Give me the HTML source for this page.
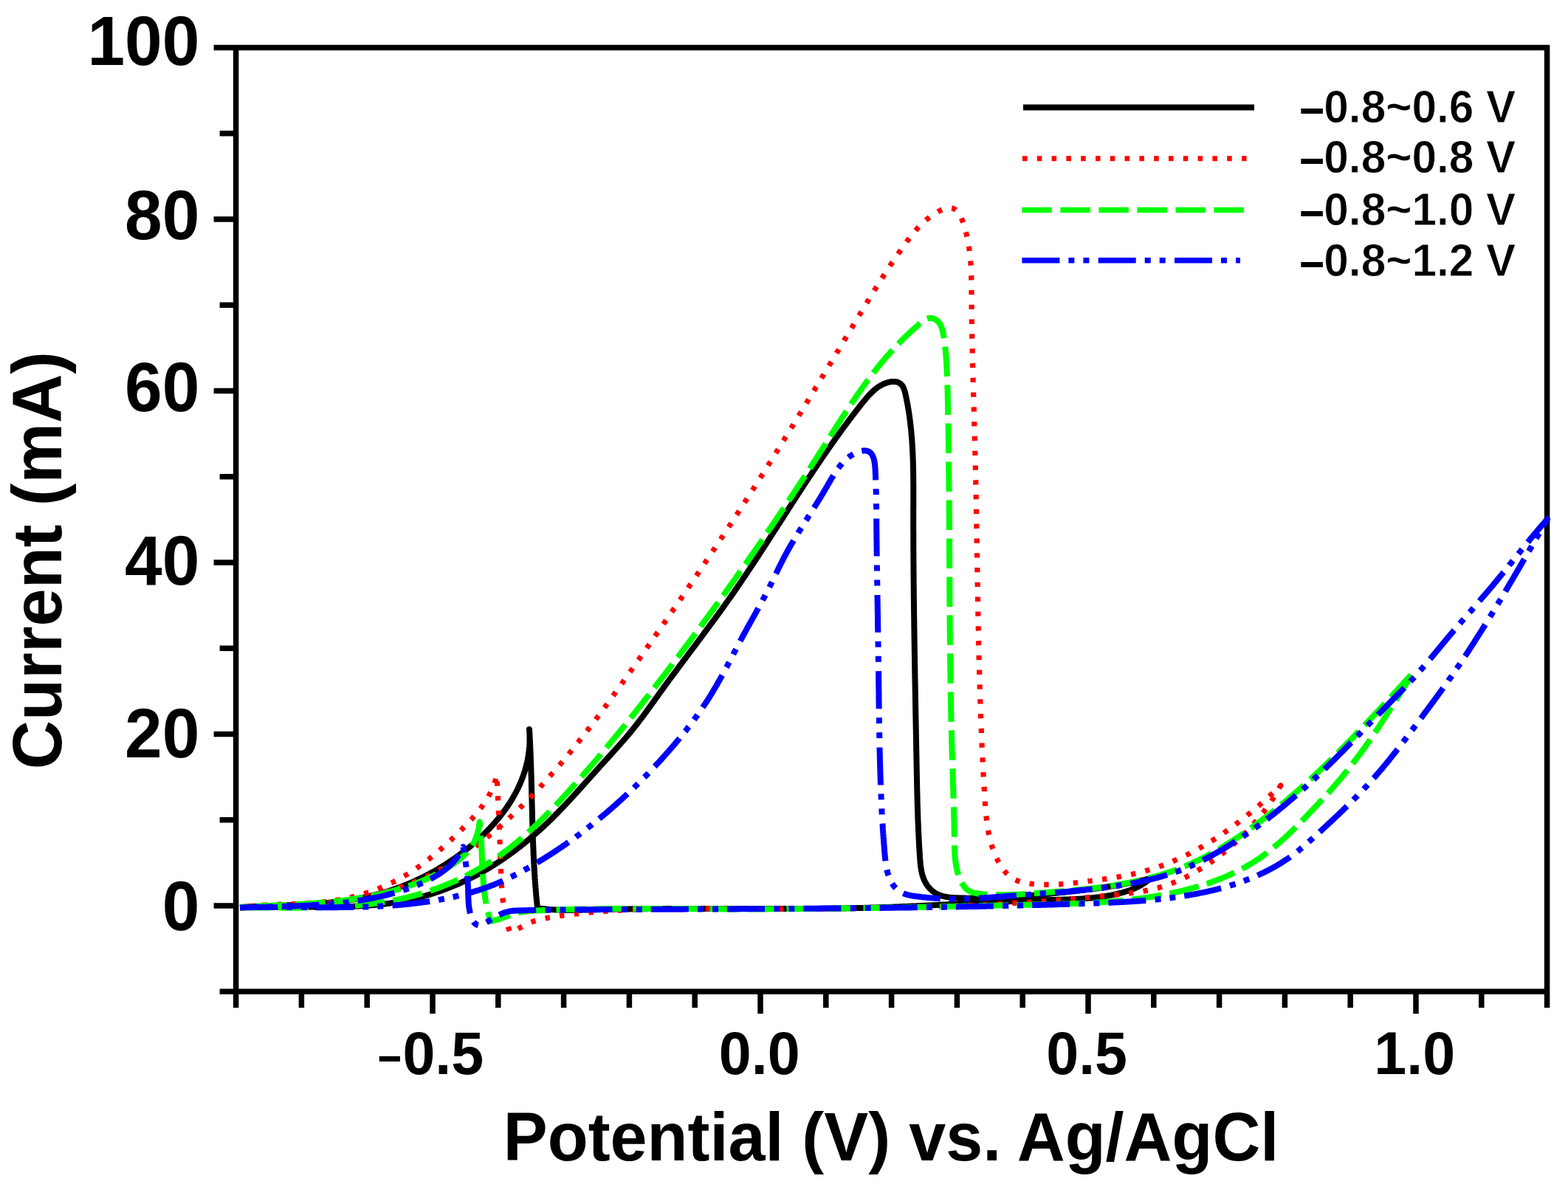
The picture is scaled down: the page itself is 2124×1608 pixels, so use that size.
<!DOCTYPE html><html><head><meta charset="utf-8"><title>Cyclic voltammetry</title>
<style>html,body{margin:0;padding:0;background:#fff;}body{width:2124px;height:1608px;overflow:hidden;}svg{display:block;} text{font-family:"Liberation Sans",Arial,sans-serif;font-weight:bold;fill:#000;}</style></head><body>
<svg xmlns="http://www.w3.org/2000/svg" width="2124" height="1608" viewBox="0 0 2124 1608">
<rect width="2124" height="1608" fill="#fff"/>
<path d="M319.6,64.5 H2095.6 V1343.2 H319.6 Z M297.6,1343.2 H319.6 M289.6,1227.0 H319.6 M297.6,1110.8 H319.6 M289.6,994.5 H319.6 M297.6,878.2 H319.6 M289.6,762.0 H319.6 M297.6,645.8 H319.6 M289.6,529.5 H319.6 M297.6,413.2 H319.6 M289.6,297.0 H319.6 M297.6,180.8 H319.6 M289.6,64.5 H319.6 M319.6,1343.2 V1365.2 M408.4,1343.2 V1365.2 M497.2,1343.2 V1365.2 M586.0,1343.2 V1373.2 M674.8,1343.2 V1365.2 M763.6,1343.2 V1365.2 M852.4,1343.2 V1365.2 M941.2,1343.2 V1365.2 M1030.0,1343.2 V1373.2 M1118.8,1343.2 V1365.2 M1207.6,1343.2 V1365.2 M1296.4,1343.2 V1365.2 M1385.2,1343.2 V1365.2 M1474.0,1343.2 V1373.2 M1562.8,1343.2 V1365.2 M1651.6,1343.2 V1365.2 M1740.4,1343.2 V1365.2 M1829.2,1343.2 V1365.2 M1918.0,1343.2 V1373.2 M2006.8,1343.2 V1365.2 M2095.6,1343.2 V1365.2" fill="none" stroke="#000" stroke-width="7.5" stroke-linecap="butt" stroke-linejoin="miter"/>
<path d="M325.0,1229.5L327.0,1229.4 328.9,1229.3 330.9,1229.2 332.9,1229.1 334.9,1229.0 336.9,1228.9 338.9,1228.9 340.8,1228.8 342.8,1228.7 344.8,1228.7 346.8,1228.6 348.8,1228.6 350.8,1228.5 352.8,1228.5 354.8,1228.5 356.8,1228.4 358.8,1228.4 360.8,1228.4 362.8,1228.4 364.8,1228.4 366.8,1228.3 368.8,1228.3 370.8,1228.3 372.8,1228.3 374.8,1228.3 376.8,1228.3 378.8,1228.3 380.8,1228.3 382.8,1228.3 384.8,1228.3 386.8,1228.4 388.8,1228.4 390.8,1228.4 392.9,1228.4 394.9,1228.4 396.9,1228.4 398.9,1228.4 400.9,1228.5 402.9,1228.5 404.9,1228.5 407.0,1228.5 409.0,1228.5 411.0,1228.5 413.0,1228.6 415.0,1228.6 417.0,1228.6 419.0,1228.6 421.1,1228.6 423.1,1228.6 425.1,1228.6 427.1,1228.7 429.1,1228.7 431.2,1228.7 433.2,1228.7 435.2,1228.7 437.2,1228.7 439.2,1228.7 441.2,1228.7 443.3,1228.7 445.3,1228.6 447.3,1228.6 449.3,1228.6 451.3,1228.6 453.3,1228.6 455.3,1228.5 457.4,1228.5 459.4,1228.5 461.4,1228.4 463.4,1228.4 465.4,1228.3 467.4,1228.3 469.4,1228.2 471.4,1228.1 473.5,1228.1 475.5,1228.0 477.5,1227.9 479.5,1227.8 481.5,1227.7 483.5,1227.6 485.5,1227.5 487.5,1227.4 489.5,1227.3 491.5,1227.2 493.5,1227.1 495.5,1226.9 497.5,1226.8 499.5,1226.6 501.5,1226.5 503.5,1226.3 505.5,1226.1 507.5,1225.9 509.5,1225.8 511.4,1225.6 513.4,1225.4 515.4,1225.1 517.4,1224.9 519.4,1224.7 521.4,1224.4 523.4,1224.2 525.3,1223.9 527.3,1223.7 529.3,1223.4 531.3,1223.1 533.2,1222.8 535.2,1222.5 537.2,1222.2 539.1,1221.9 541.1,1221.5 543.1,1221.2 545.0,1220.8 547.0,1220.4 548.9,1220.0 550.9,1219.7 552.9,1219.2 554.8,1218.8 556.8,1218.4 558.7,1218.0 560.6,1217.5 562.6,1217.1 564.5,1216.6 566.5,1216.1 568.4,1215.6 570.3,1215.1 572.3,1214.6 574.2,1214.0 576.1,1213.5 578.0,1212.9 579.9,1212.4 581.9,1211.8 583.8,1211.2 585.7,1210.6 587.6,1210.0 589.5,1209.4 591.4,1208.8 593.3,1208.1 595.2,1207.5 597.1,1206.8 599.0,1206.1 600.8,1205.4 602.7,1204.7 604.6,1204.0 606.5,1203.3 608.3,1202.6 610.2,1201.8 612.0,1201.1 613.9,1200.3 615.7,1199.6 617.6,1198.8 619.4,1198.0 621.3,1197.2 623.1,1196.4 624.9,1195.6 626.8,1194.7 628.6,1193.9 630.4,1193.0 632.2,1192.2 634.0,1191.3 635.8,1190.4 637.6,1189.5 639.4,1188.6 641.2,1187.7 642.9,1186.8 644.7,1185.9 646.5,1184.9 648.3,1184.0 650.0,1183.0 651.8,1182.0 653.5,1181.0 655.3,1180.1 657.0,1179.1 658.7,1178.0 660.4,1177.0 662.2,1176.0 663.9,1175.0 665.6,1173.9 667.3,1172.9 669.0,1171.8 670.7,1170.7 672.4,1169.6 674.1,1168.6 675.7,1167.5 677.4,1166.4 679.1,1165.2 680.8,1164.1 682.4,1163.0 684.1,1161.8 685.7,1160.7 687.4,1159.5 689.0,1158.4 690.6,1157.2 692.2,1156.0 693.9,1154.9 695.5,1153.7 697.1,1152.5 698.7,1151.3 700.3,1150.0 701.9,1148.8 703.5,1147.6 705.1,1146.4 706.6,1145.1 708.2,1143.9 709.8,1142.6 711.3,1141.3 712.9,1140.1 714.4,1138.8 716.0,1137.5 717.5,1136.2 719.1,1134.9 720.6,1133.6 722.1,1132.3 723.6,1131.0 725.1,1129.7 726.6,1128.4 728.1,1127.0 729.6,1125.7 731.1,1124.4 732.6,1123.0 734.1,1121.7 735.6,1120.3 737.0,1118.9 738.5,1117.6 740.0,1116.2 741.4,1114.8 742.9,1113.4 744.3,1112.0 745.7,1110.7 747.2,1109.3 748.6,1107.9 750.0,1106.4 751.4,1105.0 752.8,1103.6 754.2,1102.2 755.6,1100.8 757.0,1099.3 758.4,1097.9 759.8,1096.5 761.2,1095.0 762.6,1093.6 763.9,1092.1 765.3,1090.7 766.7,1089.2 768.0,1087.8 769.4,1086.3 770.7,1084.9 772.1,1083.4 773.4,1081.9 774.8,1080.5 776.1,1079.0 777.5,1077.5 778.8,1076.0 780.2,1074.6 781.5,1073.1 782.9,1071.6 784.2,1070.1 785.5,1068.6 786.9,1067.2 788.2,1065.7 789.5,1064.2 790.9,1062.7 792.2,1061.2 793.5,1059.7 794.9,1058.2 796.2,1056.7 797.5,1055.2 798.9,1053.7 800.2,1052.2 801.5,1050.8 802.9,1049.3 804.2,1047.8 805.5,1046.3 806.9,1044.8 808.2,1043.3 809.6,1041.8 810.9,1040.3 812.2,1038.8 813.6,1037.3 814.9,1035.9 816.3,1034.4 817.6,1032.9 819.0,1031.4 820.4,1029.9 821.7,1028.4 823.1,1026.9 824.4,1025.5 825.8,1024.0 827.1,1022.5 828.5,1021.0 829.8,1019.5 831.2,1018.0 832.5,1016.5 833.9,1015.0 835.2,1013.5 836.6,1012.0 837.9,1010.5 839.2,1009.0 840.6,1007.5 841.9,1006.0 843.2,1004.5 844.5,1003.0 845.9,1001.5 847.2,1000.0 848.5,998.4 849.8,996.9 851.1,995.4 852.3,993.9 853.6,992.3 854.9,990.8 856.2,989.2 857.4,987.7 858.7,986.1 859.9,984.6 861.2,983.0 862.4,981.4 863.6,979.9 864.8,978.3 866.0,976.7 867.2,975.1 868.4,973.5 869.6,971.9 870.8,970.4 872.0,968.8 873.2,967.2 874.4,965.6 875.6,964.0 876.7,962.4 877.9,960.7 879.1,959.1 880.2,957.5 881.4,955.9 882.6,954.3 883.7,952.7 884.9,951.1 886.1,949.5 887.2,947.8 888.4,946.2 889.5,944.6 890.7,943.0 891.9,941.4 893.0,939.7 894.2,938.1 895.3,936.5 896.5,934.9 897.7,933.3 898.9,931.6 900.0,930.0 901.2,928.4 902.4,926.8 903.6,925.2 904.8,923.6 905.9,922.0 907.1,920.3 908.3,918.7 909.5,917.1 910.7,915.5 911.9,913.9 913.1,912.3 914.3,910.7 915.5,909.1 916.7,907.5 917.9,905.8 919.1,904.2 920.3,902.6 921.5,901.0 922.7,899.4 923.9,897.8 925.1,896.2 926.3,894.6 927.5,893.0 928.7,891.4 929.9,889.8 931.1,888.1 932.3,886.5 933.5,884.9 934.7,883.3 935.9,881.7 937.1,880.1 938.3,878.5 939.6,876.9 940.8,875.3 942.0,873.7 943.2,872.1 944.4,870.4 945.6,868.8 946.8,867.2 948.0,865.6 949.2,864.0 950.4,862.4 951.6,860.8 952.8,859.2 954.0,857.5 955.2,855.9 956.4,854.3 957.6,852.7 958.8,851.1 960.0,849.5 961.2,847.8 962.4,846.2 963.6,844.6 964.8,843.0 966.0,841.4 967.2,839.8 968.4,838.1 969.6,836.5 970.8,834.9 972.0,833.3 973.1,831.6 974.3,830.0 975.5,828.4 976.7,826.8 977.9,825.1 979.0,823.5 980.2,821.9 981.4,820.2 982.5,818.6 983.7,817.0 984.9,815.3 986.0,813.7 987.2,812.1 988.3,810.4 989.5,808.8 990.7,807.2 991.8,805.5 992.9,803.9 994.1,802.2 995.2,800.6 996.4,798.9 997.5,797.3 998.6,795.6 999.8,794.0 1000.9,792.3 1002.0,790.7 1003.2,789.0 1004.3,787.4 1005.4,785.7 1006.5,784.1 1007.6,782.4 1008.8,780.8 1009.9,779.1 1011.0,777.5 1012.1,775.8 1013.2,774.1 1014.3,772.5 1015.4,770.8 1016.5,769.2 1017.6,767.5 1018.7,765.8 1019.8,764.2 1020.9,762.5 1022.0,760.8 1023.1,759.2 1024.2,757.5 1025.3,755.8 1026.4,754.2 1027.5,752.5 1028.6,750.8 1029.7,749.2 1030.8,747.5 1031.8,745.8 1032.9,744.1 1034.0,742.5 1035.1,740.8 1036.2,739.1 1037.3,737.5 1038.3,735.8 1039.4,734.1 1040.5,732.4 1041.6,730.8 1042.7,729.1 1043.7,727.4 1044.8,725.7 1045.9,724.1 1047.0,722.4 1048.1,720.7 1049.1,719.0 1050.2,717.4 1051.3,715.7 1052.4,714.0 1053.4,712.3 1054.5,710.6 1055.6,709.0 1056.7,707.3 1057.7,705.6 1058.8,703.9 1059.9,702.3 1061.0,700.6 1062.0,698.9 1063.1,697.2 1064.2,695.5 1065.3,693.9 1066.4,692.2 1067.4,690.5 1068.5,688.8 1069.6,687.1 1070.7,685.5 1071.7,683.8 1072.8,682.1 1073.9,680.4 1075.0,678.8 1076.1,677.1 1077.2,675.4 1078.2,673.7 1079.3,672.0 1080.4,670.4 1081.5,668.7 1082.6,667.0 1083.7,665.3 1084.8,663.7 1085.9,662.0 1087.0,660.3 1088.1,658.6 1089.1,657.0 1090.2,655.3 1091.3,653.6 1092.4,652.0 1093.5,650.3 1094.6,648.6 1095.7,646.9 1096.9,645.3 1098.0,643.6 1099.1,641.9 1100.2,640.3 1101.3,638.6 1102.4,636.9 1103.5,635.3 1104.6,633.6 1105.8,631.9 1106.9,630.3 1108.0,628.6 1109.1,626.9 1110.3,625.3 1111.4,623.6 1112.5,621.9 1113.6,620.3 1114.8,618.6 1115.9,617.0 1117.1,615.3 1118.2,613.6 1119.4,612.0 1120.5,610.3 1121.6,608.7 1122.8,607.0 1124.0,605.4 1125.1,603.7 1126.3,602.1 1127.4,600.4 1128.6,598.8 1129.8,597.1 1130.9,595.5 1132.1,593.8 1133.3,592.2 1134.5,590.5 1135.7,588.9 1136.8,587.3 1138.0,585.6 1139.2,584.0 1140.4,582.3 1141.6,580.7 1142.8,579.1 1144.0,577.4 1145.2,575.8 1146.5,574.2 1147.7,572.5 1148.9,570.9 1150.1,569.3 1151.3,567.6 1152.6,566.0 1153.8,564.4 1155.0,562.8 1156.3,561.2 1157.5,559.5 1158.8,557.9 1160.0,556.3 1161.3,554.7 1162.5,553.1 1163.8,551.5 1165.1,549.8 1166.3,548.2 1167.6,546.6 1168.9,545.0 1170.2,543.4 1171.5,541.8 1172.8,540.3 1174.1,538.7 1175.5,537.2 1176.8,535.7 1178.2,534.2 1179.6,532.8 1181.0,531.4 1182.5,530.0 1183.9,528.7 1185.4,527.4 1187.0,526.2 1188.5,525.0 1190.1,523.9 1191.8,522.9 1193.5,521.9 1195.2,521.0 1196.9,520.1 1198.8,519.4 1200.6,518.7 1202.5,518.1 1204.5,517.6 1206.4,517.3 1208.3,517.0 1210.2,516.9 1212.1,517.0 1213.9,517.2 1215.5,517.6 1217.1,518.2 1218.6,519.0 1219.9,520.0 1221.1,521.1 1222.2,522.4 1223.1,523.9 1223.9,525.5 1224.6,527.2 1225.3,529.1 1225.8,531.0 1226.3,532.9 1226.8,534.9 1227.2,536.9 1227.6,539.0 1228.0,541.0 1228.4,543.0 1228.8,545.0 1229.2,547.0 1229.5,549.0 1229.9,551.0 1230.2,553.0 1230.6,555.0 1230.9,557.0 1231.2,559.0 1231.5,561.0 1231.8,563.1 1232.1,565.1 1232.3,567.1 1232.6,569.1 1232.8,571.1 1233.1,573.1 1233.3,575.1 1233.5,577.1 1233.8,579.1 1234.0,581.1 1234.2,583.1 1234.4,585.1 1234.5,587.1 1234.7,589.1 1234.9,591.1 1235.1,593.1 1235.2,595.1 1235.4,597.1 1235.5,599.1 1235.6,601.1 1235.8,603.1 1235.9,605.1 1236.0,607.1 1236.1,609.1 1236.2,611.1 1236.3,613.1 1236.4,615.1 1236.5,617.1 1236.5,619.1 1236.6,621.1 1236.7,623.1 1236.8,625.1 1236.8,627.1 1236.9,629.1 1236.9,631.1 1237.0,633.1 1237.0,635.1 1237.1,637.1 1237.1,639.1 1237.1,641.1 1237.1,643.1 1237.2,645.1 1237.2,647.1 1237.2,649.1 1237.2,651.1 1237.2,653.1 1237.3,655.1 1237.3,657.1 1237.3,659.1 1237.3,661.1 1237.3,663.1 1237.3,665.1 1237.3,667.1 1237.3,669.1 1237.3,671.1 1237.3,673.2 1237.3,675.2 1237.3,677.2 1237.3,679.2 1237.3,681.2 1237.3,683.2 1237.3,685.2 1237.3,687.2 1237.2,689.2 1237.2,691.2 1237.2,693.2 1237.2,695.2 1237.2,697.2 1237.2,699.2 1237.2,701.2 1237.2,703.2 1237.2,705.2 1237.2,707.2 1237.2,709.2 1237.2,711.2 1237.2,713.2 1237.2,715.2 1237.2,717.2 1237.3,719.2 1237.3,721.2 1237.3,723.2 1237.3,725.2 1237.3,727.2 1237.3,729.2 1237.3,731.2 1237.3,733.2 1237.3,735.2 1237.3,737.2 1237.3,739.2 1237.3,741.3 1237.3,743.3 1237.3,745.3 1237.4,747.3 1237.4,749.3 1237.4,751.3 1237.4,753.3 1237.4,755.3 1237.4,757.3 1237.4,759.3 1237.4,761.3 1237.4,763.3 1237.5,765.3 1237.5,767.3 1237.5,769.3 1237.5,771.3 1237.5,773.3 1237.5,775.4 1237.6,777.4 1237.6,779.4 1237.6,781.4 1237.6,783.4 1237.6,785.4 1237.6,787.4 1237.7,789.4 1237.7,791.4 1237.7,793.4 1237.7,795.4 1237.7,797.4 1237.8,799.4 1237.8,801.4 1237.8,803.4 1237.8,805.5 1237.8,807.5 1237.9,809.5 1237.9,811.5 1237.9,813.5 1237.9,815.5 1238.0,817.5 1238.0,819.5 1238.0,821.5 1238.0,823.5 1238.1,825.5 1238.1,827.5 1238.1,829.5 1238.1,831.5 1238.2,833.6 1238.2,835.6 1238.2,837.6 1238.2,839.6 1238.3,841.6 1238.3,843.6 1238.3,845.6 1238.3,847.6 1238.4,849.6 1238.4,851.6 1238.4,853.6 1238.5,855.6 1238.5,857.6 1238.5,859.6 1238.5,861.6 1238.6,863.7 1238.6,865.7 1238.6,867.7 1238.7,869.7 1238.7,871.7 1238.7,873.7 1238.8,875.7 1238.8,877.7 1238.8,879.7 1238.8,881.7 1238.9,883.7 1238.9,885.7 1238.9,887.7 1239.0,889.7 1239.0,891.7 1239.0,893.7 1239.1,895.7 1239.1,897.7 1239.1,899.8 1239.2,901.8 1239.2,903.8 1239.2,905.8 1239.3,907.8 1239.3,909.8 1239.3,911.8 1239.4,913.8 1239.4,915.8 1239.4,917.8 1239.5,919.8 1239.5,921.8 1239.5,923.8 1239.6,925.8 1239.6,927.8 1239.7,929.8 1239.7,931.8 1239.7,933.8 1239.8,935.8 1239.8,937.8 1239.8,939.8 1239.9,941.8 1239.9,943.8 1239.9,945.8 1240.0,947.8 1240.0,949.8 1240.0,951.8 1240.1,953.8 1240.1,955.8 1240.2,957.8 1240.2,959.8 1240.2,961.8 1240.3,963.8 1240.3,965.8 1240.3,967.8 1240.4,969.8 1240.4,971.8 1240.5,973.8 1240.5,975.8 1240.5,977.8 1240.6,979.8 1240.6,981.8 1240.6,983.8 1240.7,985.8 1240.7,987.8 1240.8,989.8 1240.8,991.8 1240.8,993.8 1240.9,995.8 1240.9,997.8 1240.9,999.8 1241.0,1001.8 1241.0,1003.8 1241.1,1005.8 1241.1,1007.8 1241.1,1009.8 1241.2,1011.8 1241.2,1013.8 1241.2,1015.8 1241.3,1017.8 1241.3,1019.8 1241.4,1021.8 1241.4,1023.8 1241.4,1025.8 1241.5,1027.8 1241.5,1029.7 1241.5,1031.7 1241.6,1033.7 1241.6,1035.7 1241.6,1037.7 1241.7,1039.7 1241.7,1041.7 1241.8,1043.7 1241.8,1045.7 1241.8,1047.7 1241.9,1049.7 1241.9,1051.7 1242.0,1053.7 1242.0,1055.6 1242.0,1057.6 1242.1,1059.6 1242.1,1061.6 1242.2,1063.6 1242.2,1065.6 1242.2,1067.6 1242.3,1069.6 1242.3,1071.6 1242.4,1073.6 1242.4,1075.6 1242.5,1077.6 1242.5,1079.6 1242.6,1081.6 1242.6,1083.6 1242.7,1085.6 1242.7,1087.6 1242.8,1089.6 1242.9,1091.6 1242.9,1093.6 1243.0,1095.6 1243.0,1097.6 1243.1,1099.6 1243.2,1101.6 1243.2,1103.6 1243.3,1105.6 1243.4,1107.6 1243.4,1109.6 1243.5,1111.6 1243.6,1113.6 1243.7,1115.6 1243.8,1117.7 1243.8,1119.7 1243.9,1121.7 1244.0,1123.7 1244.1,1125.7 1244.2,1127.7 1244.3,1129.8 1244.4,1131.8 1244.5,1133.8 1244.6,1135.8 1244.7,1137.9 1244.8,1139.9 1244.9,1141.9 1245.0,1144.0 1245.1,1146.0 1245.2,1148.0 1245.4,1150.1 1245.5,1152.1 1245.6,1154.1 1245.7,1156.2 1245.9,1158.2 1246.0,1160.3 1246.1,1162.3 1246.3,1164.4 1246.4,1166.4 1246.6,1168.5 1246.8,1170.5 1247.0,1172.5 1247.3,1174.5 1247.6,1176.5 1247.9,1178.5 1248.3,1180.5 1248.7,1182.4 1249.2,1184.3 1249.7,1186.2 1250.3,1188.1 1251.0,1189.9 1251.7,1191.7 1252.5,1193.5 1253.4,1195.2 1254.4,1196.9 1255.4,1198.6 1256.6,1200.2 1257.8,1201.7 1259.0,1203.2 1260.4,1204.6 1261.8,1205.9 1263.2,1207.2 1264.8,1208.3 1266.4,1209.4 1268.0,1210.4 1269.7,1211.3 1271.4,1212.1 1273.2,1212.8 1275.1,1213.4 1276.9,1213.9 1278.9,1214.4 1280.8,1214.8 1282.8,1215.1 1284.7,1215.4 1286.8,1215.7 1288.8,1215.9 1290.8,1216.0 1292.9,1216.2 1295.0,1216.3 1297.0,1216.3 1299.1,1216.4 1301.1,1216.5 1303.2,1216.6 1305.3,1216.6 1307.3,1216.6 1309.4,1216.7 1311.4,1216.7 1313.4,1216.7 1315.5,1216.8 1317.5,1216.8 1319.6,1216.8 1321.6,1216.8 1323.6,1216.8 1325.6,1216.7 1327.7,1216.7 1329.7,1216.7 1331.7,1216.7 1333.7,1216.6 1335.7,1216.6 1337.7,1216.5 1339.7,1216.5 1341.8,1216.4 1343.8,1216.3 1345.8,1216.3 1347.8,1216.2 1349.8,1216.1 1351.8,1216.0 1353.8,1215.9 1355.8,1215.8 1357.7,1215.7 1359.7,1215.6 1361.7,1215.5 1363.7,1215.4 1365.7,1215.3 1367.7,1215.2 1369.7,1215.0 1371.7,1214.9 1373.7,1214.8 1375.6,1214.6 1377.6,1214.5 1379.6,1214.3 1381.6,1214.2 1383.6,1214.0 1385.6,1213.9 1387.5,1213.7 1389.5,1213.6 1391.5,1213.4 1393.5,1213.2 1395.5,1213.1 1397.4,1212.9 1399.4,1212.7 1401.4,1212.6 1403.4,1212.4 1405.4,1212.2 1407.3,1212.0 1409.3,1211.8 1411.3,1211.7 1413.3,1211.5 1415.3,1211.3 1417.3,1211.1 1419.3,1210.9 1421.2,1210.7 1423.2,1210.5 1425.2,1210.3 1427.2,1210.1 1429.2,1209.9 1431.2,1209.7 1433.2,1209.5 1435.2,1209.3 1437.2,1209.1 1439.2,1208.9 1441.2,1208.7 1443.2,1208.5 1445.2,1208.3 1447.2,1208.1 1449.2,1207.9 1451.2,1207.6 1453.2,1207.4 1455.2,1207.2 1457.2,1207.0 1459.1,1206.7 1461.1,1206.5 1463.1,1206.3 1465.1,1206.0 1467.1,1205.8 1469.1,1205.6 1471.1,1205.3 1473.1,1205.1 1475.1,1204.8 1477.1,1204.5 1479.1,1204.3 1481.1,1204.0 1483.1,1203.8 1485.1,1203.5 1487.1,1203.2 1489.1,1202.9 1491.1,1202.6 1493.1,1202.4 1495.1,1202.1 1497.1,1201.8 1499.0,1201.5 1501.0,1201.2 1503.0,1200.9 1505.0,1200.5 1507.0,1200.2 1509.0,1199.9 1511.0,1199.6 1512.9,1199.2 1514.9,1198.9 1516.9,1198.5 1518.9,1198.2 1520.8,1197.8 1522.8,1197.5 1524.8,1197.1 1526.8,1196.8 1528.7,1196.4 1530.7,1196.0 1532.7,1195.6 1534.6,1195.2 1536.6,1194.8 1538.5,1194.4 1540.5,1194.0 1542.4,1193.6 1544.4,1193.2 1546.3,1192.7 1548.3,1192.3 1550.2,1191.8 1552.2,1191.4 1554.1,1190.9 1556.1,1190.5 1558.0,1190.0 1556.5,1191.4 1554.9,1192.7 1553.3,1194.0 1551.7,1195.2 1550.0,1196.3 1548.4,1197.4 1546.7,1198.5 1545.0,1199.5 1543.2,1200.4 1541.5,1201.3 1539.7,1202.2 1537.9,1203.0 1536.1,1203.8 1534.3,1204.6 1532.4,1205.3 1530.6,1206.0 1528.7,1206.6 1526.9,1207.2 1525.0,1207.8 1523.1,1208.4 1521.2,1208.9 1519.3,1209.5 1517.4,1210.0 1515.5,1210.4 1513.5,1210.9 1511.6,1211.3 1509.7,1211.8 1507.7,1212.2 1505.8,1212.6 1503.9,1212.9 1501.9,1213.3 1500.0,1213.6 1498.0,1214.0 1496.0,1214.3 1494.1,1214.6 1492.1,1214.8 1490.1,1215.1 1488.2,1215.4 1486.2,1215.6 1484.2,1215.8 1482.2,1216.1 1480.2,1216.3 1478.2,1216.5 1476.2,1216.7 1474.2,1216.8 1472.2,1217.0 1470.2,1217.1 1468.2,1217.3 1466.2,1217.4 1464.2,1217.6 1462.2,1217.7 1460.2,1217.8 1458.2,1217.9 1456.2,1218.0 1454.2,1218.1 1452.1,1218.2 1450.1,1218.3 1448.1,1218.4 1446.1,1218.4 1444.1,1218.5 1442.0,1218.6 1440.0,1218.6 1438.0,1218.7 1436.0,1218.8 1433.9,1218.8 1431.9,1218.9 1429.9,1218.9 1427.9,1219.0 1425.8,1219.0 1423.8,1219.1 1421.8,1219.2 1419.8,1219.2 1417.7,1219.3 1415.7,1219.3 1413.7,1219.4 1411.7,1219.5 1409.6,1219.5 1407.6,1219.6 1405.6,1219.7 1403.6,1219.7 1401.6,1219.8 1399.5,1219.9 1397.5,1219.9 1395.5,1220.0 1393.5,1220.1 1391.5,1220.2 1389.5,1220.3 1387.4,1220.3 1385.4,1220.4 1383.4,1220.5 1381.4,1220.6 1379.4,1220.7 1377.4,1220.7 1375.4,1220.8 1373.3,1220.9 1371.3,1221.0 1369.3,1221.1 1367.3,1221.2 1365.3,1221.3 1363.3,1221.4 1361.3,1221.4 1359.3,1221.5 1357.3,1221.6 1355.3,1221.7 1353.2,1221.8 1351.2,1221.9 1349.2,1222.0 1347.2,1222.1 1345.2,1222.2 1343.2,1222.3 1341.2,1222.4 1339.2,1222.5 1337.2,1222.6 1335.2,1222.7 1333.2,1222.8 1331.2,1222.9 1329.2,1223.0 1327.2,1223.1 1325.2,1223.2 1323.2,1223.3 1321.1,1223.4 1319.1,1223.5 1317.1,1223.6 1315.1,1223.7 1313.1,1223.8 1311.1,1223.9 1309.1,1224.0 1307.1,1224.1 1305.1,1224.2 1303.1,1224.3 1301.1,1224.4 1299.1,1224.5 1297.1,1224.6 1295.1,1224.7 1293.1,1224.8 1291.1,1224.9 1289.1,1225.0 1287.1,1225.1 1285.1,1225.2 1283.1,1225.3 1281.1,1225.4 1279.1,1225.5 1277.1,1225.6 1275.1,1225.7 1273.1,1225.8 1271.1,1225.9 1269.1,1226.0 1267.1,1226.1 1265.1,1226.2 1263.1,1226.3 1261.1,1226.4 1259.1,1226.5 1257.1,1226.6 1255.1,1226.7 1253.1,1226.8 1251.1,1226.9 1249.1,1227.0 1247.1,1227.1 1245.1,1227.2 1243.1,1227.3 1241.1,1227.4 1239.1,1227.4 1237.1,1227.5 1235.1,1227.6 1233.1,1227.7 1231.1,1227.8 1229.1,1227.9 1227.1,1228.0 1225.1,1228.0 1223.1,1228.1 1221.1,1228.2 1219.1,1228.3 1217.1,1228.4 1215.1,1228.4 1213.1,1228.5 1211.1,1228.6 1209.1,1228.7 1207.1,1228.7 1205.1,1228.8 1203.1,1228.9 1201.1,1228.9 1199.1,1229.0 1197.1,1229.1 1195.1,1229.1 1193.1,1229.2 1191.1,1229.3 1189.1,1229.3 1187.1,1229.4 1185.1,1229.4 1183.1,1229.5 1181.1,1229.6 1179.1,1229.6 1177.1,1229.7 1175.1,1229.7 1173.1,1229.8 1171.1,1229.8 1169.1,1229.9 1167.1,1229.9 1165.1,1230.0 1163.1,1230.0 1161.1,1230.1 1159.1,1230.1 1157.1,1230.1 1155.1,1230.2 1153.1,1230.2 1151.1,1230.3 1149.1,1230.3 1147.1,1230.3 1145.1,1230.4 1143.0,1230.4 1141.0,1230.4 1139.0,1230.5 1137.0,1230.5 1135.0,1230.5 1133.0,1230.6 1131.0,1230.6 1129.0,1230.6 1127.0,1230.6 1125.0,1230.7 1123.0,1230.7 1121.0,1230.7 1119.0,1230.7 1117.0,1230.8 1115.0,1230.8 1113.0,1230.8 1111.0,1230.8 1109.0,1230.8 1106.9,1230.9 1104.9,1230.9 1102.9,1230.9 1100.9,1230.9 1098.9,1230.9 1096.9,1230.9 1094.9,1231.0 1092.9,1231.0 1090.9,1231.0 1088.9,1231.0 1086.9,1231.0 1084.9,1231.0 1082.9,1231.0 1080.9,1231.0 1078.9,1231.1 1076.8,1231.1 1074.8,1231.1 1072.8,1231.1 1070.8,1231.1 1068.8,1231.1 1066.8,1231.1 1064.8,1231.1 1062.8,1231.1 1060.8,1231.1 1058.8,1231.1 1056.8,1231.1 1054.8,1231.1 1052.7,1231.1 1050.7,1231.1 1048.7,1231.1 1046.7,1231.1 1044.7,1231.1 1042.7,1231.1 1040.7,1231.1 1038.7,1231.1 1036.7,1231.1 1034.7,1231.1 1032.7,1231.1 1030.7,1231.1 1028.6,1231.1 1026.6,1231.1 1024.6,1231.1 1022.6,1231.1 1020.6,1231.1 1018.6,1231.1 1016.6,1231.1 1014.6,1231.1 1012.6,1231.1 1010.6,1231.1 1008.6,1231.1 1006.5,1231.1 1004.5,1231.1 1002.5,1231.1 1000.5,1231.1 998.5,1231.1 996.5,1231.1 994.5,1231.1 992.5,1231.1 990.5,1231.1 988.5,1231.1 986.4,1231.1 984.4,1231.0 982.4,1231.0 980.4,1231.0 978.4,1231.0 976.4,1231.0 974.4,1231.0 972.4,1231.0 970.4,1231.0 968.4,1231.0 966.4,1231.0 964.3,1231.0 962.3,1231.0 960.3,1231.0 958.3,1231.0 956.3,1231.0 954.3,1231.0 952.3,1231.0 950.3,1231.0 948.3,1231.0 946.3,1231.0 944.3,1231.0 942.2,1231.0 940.2,1231.0 938.2,1231.0 936.2,1231.0 934.2,1231.0 932.2,1231.0 930.2,1231.0 928.2,1231.0 926.2,1231.0 924.2,1231.0 922.1,1231.0 920.1,1231.0 918.1,1231.0 916.1,1231.0 914.1,1231.0 912.1,1231.0 910.1,1231.0 908.1,1231.0 906.1,1231.0 904.1,1231.0 902.1,1231.0 900.1,1231.0 898.0,1231.0 896.0,1231.0 894.0,1231.1 892.0,1231.1 890.0,1231.1 888.0,1231.1 886.0,1231.1 884.0,1231.1 882.0,1231.1 880.0,1231.1 878.0,1231.1 875.9,1231.2 873.9,1231.2 871.9,1231.2 869.9,1231.2 867.9,1231.2 865.9,1231.2 863.9,1231.3 861.9,1231.3 859.9,1231.3 857.9,1231.3 855.9,1231.3 853.9,1231.4 851.9,1231.4 849.9,1231.4 847.8,1231.4 845.8,1231.5 843.8,1231.5 841.8,1231.5 839.8,1231.6 837.8,1231.6 835.8,1231.6 833.8,1231.6 831.8,1231.7 829.8,1231.7 827.8,1231.8 825.8,1231.8 823.8,1231.8 821.8,1231.9 819.8,1231.9 817.7,1231.9 815.7,1232.0 813.7,1232.0 811.7,1232.1 809.7,1232.1 807.7,1232.2 805.7,1232.2 803.7,1232.3 801.7,1232.3 799.7,1232.4 797.7,1232.4 795.7,1232.5 793.7,1232.5 791.7,1232.6 789.7,1232.6 787.7,1232.7 785.7,1232.7 783.7,1232.7 781.7,1232.8 779.7,1232.8 777.7,1232.8 775.7,1232.9 773.7,1232.9 771.7,1232.9 769.7,1232.9 767.7,1232.9 765.7,1232.9 763.7,1232.8 761.7,1232.8 759.7,1232.8 757.7,1232.7 755.7,1232.6 753.7,1232.5 751.7,1232.4 749.8,1232.3 747.8,1232.2 745.8,1232.1 743.8,1231.9 741.8,1231.7 739.8,1231.5 737.9,1231.3 735.9,1231.1 733.9,1230.9 731.9,1230.6 730.0,1230.3 728.0,1230.0 727.8,1228.0 727.6,1226.0 727.4,1224.0 727.2,1222.0 727.0,1220.0 726.8,1217.9 726.6,1215.9 726.4,1213.9 726.2,1211.9 726.1,1209.9 725.9,1207.9 725.7,1205.9 725.6,1203.9 725.4,1201.8 725.3,1199.8 725.1,1197.8 725.0,1195.8 724.8,1193.8 724.7,1191.8 724.5,1189.8 724.4,1187.8 724.3,1185.7 724.1,1183.7 724.0,1181.7 723.9,1179.7 723.8,1177.7 723.7,1175.7 723.5,1173.7 723.4,1171.6 723.3,1169.6 723.2,1167.6 723.1,1165.6 723.0,1163.6 722.9,1161.6 722.8,1159.5 722.7,1157.5 722.6,1155.5 722.6,1153.5 722.5,1151.5 722.4,1149.5 722.3,1147.4 722.2,1145.4 722.2,1143.4 722.1,1141.4 722.0,1139.4 721.9,1137.3 721.9,1135.3 721.8,1133.3 721.7,1131.3 721.7,1129.3 721.6,1127.3 721.5,1125.2 721.5,1123.2 721.4,1121.2 721.4,1119.2 721.3,1117.2 721.2,1115.1 721.2,1113.1 721.1,1111.1 721.1,1109.1 721.0,1107.1 721.0,1105.1 720.9,1103.0 720.9,1101.0 720.8,1099.0 720.8,1097.0 720.7,1095.0 720.7,1092.9 720.6,1090.9 720.6,1088.9 720.5,1086.9 720.5,1084.9 720.4,1082.8 720.4,1080.8 720.3,1078.8 720.3,1076.8 720.2,1074.8 720.2,1072.7 720.1,1070.7 720.1,1068.7 720.0,1066.7 720.0,1064.7 719.9,1062.7 719.9,1060.6 719.8,1058.6 719.8,1056.6 719.7,1054.6 719.7,1052.6 719.6,1050.5 719.5,1048.5 719.5,1046.5 719.4,1044.5 719.4,1042.5 719.3,1040.4 719.2,1038.4 719.2,1036.4 719.1,1034.4 719.0,1032.4 719.0,1030.4 718.9,1028.3 718.8,1026.3 718.7,1024.3 718.7,1022.3 718.6,1020.3 718.5,1018.2 718.4,1016.2 718.3,1014.2 718.2,1012.2 718.2,1010.2 718.1,1008.2 718.0,1006.1 717.9,1004.1 717.8,1002.1 717.7,1000.1 717.6,998.1 717.5,996.1 717.3,994.0 717.2,992.0 717.1,990.0 717.0,988.0 717.2,990.1 717.3,992.2 717.4,994.3 717.5,996.4 717.5,998.5 717.5,1000.6 717.5,1002.6 717.5,1004.7 717.4,1006.7 717.3,1008.8 717.2,1010.8 717.0,1012.8 716.8,1014.9 716.6,1016.9 716.4,1018.9 716.1,1020.9 715.8,1022.8 715.5,1024.8 715.2,1026.8 714.8,1028.7 714.4,1030.7 714.0,1032.6 713.5,1034.6 713.1,1036.5 712.6,1038.4 712.1,1040.3 711.5,1042.2 711.0,1044.1 710.4,1046.0 709.8,1047.9 709.1,1049.8 708.5,1051.6 707.8,1053.5 707.1,1055.3 706.4,1057.2 705.6,1059.0 704.8,1060.8 704.1,1062.6 703.2,1064.4 702.4,1066.2 701.6,1068.0 700.7,1069.8 699.8,1071.5 698.9,1073.3 698.0,1075.0 697.0,1076.8 696.0,1078.5 695.1,1080.2 694.1,1081.9 693.0,1083.6 692.0,1085.3 690.9,1087.0 689.9,1088.7 688.8,1090.3 687.7,1092.0 686.5,1093.6 685.4,1095.3 684.2,1096.9 683.0,1098.5 681.9,1100.1 680.6,1101.7 679.4,1103.3 678.2,1104.9 676.9,1106.5 675.7,1108.1 674.4,1109.6 673.1,1111.2 671.8,1112.7 670.5,1114.2 669.1,1115.7 667.8,1117.2 666.4,1118.7 665.0,1120.2 663.7,1121.7 662.3,1123.2 660.9,1124.6 659.4,1126.1 658.0,1127.5 656.6,1129.0 655.1,1130.4 653.6,1131.8 652.2,1133.2 650.7,1134.6 649.2,1136.0 647.7,1137.3 646.2,1138.7 644.6,1140.0 643.1,1141.4 641.6,1142.7 640.0,1144.0 638.5,1145.3 636.9,1146.7 635.3,1147.9 633.8,1149.2 632.2,1150.5 630.6,1151.8 629.0,1153.0 627.4,1154.2 625.8,1155.5 624.1,1156.7 622.5,1157.9 620.9,1159.1 619.2,1160.3 617.6,1161.5 615.9,1162.6 614.3,1163.8 612.6,1164.9 610.9,1166.1 609.3,1167.2 607.6,1168.3 605.9,1169.4 604.2,1170.5 602.5,1171.6 600.8,1172.7 599.1,1173.7 597.4,1174.8 595.6,1175.8 593.9,1176.9 592.2,1177.9 590.4,1178.9 588.7,1179.9 586.9,1180.9 585.2,1181.8 583.4,1182.8 581.6,1183.8 579.8,1184.7 578.1,1185.6 576.3,1186.6 574.5,1187.5 572.7,1188.4 570.9,1189.2 569.1,1190.1 567.3,1191.0 565.4,1191.8 563.6,1192.7 561.8,1193.5 560.0,1194.3 558.1,1195.1 556.3,1195.9 554.5,1196.7 552.6,1197.5 550.8,1198.2 548.9,1199.0 547.0,1199.7 545.2,1200.5 543.3,1201.2 541.4,1201.9 539.6,1202.6 537.7,1203.3 535.8,1203.9 533.9,1204.6 532.0,1205.2 530.1,1205.9 528.2,1206.5 526.3,1207.1 524.4,1207.7 522.5,1208.3 520.6,1208.8 518.6,1209.4 516.7,1210.0 514.8,1210.5 512.9,1211.0 510.9,1211.5 509.0,1212.0 507.1,1212.5 505.1,1213.0 503.2,1213.5 501.2,1213.9 499.3,1214.4 497.3,1214.8 495.4,1215.2 493.4,1215.6 491.5,1216.0 489.5,1216.4 487.5,1216.8 485.6,1217.2 483.6,1217.5 481.6,1217.9 479.7,1218.2 477.7,1218.5 475.7,1218.9 473.7,1219.2 471.7,1219.5 469.8,1219.8 467.8,1220.1 465.8,1220.3 463.8,1220.6 461.8,1220.9 459.8,1221.1 457.8,1221.4 455.8,1221.6 453.8,1221.8 451.8,1222.1 449.8,1222.3 447.8,1222.5 445.8,1222.7 443.8,1222.9 441.8,1223.1 439.8,1223.3 437.8,1223.4 435.8,1223.6 433.7,1223.8 431.7,1223.9 429.7,1224.1 427.7,1224.2 425.7,1224.4 423.7,1224.5 421.6,1224.7 419.6,1224.8 417.6,1224.9 415.6,1225.0 413.6,1225.2 411.6,1225.3 409.5,1225.4 407.5,1225.5 405.5,1225.6 403.5,1225.7 401.4,1225.8 399.4,1225.9 397.4,1226.0 395.4,1226.1 393.4,1226.2 391.3,1226.2 389.3,1226.3 387.3,1226.4 385.3,1226.5 383.2,1226.6 381.2,1226.7 379.2,1226.7 377.2,1226.8 375.2,1226.9 373.1,1227.0 371.1,1227.0 369.1,1227.1 367.1,1227.2 365.1,1227.2 363.1,1227.3 361.0,1227.4 359.0,1227.5 357.0,1227.5 355.0,1227.6 353.0,1227.7 351.0,1227.8 349.0,1227.9 347.0,1227.9 345.0,1228.0 343.0,1228.1 341.0,1228.2 339.0,1228.3 337.0,1228.4 335.0,1228.5 333.0,1228.6 331.0,1228.7 329.0,1228.8 327.0,1228.9 325.0,1229.0" fill="none" stroke="#000000" stroke-width="8.0" stroke-linejoin="round"/>
<path d="M325.0,1229.5L327.0,1229.5 328.9,1229.5 330.9,1229.4 332.9,1229.4 334.8,1229.4 336.8,1229.4 338.8,1229.3 340.8,1229.3 342.8,1229.3 344.7,1229.3 346.7,1229.2 348.7,1229.2 350.7,1229.1 352.7,1229.1 354.7,1229.0 356.7,1229.0 358.7,1228.9 360.7,1228.9 362.7,1228.8 364.7,1228.8 366.7,1228.7 368.7,1228.7 370.7,1228.6 372.7,1228.5 374.7,1228.4 376.7,1228.4 378.7,1228.3 380.7,1228.2 382.7,1228.1 384.7,1228.0 386.7,1227.9 388.7,1227.8 390.7,1227.7 392.7,1227.6 394.7,1227.5 396.7,1227.4 398.7,1227.2 400.8,1227.1 402.8,1227.0 404.8,1226.9 406.8,1226.7 408.8,1226.6 410.8,1226.4 412.8,1226.3 414.8,1226.1 416.8,1226.0 418.8,1225.8 420.9,1225.6 422.9,1225.4 424.9,1225.2 426.9,1225.1 428.9,1224.9 430.9,1224.7 432.9,1224.5 434.9,1224.3 436.9,1224.0 438.9,1223.8 440.9,1223.6 442.9,1223.4 444.9,1223.1 446.9,1222.9 448.9,1222.6 450.9,1222.4 452.9,1222.1 454.9,1221.8 456.9,1221.5 458.9,1221.3 460.9,1221.0 462.9,1220.7 464.9,1220.4 466.8,1220.1 468.8,1219.7 470.8,1219.4 472.8,1219.1 474.8,1218.7 476.7,1218.4 478.7,1218.0 480.7,1217.7 482.7,1217.3 484.6,1216.9 486.6,1216.6 488.6,1216.2 490.5,1215.8 492.5,1215.4 494.4,1214.9 496.4,1214.5 498.3,1214.1 500.3,1213.6 502.2,1213.2 504.2,1212.7 506.1,1212.3 508.1,1211.8 510.0,1211.3 511.9,1210.8 513.9,1210.3 515.8,1209.8 517.7,1209.3 519.6,1208.8 521.5,1208.3 523.5,1207.7 525.4,1207.2 527.3,1206.6 529.2,1206.0 531.1,1205.5 533.0,1204.9 534.9,1204.3 536.8,1203.7 538.6,1203.0 540.5,1202.4 542.4,1201.8 544.3,1201.1 546.1,1200.5 548.0,1199.8 549.9,1199.1 551.7,1198.4 553.6,1197.7 555.4,1197.0 557.3,1196.3 559.1,1195.6 561.0,1194.8 562.8,1194.1 564.6,1193.3 566.5,1192.6 568.3,1191.8 570.1,1191.0 571.9,1190.2 573.7,1189.4 575.5,1188.5 577.3,1187.7 579.1,1186.8 580.9,1186.0 582.7,1185.1 584.4,1184.2 586.2,1183.3 588.0,1182.4 589.7,1181.5 591.5,1180.6 593.2,1179.6 595.0,1178.7 596.7,1177.7 598.5,1176.8 600.2,1175.8 601.9,1174.8 603.6,1173.8 605.4,1172.8 607.1,1171.8 608.8,1170.7 610.5,1169.7 612.2,1168.6 613.9,1167.6 615.6,1166.5 617.2,1165.4 618.9,1164.4 620.6,1163.3 622.3,1162.2 623.9,1161.1 625.6,1159.9 627.3,1158.8 628.9,1157.7 630.5,1156.5 632.2,1155.4 633.8,1154.2 635.5,1153.1 637.1,1151.9 638.7,1150.7 640.3,1149.5 641.9,1148.3 643.5,1147.1 645.2,1145.9 646.8,1144.7 648.3,1143.5 649.9,1142.3 651.5,1141.0 653.1,1139.8 654.7,1138.5 656.3,1137.3 657.8,1136.0 659.4,1134.8 660.9,1133.5 662.5,1132.2 664.0,1130.9 665.6,1129.6 667.1,1128.3 668.7,1127.0 670.2,1125.7 671.7,1124.4 673.2,1123.1 674.8,1121.8 676.3,1120.4 677.8,1119.1 679.3,1117.8 680.8,1116.4 682.3,1115.1 683.8,1113.7 685.3,1112.4 686.8,1111.0 688.2,1109.7 689.7,1108.3 691.2,1106.9 692.6,1105.6 694.1,1104.2 695.6,1102.8 697.0,1101.4 698.5,1100.1 699.9,1098.7 701.3,1097.3 702.8,1095.9 704.2,1094.5 705.6,1093.1 707.1,1091.7 708.5,1090.2 709.9,1088.8 711.3,1087.4 712.7,1086.0 714.1,1084.6 715.5,1083.1 716.9,1081.7 718.3,1080.3 719.7,1078.8 721.1,1077.4 722.5,1075.9 723.8,1074.5 725.2,1073.0 726.6,1071.6 728.0,1070.1 729.3,1068.7 730.7,1067.2 732.0,1065.7 733.4,1064.3 734.7,1062.8 736.1,1061.3 737.4,1059.8 738.8,1058.4 740.1,1056.9 741.4,1055.4 742.8,1053.9 744.1,1052.4 745.4,1050.9 746.7,1049.4 748.0,1047.9 749.4,1046.4 750.7,1044.9 752.0,1043.4 753.3,1041.9 754.6,1040.4 755.9,1038.8 757.2,1037.3 758.5,1035.8 759.8,1034.3 761.0,1032.8 762.3,1031.2 763.6,1029.7 764.9,1028.2 766.2,1026.6 767.4,1025.1 768.7,1023.5 770.0,1022.0 771.2,1020.5 772.5,1018.9 773.7,1017.4 775.0,1015.8 776.3,1014.2 777.5,1012.7 778.8,1011.1 780.0,1009.6 781.3,1008.0 782.5,1006.4 783.7,1004.9 785.0,1003.3 786.2,1001.7 787.4,1000.2 788.7,998.6 789.9,997.0 791.1,995.4 792.4,993.9 793.6,992.3 794.8,990.7 796.0,989.1 797.2,987.5 798.4,985.9 799.7,984.3 800.9,982.7 802.1,981.2 803.3,979.6 804.5,978.0 805.7,976.4 806.9,974.8 808.1,973.2 809.3,971.6 810.5,970.0 811.7,968.4 812.9,966.7 814.1,965.1 815.2,963.5 816.4,961.9 817.6,960.3 818.8,958.7 820.0,957.1 821.2,955.5 822.3,953.8 823.5,952.2 824.7,950.6 825.9,949.0 827.0,947.4 828.2,945.7 829.4,944.1 830.6,942.5 831.7,940.9 832.9,939.2 834.1,937.6 835.2,936.0 836.4,934.4 837.6,932.7 838.7,931.1 839.9,929.5 841.1,927.8 842.2,926.2 843.4,924.6 844.5,922.9 845.7,921.3 846.8,919.7 848.0,918.0 849.2,916.4 850.3,914.8 851.5,913.1 852.6,911.5 853.8,909.9 854.9,908.2 856.1,906.6 857.2,904.9 858.4,903.3 859.5,901.7 860.7,900.0 861.8,898.4 863.0,896.7 864.1,895.1 865.3,893.5 866.4,891.8 867.6,890.2 868.7,888.5 869.9,886.9 871.0,885.3 872.1,883.6 873.3,882.0 874.4,880.3 875.6,878.7 876.7,877.0 877.9,875.4 879.0,873.8 880.2,872.1 881.3,870.5 882.4,868.8 883.6,867.2 884.7,865.5 885.9,863.9 887.0,862.2 888.1,860.6 889.3,859.0 890.4,857.3 891.6,855.7 892.7,854.0 893.8,852.4 895.0,850.7 896.1,849.1 897.3,847.4 898.4,845.8 899.5,844.1 900.7,842.5 901.8,840.8 902.9,839.2 904.1,837.5 905.2,835.9 906.3,834.2 907.5,832.6 908.6,831.0 909.7,829.3 910.9,827.7 912.0,826.0 913.1,824.4 914.3,822.7 915.4,821.0 916.5,819.4 917.6,817.7 918.8,816.1 919.9,814.4 921.0,812.8 922.2,811.1 923.3,809.5 924.4,807.8 925.5,806.2 926.7,804.5 927.8,802.9 928.9,801.2 930.0,799.6 931.2,797.9 932.3,796.2 933.4,794.6 934.5,792.9 935.6,791.3 936.8,789.6 937.9,788.0 939.0,786.3 940.1,784.7 941.2,783.0 942.4,781.3 943.5,779.7 944.6,778.0 945.7,776.4 946.8,774.7 947.9,773.0 949.1,771.4 950.2,769.7 951.3,768.1 952.4,766.4 953.5,764.7 954.6,763.1 955.7,761.4 956.8,759.7 958.0,758.1 959.1,756.4 960.2,754.8 961.3,753.1 962.4,751.4 963.5,749.8 964.6,748.1 965.7,746.4 966.8,744.8 967.9,743.1 969.0,741.4 970.1,739.8 971.2,738.1 972.3,736.4 973.4,734.8 974.5,733.1 975.6,731.4 976.7,729.7 977.8,728.1 978.9,726.4 980.0,724.7 981.1,723.1 982.2,721.4 983.3,719.7 984.4,718.0 985.5,716.4 986.6,714.7 987.7,713.0 988.8,711.4 989.9,709.7 991.0,708.0 992.1,706.3 993.2,704.7 994.3,703.0 995.3,701.3 996.4,699.6 997.5,697.9 998.6,696.3 999.7,694.6 1000.8,692.9 1001.9,691.2 1002.9,689.5 1004.0,687.9 1005.1,686.2 1006.2,684.5 1007.3,682.8 1008.4,681.1 1009.4,679.5 1010.5,677.8 1011.6,676.1 1012.7,674.4 1013.8,672.7 1014.8,671.0 1015.9,669.3 1017.0,667.7 1018.1,666.0 1019.1,664.3 1020.2,662.6 1021.3,660.9 1022.4,659.2 1023.4,657.5 1024.5,655.8 1025.6,654.2 1026.6,652.5 1027.7,650.8 1028.8,649.1 1029.8,647.4 1030.9,645.7 1032.0,644.0 1033.0,642.3 1034.1,640.6 1035.2,638.9 1036.2,637.2 1037.3,635.5 1038.4,633.8 1039.4,632.1 1040.5,630.4 1041.5,628.8 1042.6,627.1 1043.7,625.4 1044.7,623.7 1045.8,622.0 1046.8,620.3 1047.9,618.6 1048.9,616.9 1050.0,615.2 1051.1,613.5 1052.1,611.8 1053.2,610.1 1054.2,608.4 1055.3,606.7 1056.3,605.0 1057.4,603.3 1058.4,601.6 1059.5,599.9 1060.5,598.2 1061.6,596.5 1062.6,594.7 1063.7,593.0 1064.7,591.3 1065.8,589.6 1066.8,587.9 1067.9,586.2 1068.9,584.5 1070.0,582.8 1071.0,581.1 1072.1,579.4 1073.1,577.7 1074.2,576.0 1075.2,574.3 1076.2,572.6 1077.3,570.9 1078.3,569.2 1079.4,567.5 1080.4,565.7 1081.5,564.0 1082.5,562.3 1083.5,560.6 1084.6,558.9 1085.6,557.2 1086.7,555.5 1087.7,553.8 1088.8,552.1 1089.8,550.4 1090.8,548.7 1091.9,546.9 1092.9,545.2 1093.9,543.5 1095.0,541.8 1096.0,540.1 1097.1,538.4 1098.1,536.7 1099.1,535.0 1100.2,533.3 1101.2,531.5 1102.2,529.8 1103.3,528.1 1104.3,526.4 1105.3,524.7 1106.4,523.0 1107.4,521.3 1108.4,519.6 1109.5,517.8 1110.5,516.1 1111.5,514.4 1112.6,512.7 1113.6,511.0 1114.6,509.3 1115.7,507.6 1116.7,505.8 1117.7,504.1 1118.8,502.4 1119.8,500.7 1120.8,499.0 1121.9,497.3 1122.9,495.6 1123.9,493.8 1125.0,492.1 1126.0,490.4 1127.0,488.7 1128.1,487.0 1129.1,485.3 1130.1,483.5 1131.1,481.8 1132.2,480.1 1133.2,478.4 1134.2,476.7 1135.3,475.0 1136.3,473.3 1137.3,471.5 1138.4,469.8 1139.4,468.1 1140.4,466.4 1141.4,464.7 1142.5,463.0 1143.5,461.2 1144.5,459.5 1145.6,457.8 1146.6,456.1 1147.6,454.4 1148.6,452.7 1149.7,451.0 1150.7,449.2 1151.7,447.5 1152.8,445.8 1153.8,444.1 1154.8,442.4 1155.8,440.7 1156.9,438.9 1157.9,437.2 1158.9,435.5 1160.0,433.8 1161.0,432.1 1162.0,430.4 1163.0,428.7 1164.1,426.9 1165.1,425.2 1166.1,423.5 1167.2,421.8 1168.2,420.1 1169.2,418.4 1170.3,416.7 1171.3,415.0 1172.3,413.2 1173.4,411.5 1174.4,409.8 1175.4,408.1 1176.5,406.4 1177.5,404.7 1178.6,403.0 1179.6,401.3 1180.6,399.6 1181.7,397.9 1182.7,396.2 1183.8,394.5 1184.8,392.8 1185.9,391.1 1186.9,389.4 1188.0,387.7 1189.1,386.0 1190.1,384.3 1191.2,382.6 1192.3,380.9 1193.3,379.2 1194.4,377.5 1195.5,375.8 1196.5,374.1 1197.6,372.5 1198.7,370.8 1199.8,369.1 1200.9,367.4 1202.0,365.7 1203.0,364.1 1204.1,362.4 1205.2,360.7 1206.3,359.0 1207.4,357.4 1208.6,355.7 1209.7,354.1 1210.8,352.4 1211.9,350.7 1213.0,349.1 1214.1,347.4 1215.3,345.8 1216.4,344.1 1217.5,342.5 1218.7,340.8 1219.8,339.2 1221.0,337.5 1222.1,335.9 1223.3,334.3 1224.5,332.6 1225.6,331.0 1226.8,329.4 1228.0,327.7 1229.2,326.1 1230.4,324.5 1231.6,322.9 1232.8,321.3 1234.0,319.7 1235.3,318.2 1236.5,316.6 1237.8,315.0 1239.1,313.5 1240.4,312.0 1241.8,310.5 1243.1,309.0 1244.5,307.5 1245.9,306.0 1247.3,304.6 1248.8,303.2 1250.2,301.8 1251.7,300.4 1253.3,299.0 1254.8,297.7 1256.4,296.4 1258.1,295.1 1259.7,293.8 1261.4,292.6 1263.1,291.3 1264.9,290.2 1266.7,289.0 1268.6,287.9 1270.4,286.8 1272.3,285.9 1274.1,284.9 1276.0,284.1 1277.9,283.4 1279.7,282.8 1281.5,282.3 1283.3,281.9 1285.0,281.7 1286.6,281.6 1288.3,281.7 1289.8,282.0 1291.3,282.5 1292.6,283.1 1294.0,284.0 1295.2,285.0 1296.4,286.1 1297.5,287.4 1298.5,288.8 1299.5,290.3 1300.5,291.9 1301.4,293.6 1302.2,295.4 1303.0,297.3 1303.8,299.2 1304.5,301.1 1305.2,303.1 1305.8,305.1 1306.4,307.1 1307.0,309.2 1307.6,311.2 1308.1,313.2 1308.6,315.2 1309.1,317.2 1309.6,319.2 1310.1,321.2 1310.5,323.2 1310.9,325.3 1311.3,327.3 1311.7,329.3 1312.0,331.3 1312.3,333.3 1312.6,335.3 1312.9,337.3 1313.2,339.3 1313.5,341.3 1313.7,343.3 1313.9,345.3 1314.1,347.3 1314.3,349.3 1314.5,351.3 1314.7,353.3 1314.8,355.3 1315.0,357.3 1315.1,359.3 1315.2,361.3 1315.3,363.3 1315.4,365.3 1315.5,367.3 1315.6,369.3 1315.6,371.3 1315.7,373.3 1315.8,375.3 1315.8,377.3 1315.8,379.3 1315.9,381.3 1315.9,383.3 1315.9,385.3 1316.0,387.3 1316.0,389.3 1316.0,391.3 1316.0,393.3 1316.0,395.3 1316.0,397.3 1316.0,399.3 1316.0,401.3 1316.1,403.2 1316.1,405.2 1316.1,407.2 1316.1,409.2 1316.1,411.2 1316.1,413.2 1316.1,415.2 1316.2,417.2 1316.2,419.2 1316.2,421.2 1316.2,423.2 1316.2,425.2 1316.3,427.2 1316.3,429.2 1316.3,431.2 1316.3,433.2 1316.4,435.2 1316.4,437.2 1316.4,439.2 1316.5,441.2 1316.5,443.2 1316.5,445.2 1316.6,447.2 1316.6,449.2 1316.6,451.2 1316.7,453.2 1316.7,455.2 1316.7,457.2 1316.8,459.3 1316.8,461.3 1316.9,463.3 1316.9,465.3 1316.9,467.3 1317.0,469.3 1317.0,471.3 1317.1,473.3 1317.1,475.3 1317.2,477.3 1317.2,479.3 1317.3,481.3 1317.3,483.3 1317.4,485.3 1317.4,487.3 1317.5,489.3 1317.5,491.3 1317.6,493.3 1317.6,495.3 1317.7,497.3 1317.7,499.3 1317.8,501.3 1317.8,503.3 1317.9,505.3 1317.9,507.3 1318.0,509.3 1318.0,511.3 1318.1,513.3 1318.1,515.3 1318.2,517.3 1318.2,519.4 1318.3,521.4 1318.4,523.4 1318.4,525.4 1318.5,527.4 1318.5,529.4 1318.6,531.4 1318.6,533.4 1318.7,535.4 1318.8,537.4 1318.8,539.4 1318.9,541.4 1318.9,543.4 1319.0,545.4 1319.0,547.4 1319.1,549.4 1319.2,551.4 1319.2,553.4 1319.3,555.4 1319.3,557.4 1319.4,559.4 1319.4,561.4 1319.5,563.4 1319.6,565.5 1319.6,567.5 1319.7,569.5 1319.7,571.5 1319.8,573.5 1319.8,575.5 1319.9,577.5 1320.0,579.5 1320.0,581.5 1320.1,583.5 1320.1,585.5 1320.2,587.5 1320.2,589.5 1320.3,591.5 1320.4,593.5 1320.4,595.5 1320.5,597.5 1320.5,599.5 1320.6,601.5 1320.6,603.5 1320.7,605.5 1320.7,607.5 1320.8,609.5 1320.8,611.5 1320.9,613.5 1320.9,615.5 1321.0,617.5 1321.0,619.5 1321.1,621.5 1321.1,623.5 1321.2,625.5 1321.2,627.5 1321.3,629.5 1321.3,631.5 1321.4,633.5 1321.4,635.5 1321.4,637.5 1321.5,639.5 1321.5,641.5 1321.6,643.5 1321.6,645.5 1321.7,647.5 1321.7,649.5 1321.8,651.5 1321.8,653.5 1321.8,655.5 1321.9,657.5 1321.9,659.5 1322.0,661.5 1322.0,663.5 1322.0,665.5 1322.1,667.5 1322.1,669.5 1322.2,671.5 1322.2,673.5 1322.2,675.5 1322.3,677.5 1322.3,679.5 1322.3,681.5 1322.4,683.5 1322.4,685.5 1322.5,687.5 1322.5,689.5 1322.5,691.5 1322.6,693.5 1322.6,695.5 1322.6,697.5 1322.7,699.5 1322.7,701.5 1322.7,703.5 1322.8,705.5 1322.8,707.5 1322.8,709.5 1322.9,711.5 1322.9,713.5 1322.9,715.5 1323.0,717.5 1323.0,719.5 1323.0,721.5 1323.1,723.5 1323.1,725.5 1323.1,727.5 1323.2,729.5 1323.2,731.5 1323.2,733.5 1323.3,735.5 1323.3,737.5 1323.3,739.5 1323.4,741.5 1323.4,743.5 1323.4,745.5 1323.5,747.5 1323.5,749.5 1323.5,751.5 1323.6,753.5 1323.6,755.4 1323.6,757.4 1323.7,759.4 1323.7,761.4 1323.7,763.4 1323.8,765.4 1323.8,767.4 1323.8,769.4 1323.9,771.4 1323.9,773.4 1323.9,775.4 1324.0,777.4 1324.0,779.4 1324.0,781.4 1324.1,783.4 1324.1,785.4 1324.1,787.4 1324.1,789.4 1324.2,791.4 1324.2,793.4 1324.2,795.4 1324.3,797.4 1324.3,799.4 1324.4,801.4 1324.4,803.4 1324.4,805.4 1324.5,807.4 1324.5,809.4 1324.5,811.4 1324.6,813.4 1324.6,815.4 1324.6,817.4 1324.7,819.4 1324.7,821.4 1324.7,823.4 1324.8,825.4 1324.8,827.3 1324.8,829.3 1324.9,831.3 1324.9,833.3 1325.0,835.3 1325.0,837.3 1325.0,839.3 1325.1,841.3 1325.1,843.3 1325.2,845.3 1325.2,847.3 1325.2,849.3 1325.3,851.3 1325.3,853.3 1325.4,855.3 1325.4,857.3 1325.4,859.3 1325.5,861.3 1325.5,863.3 1325.6,865.3 1325.6,867.3 1325.7,869.3 1325.7,871.3 1325.7,873.3 1325.8,875.3 1325.8,877.3 1325.9,879.3 1325.9,881.3 1326.0,883.3 1326.0,885.3 1326.1,887.3 1326.1,889.3 1326.2,891.3 1326.2,893.3 1326.3,895.3 1326.3,897.3 1326.4,899.3 1326.4,901.3 1326.5,903.3 1326.5,905.3 1326.6,907.3 1326.6,909.3 1326.7,911.3 1326.7,913.3 1326.8,915.3 1326.8,917.3 1326.9,919.3 1327.0,921.3 1327.0,923.3 1327.1,925.3 1327.1,927.3 1327.2,929.3 1327.2,931.3 1327.3,933.3 1327.4,935.3 1327.4,937.3 1327.5,939.3 1327.6,941.3 1327.6,943.3 1327.7,945.3 1327.7,947.3 1327.8,949.3 1327.9,951.4 1327.9,953.4 1328.0,955.4 1328.1,957.4 1328.1,959.4 1328.2,961.4 1328.3,963.4 1328.4,965.4 1328.4,967.4 1328.5,969.4 1328.6,971.4 1328.7,973.4 1328.7,975.4 1328.8,977.4 1328.9,979.4 1329.0,981.4 1329.0,983.4 1329.1,985.4 1329.2,987.4 1329.3,989.4 1329.4,991.5 1329.4,993.5 1329.5,995.5 1329.6,997.5 1329.7,999.5 1329.8,1001.5 1329.9,1003.5 1330.0,1005.5 1330.0,1007.5 1330.1,1009.5 1330.2,1011.5 1330.3,1013.5 1330.4,1015.5 1330.5,1017.6 1330.6,1019.6 1330.7,1021.6 1330.8,1023.6 1330.9,1025.6 1331.0,1027.6 1331.1,1029.6 1331.2,1031.6 1331.3,1033.6 1331.4,1035.6 1331.5,1037.7 1331.6,1039.7 1331.7,1041.7 1331.8,1043.7 1331.9,1045.7 1332.0,1047.7 1332.1,1049.7 1332.2,1051.7 1332.4,1053.7 1332.5,1055.8 1332.6,1057.8 1332.7,1059.8 1332.8,1061.8 1332.9,1063.8 1333.0,1065.8 1333.2,1067.8 1333.3,1069.9 1333.4,1071.9 1333.5,1073.9 1333.7,1075.9 1333.8,1077.9 1333.9,1079.9 1334.0,1081.9 1334.2,1084.0 1334.3,1086.0 1334.4,1088.0 1334.6,1090.0 1334.7,1092.0 1334.9,1094.0 1335.0,1096.0 1335.2,1098.0 1335.4,1100.1 1335.5,1102.1 1335.7,1104.1 1335.9,1106.1 1336.2,1108.0 1336.4,1110.0 1336.6,1112.0 1336.9,1114.0 1337.1,1116.0 1337.4,1118.0 1337.7,1119.9 1338.0,1121.9 1338.3,1123.8 1338.7,1125.8 1339.0,1127.7 1339.4,1129.7 1339.8,1131.6 1340.3,1133.5 1340.7,1135.5 1341.2,1137.4 1341.6,1139.3 1342.2,1141.2 1342.7,1143.1 1343.2,1144.9 1343.8,1146.8 1344.4,1148.7 1345.1,1150.5 1345.7,1152.4 1346.4,1154.2 1347.2,1156.0 1347.9,1157.9 1348.7,1159.7 1349.5,1161.5 1350.4,1163.2 1351.2,1165.0 1352.1,1166.8 1353.1,1168.5 1354.1,1170.3 1355.1,1172.0 1356.1,1173.7 1357.2,1175.3 1358.4,1177.0 1359.6,1178.6 1360.8,1180.1 1362.1,1181.6 1363.4,1183.1 1364.8,1184.4 1366.2,1185.8 1367.7,1187.0 1369.2,1188.2 1370.8,1189.3 1372.5,1190.3 1374.2,1191.3 1375.9,1192.1 1377.7,1192.9 1379.6,1193.6 1381.5,1194.3 1383.4,1194.8 1385.4,1195.3 1387.4,1195.8 1389.4,1196.2 1391.5,1196.6 1393.5,1196.9 1395.6,1197.2 1397.7,1197.4 1399.8,1197.6 1401.8,1197.8 1403.9,1197.9 1406.0,1198.1 1408.0,1198.2 1410.1,1198.3 1412.1,1198.3 1414.2,1198.4 1416.2,1198.4 1418.2,1198.4 1420.3,1198.4 1422.3,1198.4 1424.3,1198.3 1426.3,1198.3 1428.3,1198.2 1430.3,1198.1 1432.3,1198.0 1434.3,1197.9 1436.2,1197.8 1438.2,1197.7 1440.2,1197.5 1442.2,1197.4 1444.1,1197.2 1446.1,1197.0 1448.1,1196.8 1450.0,1196.6 1452.0,1196.4 1454.0,1196.2 1455.9,1196.0 1457.9,1195.8 1459.9,1195.5 1461.8,1195.3 1463.8,1195.1 1465.7,1194.8 1467.7,1194.6 1469.7,1194.3 1471.7,1194.1 1473.6,1193.8 1475.6,1193.5 1477.6,1193.3 1479.6,1193.0 1481.5,1192.8 1483.5,1192.5 1485.5,1192.2 1487.5,1192.0 1489.5,1191.7 1491.5,1191.4 1493.5,1191.2 1495.5,1190.9 1497.5,1190.6 1499.4,1190.3 1501.4,1190.0 1503.4,1189.7 1505.4,1189.4 1507.4,1189.1 1509.4,1188.8 1511.4,1188.5 1513.4,1188.1 1515.4,1187.8 1517.4,1187.5 1519.4,1187.1 1521.4,1186.7 1523.3,1186.4 1525.3,1186.0 1527.3,1185.6 1529.3,1185.2 1531.2,1184.8 1533.2,1184.4 1535.2,1184.0 1537.1,1183.5 1539.1,1183.1 1541.1,1182.6 1543.0,1182.1 1544.9,1181.6 1546.9,1181.1 1548.8,1180.6 1550.8,1180.1 1552.7,1179.5 1554.6,1179.0 1556.5,1178.4 1558.4,1177.8 1560.3,1177.2 1562.2,1176.6 1564.1,1176.0 1566.0,1175.4 1567.9,1174.8 1569.8,1174.1 1571.7,1173.4 1573.6,1172.8 1575.4,1172.1 1577.3,1171.4 1579.2,1170.7 1581.0,1169.9 1582.9,1169.2 1584.7,1168.4 1586.6,1167.7 1588.4,1166.9 1590.2,1166.1 1592.1,1165.3 1593.9,1164.5 1595.7,1163.7 1597.5,1162.9 1599.3,1162.1 1601.1,1161.2 1602.9,1160.4 1604.7,1159.5 1606.5,1158.6 1608.3,1157.8 1610.1,1156.9 1611.9,1156.0 1613.6,1155.0 1615.4,1154.1 1617.2,1153.2 1618.9,1152.2 1620.7,1151.3 1622.4,1150.3 1624.2,1149.4 1625.9,1148.4 1627.6,1147.4 1629.4,1146.4 1631.1,1145.4 1632.8,1144.4 1634.5,1143.3 1636.2,1142.3 1638.0,1141.3 1639.7,1140.2 1641.4,1139.2 1643.1,1138.1 1644.7,1137.0 1646.4,1135.9 1648.1,1134.8 1649.8,1133.7 1651.4,1132.6 1653.1,1131.5 1654.8,1130.4 1656.4,1129.3 1658.1,1128.1 1659.7,1127.0 1661.4,1125.8 1663.0,1124.7 1664.6,1123.5 1666.3,1122.3 1667.9,1121.2 1669.5,1120.0 1671.1,1118.8 1672.7,1117.6 1674.3,1116.4 1675.9,1115.2 1677.5,1114.0 1679.1,1112.7 1680.7,1111.5 1682.3,1110.3 1683.9,1109.0 1685.5,1107.8 1687.0,1106.5 1688.6,1105.3 1690.1,1104.0 1691.7,1102.7 1693.3,1101.5 1694.8,1100.2 1696.3,1098.9 1697.9,1097.6 1699.4,1096.3 1700.9,1095.0 1702.5,1093.7 1704.0,1092.4 1705.5,1091.1 1707.0,1089.8 1708.5,1088.4 1710.0,1087.1 1711.5,1085.8 1713.0,1084.5 1714.5,1083.1 1716.0,1081.8 1717.4,1080.4 1718.9,1079.1 1720.4,1077.7 1721.8,1076.4 1723.3,1075.0 1724.7,1073.6 1726.2,1072.3 1727.6,1070.9 1729.1,1069.5 1730.5,1068.1 1732.0,1066.8 1733.4,1065.4 1734.8,1064.0 1733.9,1065.7 1732.9,1067.4 1732.0,1069.1 1731.0,1070.9 1730.0,1072.6 1729.0,1074.3 1728.0,1075.9 1727.0,1077.6 1725.9,1079.3 1724.9,1081.0 1723.8,1082.7 1722.7,1084.3 1721.6,1086.0 1720.4,1087.7 1719.3,1089.3 1718.2,1090.9 1717.0,1092.6 1715.8,1094.2 1714.6,1095.8 1713.4,1097.5 1712.2,1099.1 1711.0,1100.7 1709.7,1102.3 1708.5,1103.8 1707.2,1105.4 1705.9,1107.0 1704.6,1108.6 1703.3,1110.1 1702.0,1111.7 1700.7,1113.2 1699.4,1114.7 1698.0,1116.3 1696.7,1117.8 1695.4,1119.3 1694.0,1120.8 1692.6,1122.3 1691.2,1123.7 1689.9,1125.2 1688.5,1126.7 1687.1,1128.1 1685.7,1129.5 1684.2,1131.0 1682.8,1132.4 1681.4,1133.8 1680.0,1135.2 1678.5,1136.6 1677.1,1137.9 1675.6,1139.3 1674.2,1140.7 1672.7,1142.0 1671.3,1143.3 1669.8,1144.7 1668.3,1146.0 1666.8,1147.3 1665.3,1148.6 1663.8,1149.8 1662.3,1151.1 1660.8,1152.4 1659.2,1153.6 1657.7,1154.9 1656.2,1156.1 1654.6,1157.3 1653.1,1158.5 1651.5,1159.7 1649.9,1160.9 1648.3,1162.1 1646.7,1163.3 1645.1,1164.5 1643.5,1165.6 1641.9,1166.8 1640.3,1167.9 1638.6,1169.0 1637.0,1170.1 1635.3,1171.2 1633.7,1172.3 1632.0,1173.4 1630.3,1174.5 1628.6,1175.6 1626.9,1176.6 1625.2,1177.7 1623.4,1178.7 1621.7,1179.8 1619.9,1180.8 1618.2,1181.8 1616.4,1182.8 1614.7,1183.8 1612.9,1184.7 1611.1,1185.7 1609.3,1186.6 1607.5,1187.6 1605.7,1188.5 1603.8,1189.4 1602.0,1190.2 1600.2,1191.1 1598.3,1192.0 1596.5,1192.8 1594.6,1193.6 1592.8,1194.4 1590.9,1195.2 1589.0,1195.9 1587.1,1196.7 1585.3,1197.4 1583.4,1198.1 1581.5,1198.8 1579.6,1199.4 1577.7,1200.1 1575.7,1200.7 1573.8,1201.3 1571.9,1201.8 1570.0,1202.4 1568.1,1202.9 1566.1,1203.4 1564.2,1203.9 1562.2,1204.4 1560.3,1204.8 1558.3,1205.3 1556.4,1205.7 1554.4,1206.1 1552.5,1206.5 1550.5,1206.9 1548.6,1207.2 1546.6,1207.6 1544.6,1207.9 1542.6,1208.2 1540.7,1208.5 1538.7,1208.8 1536.7,1209.1 1534.7,1209.4 1532.8,1209.7 1530.8,1209.9 1528.8,1210.2 1526.8,1210.4 1524.8,1210.7 1522.8,1210.9 1520.8,1211.1 1518.8,1211.4 1516.9,1211.6 1514.9,1211.8 1512.9,1212.0 1510.9,1212.2 1508.9,1212.4 1506.9,1212.6 1504.9,1212.8 1502.9,1213.0 1500.9,1213.2 1498.9,1213.4 1496.9,1213.6 1494.9,1213.8 1492.9,1214.0 1491.0,1214.2 1489.0,1214.4 1487.0,1214.6 1485.0,1214.8 1483.0,1215.0 1481.0,1215.2 1479.0,1215.4 1477.0,1215.5 1475.0,1215.7 1473.0,1215.9 1471.0,1216.1 1469.0,1216.3 1467.0,1216.4 1465.0,1216.6 1463.0,1216.8 1461.0,1217.0 1459.0,1217.1 1457.0,1217.3 1455.1,1217.5 1453.1,1217.7 1451.1,1217.8 1449.1,1218.0 1447.1,1218.2 1445.1,1218.3 1443.1,1218.5 1441.1,1218.6 1439.1,1218.8 1437.1,1219.0 1435.1,1219.1 1433.1,1219.3 1431.1,1219.4 1429.1,1219.6 1427.1,1219.7 1425.1,1219.9 1423.1,1220.0 1421.1,1220.2 1419.1,1220.3 1417.1,1220.5 1415.1,1220.6 1413.1,1220.8 1411.1,1220.9 1409.1,1221.0 1407.1,1221.2 1405.1,1221.3 1403.1,1221.5 1401.1,1221.6 1399.2,1221.7 1397.2,1221.9 1395.2,1222.0 1393.2,1222.1 1391.2,1222.3 1389.2,1222.4 1387.2,1222.5 1385.2,1222.7 1383.2,1222.8 1381.2,1222.9 1379.2,1223.0 1377.2,1223.1 1375.2,1223.3 1373.2,1223.4 1371.2,1223.5 1369.2,1223.6 1367.2,1223.7 1365.2,1223.9 1363.2,1224.0 1361.2,1224.1 1359.2,1224.2 1357.2,1224.3 1355.2,1224.4 1353.2,1224.5 1351.2,1224.6 1349.2,1224.7 1347.2,1224.9 1345.2,1225.0 1343.2,1225.1 1341.2,1225.2 1339.2,1225.3 1337.2,1225.4 1335.2,1225.5 1333.2,1225.6 1331.2,1225.7 1329.2,1225.8 1327.2,1225.9 1325.2,1225.9 1323.2,1226.0 1321.2,1226.1 1319.2,1226.2 1317.2,1226.3 1315.2,1226.4 1313.2,1226.5 1311.2,1226.6 1309.2,1226.7 1307.2,1226.8 1305.2,1226.8 1303.2,1226.9 1301.2,1227.0 1299.2,1227.1 1297.2,1227.2 1295.2,1227.2 1293.2,1227.3 1291.2,1227.4 1289.2,1227.5 1287.2,1227.6 1285.2,1227.6 1283.2,1227.7 1281.2,1227.8 1279.2,1227.8 1277.2,1227.9 1275.2,1228.0 1273.2,1228.1 1271.2,1228.1 1269.1,1228.2 1267.1,1228.3 1265.1,1228.3 1263.1,1228.4 1261.1,1228.5 1259.1,1228.5 1257.1,1228.6 1255.1,1228.6 1253.1,1228.7 1251.1,1228.8 1249.1,1228.8 1247.1,1228.9 1245.1,1228.9 1243.1,1229.0 1241.1,1229.0 1239.1,1229.1 1237.1,1229.2 1235.1,1229.2 1233.1,1229.3 1231.1,1229.3 1229.1,1229.4 1227.1,1229.4 1225.1,1229.5 1223.1,1229.5 1221.1,1229.6 1219.1,1229.6 1217.1,1229.7 1215.1,1229.7 1213.1,1229.7 1211.1,1229.8 1209.1,1229.8 1207.1,1229.9 1205.1,1229.9 1203.0,1230.0 1201.0,1230.0 1199.0,1230.0 1197.0,1230.1 1195.0,1230.1 1193.0,1230.1 1191.0,1230.2 1189.0,1230.2 1187.0,1230.3 1185.0,1230.3 1183.0,1230.3 1181.0,1230.4 1179.0,1230.4 1177.0,1230.4 1175.0,1230.4 1173.0,1230.5 1171.0,1230.5 1169.0,1230.5 1167.0,1230.6 1165.0,1230.6 1163.0,1230.6 1161.0,1230.6 1159.0,1230.7 1156.9,1230.7 1154.9,1230.7 1152.9,1230.7 1150.9,1230.8 1148.9,1230.8 1146.9,1230.8 1144.9,1230.8 1142.9,1230.9 1140.9,1230.9 1138.9,1230.9 1136.9,1230.9 1134.9,1230.9 1132.9,1230.9 1130.9,1231.0 1128.9,1231.0 1126.9,1231.0 1124.9,1231.0 1122.9,1231.0 1120.9,1231.0 1118.8,1231.1 1116.8,1231.1 1114.8,1231.1 1112.8,1231.1 1110.8,1231.1 1108.8,1231.1 1106.8,1231.1 1104.8,1231.1 1102.8,1231.1 1100.8,1231.2 1098.8,1231.2 1096.8,1231.2 1094.8,1231.2 1092.8,1231.2 1090.8,1231.2 1088.8,1231.2 1086.8,1231.2 1084.8,1231.2 1082.7,1231.2 1080.7,1231.2 1078.7,1231.2 1076.7,1231.2 1074.7,1231.2 1072.7,1231.2 1070.7,1231.2 1068.7,1231.2 1066.7,1231.2 1064.7,1231.2 1062.7,1231.2 1060.7,1231.2 1058.7,1231.2 1056.7,1231.2 1054.7,1231.2 1052.7,1231.2 1050.6,1231.2 1048.6,1231.2 1046.6,1231.2 1044.6,1231.2 1042.6,1231.2 1040.6,1231.2 1038.6,1231.2 1036.6,1231.2 1034.6,1231.2 1032.6,1231.2 1030.6,1231.2 1028.6,1231.2 1026.6,1231.2 1024.6,1231.2 1022.6,1231.1 1020.5,1231.1 1018.5,1231.1 1016.5,1231.1 1014.5,1231.1 1012.5,1231.1 1010.5,1231.1 1008.5,1231.1 1006.5,1231.1 1004.5,1231.1 1002.5,1231.1 1000.5,1231.0 998.5,1231.0 996.5,1231.0 994.5,1231.0 992.5,1231.0 990.4,1231.0 988.4,1231.0 986.4,1231.0 984.4,1231.0 982.4,1230.9 980.4,1230.9 978.4,1230.9 976.4,1230.9 974.4,1230.9 972.4,1230.9 970.4,1230.9 968.4,1230.9 966.4,1230.9 964.4,1230.8 962.4,1230.8 960.4,1230.8 958.3,1230.8 956.3,1230.8 954.3,1230.8 952.3,1230.8 950.3,1230.8 948.3,1230.8 946.3,1230.8 944.3,1230.8 942.3,1230.8 940.3,1230.8 938.3,1230.8 936.3,1230.8 934.3,1230.8 932.3,1230.8 930.3,1230.8 928.3,1230.8 926.3,1230.8 924.3,1230.8 922.2,1230.8 920.2,1230.9 918.2,1230.9 916.2,1230.9 914.2,1230.9 912.2,1230.9 910.2,1230.9 908.2,1231.0 906.2,1231.0 904.2,1231.0 902.2,1231.0 900.2,1231.1 898.2,1231.1 896.2,1231.1 894.2,1231.2 892.2,1231.2 890.2,1231.2 888.2,1231.3 886.2,1231.3 884.2,1231.4 882.2,1231.4 880.2,1231.5 878.2,1231.5 876.2,1231.6 874.2,1231.6 872.2,1231.7 870.2,1231.8 868.2,1231.8 866.2,1231.9 864.2,1232.0 862.2,1232.0 860.2,1232.1 858.2,1232.2 856.2,1232.3 854.2,1232.4 852.2,1232.5 850.2,1232.6 848.2,1232.6 846.2,1232.7 844.2,1232.8 842.2,1233.0 840.2,1233.1 838.2,1233.2 836.2,1233.3 834.2,1233.4 832.2,1233.5 830.2,1233.6 828.2,1233.8 826.2,1233.9 824.2,1234.0 822.2,1234.2 820.3,1234.3 818.3,1234.5 816.3,1234.6 814.3,1234.8 812.3,1234.9 810.3,1235.1 808.3,1235.3 806.3,1235.4 804.3,1235.6 802.3,1235.8 800.3,1236.0 798.3,1236.1 796.4,1236.3 794.4,1236.5 792.4,1236.7 790.4,1236.9 788.4,1237.1 786.4,1237.3 784.4,1237.6 782.4,1237.8 780.4,1238.0 778.5,1238.2 776.5,1238.5 774.5,1238.7 772.5,1238.9 770.5,1239.2 768.5,1239.4 766.5,1239.7 764.6,1240.0 762.6,1240.2 760.6,1240.5 758.6,1240.8 756.6,1241.1 754.6,1241.4 752.7,1241.7 750.7,1242.0 748.7,1242.3 746.7,1242.6 744.7,1242.9 742.8,1243.2 740.8,1243.6 738.8,1243.9 736.9,1244.3 734.9,1244.7 733.0,1245.2 731.0,1245.6 729.1,1246.1 727.2,1246.7 725.3,1247.3 723.4,1247.9 721.6,1248.5 719.7,1249.3 717.9,1250.0 716.0,1250.8 714.2,1251.7 712.4,1252.6 710.7,1253.5 708.9,1254.4 707.1,1255.3 705.3,1256.3 703.5,1257.2 701.7,1258.1 699.9,1259.0 698.1,1259.8 696.3,1260.7 694.5,1261.4 692.6,1262.1 690.7,1262.8 690.1,1260.9 689.4,1259.0 688.8,1257.1 688.2,1255.2 687.7,1253.3 687.2,1251.3 686.7,1249.4 686.2,1247.5 685.7,1245.5 685.3,1243.6 684.8,1241.6 684.4,1239.7 684.0,1237.7 683.7,1235.7 683.3,1233.8 683.0,1231.8 682.6,1229.8 682.3,1227.8 682.1,1225.8 681.8,1223.8 681.5,1221.9 681.3,1219.9 681.0,1217.9 680.8,1215.9 680.6,1213.8 680.4,1211.8 680.2,1209.8 680.1,1207.8 679.9,1205.8 679.8,1203.8 679.6,1201.8 679.5,1199.7 679.4,1197.7 679.2,1195.7 679.1,1193.7 679.0,1191.7 678.9,1189.6 678.8,1187.6 678.7,1185.6 678.6,1183.5 678.6,1181.5 678.5,1179.5 678.4,1177.4 678.3,1175.4 678.3,1173.4 678.2,1171.3 678.1,1169.3 678.0,1167.3 678.0,1165.3 677.9,1163.2 677.8,1161.2 677.8,1159.2 677.7,1157.1 677.6,1155.1 677.5,1153.1 677.5,1151.1 677.4,1149.0 677.3,1147.0 677.2,1145.0 677.2,1143.0 677.1,1140.9 677.0,1138.9 676.9,1136.9 676.9,1134.9 676.8,1132.8 676.7,1130.8 676.6,1128.8 676.5,1126.8 676.5,1124.7 676.4,1122.7 676.3,1120.7 676.2,1118.7 676.1,1116.7 676.0,1114.6 676.0,1112.6 675.9,1110.6 675.8,1108.6 675.7,1106.6 675.6,1104.5 675.5,1102.5 675.4,1100.5 675.4,1098.5 675.3,1096.5 675.2,1094.4 675.1,1092.4 675.0,1090.4 674.9,1088.4 674.8,1086.4 674.7,1084.3 674.6,1082.3 674.5,1080.3 674.4,1078.3 674.3,1076.3 674.2,1074.2 674.1,1072.2 674.0,1070.2 673.9,1068.2 673.8,1066.2 673.7,1064.1 673.6,1062.1 673.5,1060.1 673.4,1058.1 673.3,1056.1 673.2,1054.0 673.1,1052.0 673.0,1050.0 672.5,1052.0 672.0,1054.0 671.5,1055.9 670.9,1057.8 670.2,1059.7 669.6,1061.6 668.9,1063.5 668.2,1065.4 667.4,1067.2 666.6,1069.0 665.8,1070.8 664.9,1072.6 664.1,1074.4 663.2,1076.1 662.2,1077.8 661.2,1079.6 660.3,1081.3 659.2,1083.0 658.2,1084.6 657.1,1086.3 656.0,1087.9 654.9,1089.6 653.8,1091.2 652.6,1092.8 651.4,1094.4 650.2,1096.0 649.0,1097.6 647.8,1099.1 646.5,1100.7 645.3,1102.2 644.0,1103.8 642.7,1105.3 641.3,1106.8 640.0,1108.3 638.7,1109.8 637.3,1111.3 635.9,1112.8 634.6,1114.3 633.2,1115.7 631.8,1117.2 630.4,1118.7 628.9,1120.1 627.5,1121.5 626.1,1123.0 624.7,1124.4 623.2,1125.9 621.8,1127.3 620.3,1128.7 618.9,1130.1 617.4,1131.5 616.0,1133.0 614.5,1134.4 613.0,1135.8 611.6,1137.2 610.1,1138.6 608.6,1139.9 607.1,1141.3 605.6,1142.7 604.1,1144.1 602.6,1145.4 601.1,1146.8 599.6,1148.1 598.1,1149.5 596.6,1150.8 595.1,1152.2 593.5,1153.5 592.0,1154.8 590.4,1156.1 588.9,1157.4 587.3,1158.7 585.8,1160.0 584.2,1161.2 582.6,1162.5 581.1,1163.8 579.5,1165.0 577.9,1166.2 576.3,1167.5 574.7,1168.7 573.1,1169.9 571.4,1171.1 569.8,1172.3 568.2,1173.4 566.5,1174.6 564.9,1175.7 563.2,1176.9 561.6,1178.0 559.9,1179.1 558.2,1180.2 556.5,1181.3 554.8,1182.4 553.1,1183.4 551.4,1184.5 549.7,1185.5 548.0,1186.5 546.2,1187.5 544.5,1188.5 542.7,1189.5 541.0,1190.5 539.2,1191.4 537.4,1192.4 535.6,1193.3 533.9,1194.2 532.1,1195.1 530.3,1196.0 528.4,1196.9 526.6,1197.7 524.8,1198.6 523.0,1199.4 521.1,1200.2 519.3,1201.0 517.5,1201.8 515.6,1202.6 513.7,1203.4 511.9,1204.1 510.0,1204.8 508.1,1205.6 506.2,1206.3 504.4,1207.0 502.5,1207.6 500.6,1208.3 498.7,1208.9 496.8,1209.6 494.8,1210.2 492.9,1210.8 491.0,1211.4 489.1,1212.0 487.1,1212.5 485.2,1213.1 483.3,1213.6 481.3,1214.1 479.4,1214.6 477.4,1215.1 475.5,1215.6 473.5,1216.0 471.6,1216.5 469.6,1216.9 467.6,1217.3 465.7,1217.7 463.7,1218.1 461.7,1218.4 459.7,1218.8 457.7,1219.1 455.7,1219.4 453.8,1219.7 451.8,1220.0 449.8,1220.3 447.8,1220.6 445.8,1220.8 443.8,1221.1 441.8,1221.3 439.8,1221.5 437.8,1221.8 435.8,1222.0 433.7,1222.2 431.7,1222.3 429.7,1222.5 427.7,1222.7 425.7,1222.9 423.7,1223.0 421.6,1223.2 419.6,1223.3 417.6,1223.4 415.6,1223.5 413.6,1223.7 411.5,1223.8 409.5,1223.9 407.5,1224.0 405.5,1224.1 403.4,1224.2 401.4,1224.3 399.4,1224.4 397.3,1224.5 395.3,1224.6 393.3,1224.6 391.3,1224.7 389.2,1224.8 387.2,1224.9 385.2,1225.0 383.2,1225.1 381.1,1225.1 379.1,1225.2 377.1,1225.3 375.1,1225.4 373.0,1225.5 371.0,1225.5 369.0,1225.6 367.0,1225.7 365.0,1225.8 362.9,1225.9 360.9,1226.0 358.9,1226.1 356.9,1226.2 354.9,1226.4 352.9,1226.5 350.9,1226.6 348.9,1226.8 346.9,1226.9 344.9,1227.0 342.9,1227.2 340.9,1227.4 338.9,1227.5 336.9,1227.7 334.9,1227.9 332.9,1228.1 330.9,1228.3 329.0,1228.5 327.0,1228.8 325.0,1229.0" fill="none" stroke="#ff0000" stroke-width="7.2" stroke-linejoin="round" stroke-dasharray="6.3 13.5"/>
<path d="M325.0,1229.5L327.0,1229.5 329.0,1229.5 331.0,1229.5 333.0,1229.5 335.0,1229.5 337.0,1229.5 339.0,1229.5 341.0,1229.5 343.0,1229.5 345.0,1229.5 347.0,1229.5 349.0,1229.5 351.0,1229.5 353.0,1229.5 355.0,1229.5 357.0,1229.5 359.0,1229.5 361.0,1229.5 363.0,1229.6 365.1,1229.6 367.1,1229.6 369.1,1229.6 371.1,1229.6 373.1,1229.6 375.1,1229.6 377.1,1229.6 379.1,1229.6 381.1,1229.7 383.1,1229.7 385.1,1229.7 387.1,1229.7 389.1,1229.7 391.1,1229.7 393.1,1229.7 395.2,1229.7 397.2,1229.7 399.2,1229.7 401.2,1229.7 403.2,1229.7 405.2,1229.7 407.2,1229.6 409.2,1229.6 411.2,1229.6 413.2,1229.6 415.2,1229.6 417.2,1229.6 419.2,1229.5 421.2,1229.5 423.2,1229.5 425.2,1229.4 427.2,1229.4 429.2,1229.4 431.3,1229.3 433.3,1229.3 435.3,1229.2 437.3,1229.2 439.3,1229.1 441.3,1229.0 443.3,1229.0 445.3,1228.9 447.3,1228.8 449.3,1228.7 451.3,1228.6 453.2,1228.6 455.2,1228.5 457.2,1228.4 459.2,1228.3 461.2,1228.1 463.2,1228.0 465.2,1227.9 467.2,1227.8 469.2,1227.7 471.2,1227.5 473.2,1227.4 475.2,1227.2 477.2,1227.1 479.1,1226.9 481.1,1226.7 483.1,1226.6 485.1,1226.4 487.1,1226.2 489.1,1226.0 491.0,1225.8 493.0,1225.6 495.0,1225.4 497.0,1225.2 499.0,1224.9 500.9,1224.7 502.9,1224.5 504.9,1224.2 506.8,1223.9 508.8,1223.7 510.8,1223.4 512.8,1223.1 514.7,1222.8 516.7,1222.5 518.7,1222.2 520.6,1221.9 522.6,1221.6 524.5,1221.2 526.5,1220.9 528.5,1220.6 530.4,1220.2 532.4,1219.8 534.3,1219.4 536.3,1219.1 538.2,1218.7 540.2,1218.3 542.1,1217.8 544.1,1217.4 546.0,1217.0 548.0,1216.5 549.9,1216.1 551.8,1215.6 553.8,1215.1 555.7,1214.7 557.6,1214.2 559.6,1213.6 561.5,1213.1 563.4,1212.6 565.4,1212.1 567.3,1211.5 569.2,1210.9 571.1,1210.4 573.1,1209.8 575.0,1209.2 576.9,1208.6 578.8,1208.0 580.7,1207.4 582.6,1206.7 584.5,1206.1 586.4,1205.4 588.3,1204.7 590.2,1204.1 592.1,1203.4 594.0,1202.7 595.9,1202.0 597.8,1201.3 599.6,1200.5 601.5,1199.8 603.4,1199.0 605.2,1198.3 607.1,1197.5 609.0,1196.7 610.8,1195.9 612.7,1195.1 614.5,1194.3 616.3,1193.5 618.2,1192.7 620.0,1191.8 621.8,1191.0 623.7,1190.1 625.5,1189.3 627.3,1188.4 629.1,1187.5 630.9,1186.6 632.7,1185.7 634.5,1184.7 636.3,1183.8 638.0,1182.9 639.8,1181.9 641.6,1181.0 643.3,1180.0 645.1,1179.0 646.8,1178.0 648.6,1177.0 650.3,1176.0 652.1,1175.0 653.8,1174.0 655.5,1173.0 657.2,1171.9 658.9,1170.9 660.6,1169.8 662.3,1168.7 664.0,1167.6 665.7,1166.5 667.3,1165.4 669.0,1164.3 670.6,1163.2 672.3,1162.1 673.9,1160.9 675.6,1159.8 677.2,1158.6 678.8,1157.5 680.4,1156.3 682.0,1155.1 683.6,1153.9 685.2,1152.7 686.8,1151.5 688.4,1150.3 690.0,1149.1 691.5,1147.9 693.1,1146.6 694.6,1145.4 696.2,1144.1 697.7,1142.9 699.3,1141.6 700.8,1140.3 702.3,1139.1 703.9,1137.8 705.4,1136.5 706.9,1135.2 708.4,1133.9 709.9,1132.6 711.4,1131.2 712.9,1129.9 714.4,1128.6 715.8,1127.2 717.3,1125.9 718.8,1124.6 720.2,1123.2 721.7,1121.8 723.2,1120.5 724.6,1119.1 726.1,1117.7 727.5,1116.3 728.9,1115.0 730.4,1113.6 731.8,1112.2 733.2,1110.8 734.7,1109.4 736.1,1108.0 737.5,1106.5 738.9,1105.1 740.3,1103.7 741.7,1102.3 743.1,1100.9 744.5,1099.4 745.9,1098.0 747.3,1096.5 748.7,1095.1 750.1,1093.7 751.4,1092.2 752.8,1090.8 754.2,1089.3 755.6,1087.8 756.9,1086.4 758.3,1084.9 759.7,1083.4 761.0,1082.0 762.4,1080.5 763.7,1079.0 765.1,1077.6 766.5,1076.1 767.8,1074.6 769.2,1073.1 770.5,1071.6 771.8,1070.1 773.2,1068.7 774.5,1067.2 775.9,1065.7 777.2,1064.2 778.5,1062.7 779.9,1061.2 781.2,1059.7 782.5,1058.2 783.9,1056.7 785.2,1055.2 786.5,1053.7 787.8,1052.2 789.2,1050.7 790.5,1049.2 791.8,1047.7 793.1,1046.2 794.4,1044.7 795.7,1043.2 797.1,1041.7 798.4,1040.1 799.7,1038.6 801.0,1037.1 802.3,1035.6 803.6,1034.1 804.9,1032.5 806.2,1031.0 807.5,1029.5 808.8,1028.0 810.1,1026.4 811.4,1024.9 812.7,1023.4 814.0,1021.9 815.2,1020.3 816.5,1018.8 817.8,1017.3 819.1,1015.7 820.4,1014.2 821.7,1012.6 822.9,1011.1 824.2,1009.6 825.5,1008.0 826.8,1006.5 828.1,1004.9 829.3,1003.4 830.6,1001.9 831.9,1000.3 833.1,998.8 834.4,997.2 835.7,995.7 836.9,994.1 838.2,992.6 839.5,991.0 840.7,989.4 842.0,987.9 843.2,986.3 844.5,984.8 845.8,983.2 847.0,981.7 848.3,980.1 849.5,978.5 850.8,977.0 852.0,975.4 853.3,973.9 854.5,972.3 855.8,970.7 857.0,969.2 858.3,967.6 859.5,966.0 860.8,964.5 862.0,962.9 863.2,961.3 864.5,959.7 865.7,958.2 867.0,956.6 868.2,955.0 869.4,953.5 870.7,951.9 871.9,950.3 873.1,948.7 874.4,947.1 875.6,945.6 876.8,944.0 878.1,942.4 879.3,940.8 880.5,939.3 881.8,937.7 883.0,936.1 884.2,934.5 885.4,932.9 886.7,931.3 887.9,929.8 889.1,928.2 890.3,926.6 891.6,925.0 892.8,923.4 894.0,921.8 895.2,920.2 896.4,918.7 897.7,917.1 898.9,915.5 900.1,913.9 901.3,912.3 902.5,910.7 903.7,909.1 905.0,907.5 906.2,905.9 907.4,904.3 908.6,902.8 909.8,901.2 911.0,899.6 912.2,898.0 913.4,896.4 914.6,894.8 915.8,893.2 917.1,891.6 918.3,890.0 919.5,888.4 920.7,886.8 921.9,885.2 923.1,883.6 924.3,882.0 925.5,880.4 926.7,878.8 927.9,877.2 929.1,875.6 930.3,874.0 931.5,872.4 932.7,870.8 933.9,869.2 935.1,867.6 936.3,866.0 937.5,864.4 938.7,862.8 939.9,861.2 941.0,859.5 942.2,857.9 943.4,856.3 944.6,854.7 945.8,853.1 947.0,851.5 948.2,849.9 949.4,848.3 950.6,846.7 951.7,845.1 952.9,843.4 954.1,841.8 955.3,840.2 956.5,838.6 957.7,837.0 958.8,835.4 960.0,833.8 961.2,832.1 962.4,830.5 963.6,828.9 964.7,827.3 965.9,825.7 967.1,824.0 968.3,822.4 969.4,820.8 970.6,819.2 971.8,817.6 973.0,815.9 974.1,814.3 975.3,812.7 976.5,811.1 977.7,809.4 978.8,807.8 980.0,806.2 981.2,804.6 982.3,802.9 983.5,801.3 984.7,799.7 985.8,798.1 987.0,796.4 988.1,794.8 989.3,793.2 990.5,791.5 991.6,789.9 992.8,788.3 993.9,786.7 995.1,785.0 996.3,783.4 997.4,781.8 998.6,780.1 999.7,778.5 1000.9,776.9 1002.0,775.2 1003.2,773.6 1004.3,771.9 1005.5,770.3 1006.6,768.7 1007.8,767.0 1008.9,765.4 1010.1,763.8 1011.2,762.1 1012.4,760.5 1013.5,758.8 1014.7,757.2 1015.8,755.5 1017.0,753.9 1018.1,752.3 1019.2,750.6 1020.4,749.0 1021.5,747.3 1022.7,745.7 1023.8,744.0 1024.9,742.4 1026.1,740.7 1027.2,739.1 1028.4,737.5 1029.5,735.8 1030.6,734.2 1031.8,732.5 1032.9,730.9 1034.0,729.2 1035.2,727.6 1036.3,725.9 1037.4,724.2 1038.5,722.6 1039.7,720.9 1040.8,719.3 1041.9,717.6 1043.0,716.0 1044.2,714.3 1045.3,712.7 1046.4,711.0 1047.5,709.3 1048.7,707.7 1049.8,706.0 1050.9,704.4 1052.0,702.7 1053.1,701.1 1054.3,699.4 1055.4,697.7 1056.5,696.1 1057.6,694.4 1058.7,692.7 1059.8,691.1 1060.9,689.4 1062.1,687.8 1063.2,686.1 1064.3,684.4 1065.4,682.8 1066.5,681.1 1067.6,679.4 1068.7,677.8 1069.8,676.1 1070.9,674.4 1072.0,672.7 1073.1,671.1 1074.2,669.4 1075.3,667.7 1076.4,666.1 1077.5,664.4 1078.6,662.7 1079.7,661.0 1080.8,659.4 1081.9,657.7 1083.0,656.0 1084.1,654.3 1085.2,652.7 1086.3,651.0 1087.4,649.3 1088.5,647.6 1089.6,646.0 1090.7,644.3 1091.8,642.6 1092.9,640.9 1093.9,639.2 1095.0,637.6 1096.1,635.9 1097.2,634.2 1098.3,632.5 1099.4,630.8 1100.5,629.1 1101.5,627.5 1102.6,625.8 1103.7,624.1 1104.8,622.4 1105.9,620.7 1106.9,619.0 1108.0,617.3 1109.1,615.6 1110.2,614.0 1111.2,612.3 1112.3,610.6 1113.4,608.9 1114.5,607.2 1115.5,605.5 1116.6,603.8 1117.7,602.1 1118.7,600.4 1119.8,598.7 1120.9,597.0 1121.9,595.3 1123.0,593.7 1124.1,592.0 1125.2,590.3 1126.2,588.6 1127.3,586.9 1128.4,585.2 1129.4,583.5 1130.5,581.8 1131.6,580.1 1132.7,578.4 1133.7,576.8 1134.8,575.1 1135.9,573.4 1137.0,571.7 1138.1,570.0 1139.1,568.3 1140.2,566.6 1141.3,565.0 1142.4,563.3 1143.5,561.6 1144.6,559.9 1145.7,558.3 1146.8,556.6 1147.9,554.9 1149.0,553.3 1150.1,551.6 1151.2,549.9 1152.3,548.3 1153.4,546.6 1154.5,544.9 1155.6,543.3 1156.8,541.6 1157.9,540.0 1159.0,538.3 1160.1,536.7 1161.3,535.0 1162.4,533.4 1163.6,531.8 1164.7,530.1 1165.9,528.5 1167.0,526.9 1168.2,525.2 1169.3,523.6 1170.5,522.0 1171.7,520.4 1172.8,518.8 1174.0,517.2 1175.2,515.6 1176.4,514.0 1177.6,512.4 1178.8,510.8 1180.0,509.2 1181.2,507.6 1182.4,506.0 1183.6,504.4 1184.9,502.9 1186.1,501.3 1187.3,499.7 1188.6,498.2 1189.8,496.6 1191.1,495.0 1192.3,493.5 1193.6,491.9 1194.9,490.4 1196.2,488.9 1197.4,487.3 1198.7,485.8 1200.0,484.3 1201.3,482.8 1202.7,481.3 1204.0,479.8 1205.3,478.3 1206.6,476.8 1208.0,475.3 1209.3,473.8 1210.7,472.3 1212.0,470.9 1213.4,469.4 1214.8,467.9 1216.2,466.5 1217.6,465.0 1219.0,463.6 1220.4,462.2 1221.8,460.7 1223.2,459.3 1224.7,457.9 1226.1,456.5 1227.6,455.1 1229.0,453.7 1230.5,452.3 1232.0,450.9 1233.5,449.5 1235.0,448.1 1236.5,446.8 1238.0,445.4 1239.5,444.1 1241.1,442.7 1242.6,441.4 1244.2,440.1 1245.7,438.7 1247.3,437.4 1248.9,436.1 1250.5,434.9 1252.1,433.8 1253.8,432.7 1255.4,431.9 1257.1,431.3 1258.9,430.9 1260.6,430.8 1262.5,431.0 1264.3,431.5 1266.1,432.3 1267.8,433.3 1269.4,434.5 1270.9,435.8 1272.2,437.3 1273.3,439.0 1274.3,440.7 1275.1,442.5 1275.8,444.4 1276.4,446.3 1276.9,448.3 1277.4,450.3 1277.7,452.4 1278.1,454.4 1278.4,456.5 1278.7,458.6 1279.0,460.6 1279.3,462.7 1279.6,464.7 1279.8,466.7 1280.1,468.8 1280.3,470.8 1280.5,472.9 1280.8,474.9 1281.0,476.9 1281.1,478.9 1281.3,481.0 1281.5,483.0 1281.7,485.0 1281.8,487.0 1281.9,489.0 1282.1,491.0 1282.2,493.0 1282.3,495.0 1282.4,497.1 1282.5,499.1 1282.6,501.1 1282.7,503.1 1282.8,505.1 1282.9,507.1 1283.0,509.1 1283.1,511.1 1283.1,513.0 1283.2,515.0 1283.3,517.0 1283.3,519.0 1283.4,521.0 1283.4,523.0 1283.5,525.0 1283.5,527.0 1283.6,529.0 1283.6,531.0 1283.7,533.0 1283.7,535.0 1283.8,537.0 1283.8,539.0 1283.8,541.0 1283.9,542.9 1283.9,544.9 1284.0,546.9 1284.0,548.9 1284.0,550.9 1284.1,552.9 1284.1,554.9 1284.2,556.9 1284.2,558.9 1284.2,560.9 1284.3,562.9 1284.3,564.9 1284.4,566.9 1284.4,568.9 1284.4,570.9 1284.5,572.9 1284.5,574.9 1284.5,576.9 1284.6,578.9 1284.6,580.9 1284.6,582.8 1284.7,584.8 1284.7,586.8 1284.7,588.8 1284.7,590.8 1284.8,592.8 1284.8,594.8 1284.8,596.8 1284.9,598.8 1284.9,600.8 1284.9,602.8 1284.9,604.8 1285.0,606.8 1285.0,608.8 1285.0,610.8 1285.0,612.8 1285.1,614.8 1285.1,616.8 1285.1,618.8 1285.1,620.8 1285.2,622.8 1285.2,624.8 1285.2,626.8 1285.2,628.8 1285.2,630.8 1285.3,632.8 1285.3,634.8 1285.3,636.8 1285.3,638.8 1285.3,640.8 1285.4,642.8 1285.4,644.8 1285.4,646.8 1285.4,648.8 1285.4,650.8 1285.5,652.8 1285.5,654.8 1285.5,656.8 1285.5,658.8 1285.5,660.8 1285.5,662.8 1285.6,664.8 1285.6,666.8 1285.6,668.8 1285.6,670.8 1285.6,672.8 1285.6,674.8 1285.7,676.8 1285.7,678.8 1285.7,680.8 1285.7,682.8 1285.7,684.8 1285.7,686.8 1285.7,688.8 1285.7,690.8 1285.8,692.8 1285.8,694.8 1285.8,696.8 1285.8,698.8 1285.8,700.8 1285.8,702.8 1285.8,704.8 1285.8,706.8 1285.9,708.8 1285.9,710.8 1285.9,712.8 1285.9,714.8 1285.9,716.8 1285.9,718.8 1285.9,720.8 1285.9,722.9 1285.9,724.9 1286.0,726.9 1286.0,728.9 1286.0,730.9 1286.0,732.9 1286.0,734.9 1286.0,736.9 1286.0,738.9 1286.0,740.9 1286.0,742.9 1286.0,744.9 1286.1,746.9 1286.1,748.9 1286.1,750.9 1286.1,752.9 1286.1,754.9 1286.1,756.9 1286.1,758.9 1286.1,760.9 1286.1,762.9 1286.1,764.9 1286.2,766.9 1286.2,768.9 1286.2,770.9 1286.2,772.9 1286.2,774.9 1286.2,776.9 1286.2,778.9 1286.2,780.9 1286.2,783.0 1286.2,785.0 1286.3,787.0 1286.3,789.0 1286.3,791.0 1286.3,793.0 1286.3,795.0 1286.3,797.0 1286.3,799.0 1286.3,801.0 1286.3,803.0 1286.4,805.0 1286.4,807.0 1286.4,809.0 1286.4,811.0 1286.4,813.0 1286.4,815.0 1286.4,817.0 1286.4,819.0 1286.5,821.0 1286.5,823.0 1286.5,825.0 1286.5,827.0 1286.5,829.0 1286.5,831.0 1286.5,833.0 1286.6,835.1 1286.6,837.1 1286.6,839.1 1286.6,841.1 1286.6,843.1 1286.6,845.1 1286.6,847.1 1286.7,849.1 1286.7,851.1 1286.7,853.1 1286.7,855.1 1286.7,857.1 1286.8,859.1 1286.8,861.1 1286.8,863.1 1286.8,865.1 1286.8,867.1 1286.8,869.1 1286.9,871.1 1286.9,873.1 1286.9,875.1 1286.9,877.1 1286.9,879.1 1287.0,881.1 1287.0,883.1 1287.0,885.1 1287.0,887.1 1287.1,889.1 1287.1,891.2 1287.1,893.2 1287.1,895.2 1287.2,897.2 1287.2,899.2 1287.2,901.2 1287.2,903.2 1287.3,905.2 1287.3,907.2 1287.3,909.2 1287.3,911.2 1287.4,913.2 1287.4,915.2 1287.4,917.2 1287.5,919.2 1287.5,921.2 1287.5,923.2 1287.5,925.2 1287.6,927.2 1287.6,929.2 1287.6,931.2 1287.7,933.2 1287.7,935.2 1287.7,937.2 1287.8,939.2 1287.8,941.2 1287.8,943.2 1287.9,945.2 1287.9,947.2 1288.0,949.2 1288.0,951.2 1288.0,953.2 1288.1,955.2 1288.1,957.2 1288.1,959.2 1288.2,961.2 1288.2,963.2 1288.3,965.2 1288.3,967.2 1288.4,969.2 1288.4,971.2 1288.4,973.2 1288.5,975.2 1288.5,977.2 1288.6,979.2 1288.6,981.2 1288.7,983.2 1288.7,985.2 1288.8,987.2 1288.8,989.2 1288.9,991.2 1288.9,993.2 1289.0,995.2 1289.0,997.2 1289.1,999.2 1289.1,1001.2 1289.2,1003.2 1289.2,1005.2 1289.3,1007.2 1289.4,1009.2 1289.4,1011.2 1289.5,1013.2 1289.5,1015.2 1289.6,1017.2 1289.6,1019.2 1289.7,1021.2 1289.8,1023.2 1289.8,1025.2 1289.9,1027.2 1290.0,1029.2 1290.0,1031.2 1290.1,1033.2 1290.1,1035.2 1290.2,1037.2 1290.3,1039.2 1290.3,1041.2 1290.4,1043.2 1290.5,1045.2 1290.5,1047.2 1290.6,1049.2 1290.7,1051.2 1290.7,1053.2 1290.8,1055.2 1290.8,1057.2 1290.9,1059.2 1291.0,1061.2 1291.0,1063.2 1291.1,1065.2 1291.2,1067.2 1291.2,1069.2 1291.3,1071.2 1291.3,1073.2 1291.4,1075.2 1291.5,1077.2 1291.5,1079.2 1291.6,1081.2 1291.6,1083.2 1291.7,1085.2 1291.8,1087.2 1291.8,1089.2 1291.9,1091.2 1291.9,1093.2 1292.0,1095.2 1292.0,1097.2 1292.1,1099.2 1292.1,1101.2 1292.2,1103.2 1292.2,1105.2 1292.3,1107.2 1292.3,1109.2 1292.4,1111.2 1292.4,1113.2 1292.5,1115.2 1292.5,1117.2 1292.5,1119.2 1292.6,1121.2 1292.6,1123.2 1292.7,1125.2 1292.7,1127.2 1292.7,1129.3 1292.8,1131.3 1292.8,1133.3 1292.8,1135.3 1292.8,1137.3 1292.9,1139.3 1292.9,1141.3 1292.9,1143.3 1293.0,1145.3 1293.0,1147.3 1293.1,1149.3 1293.1,1151.3 1293.2,1153.3 1293.3,1155.3 1293.4,1157.3 1293.5,1159.3 1293.7,1161.3 1293.9,1163.3 1294.1,1165.3 1294.3,1167.3 1294.6,1169.3 1294.9,1171.3 1295.2,1173.2 1295.6,1175.2 1296.0,1177.2 1296.5,1179.1 1297.0,1181.1 1297.5,1183.0 1298.1,1185.0 1298.7,1186.9 1299.4,1188.8 1300.2,1190.7 1301.0,1192.6 1301.9,1194.4 1302.9,1196.2 1303.9,1197.9 1305.0,1199.6 1306.2,1201.1 1307.4,1202.6 1308.8,1204.0 1310.2,1205.2 1311.8,1206.3 1313.4,1207.3 1315.1,1208.1 1317.0,1208.8 1318.9,1209.4 1320.9,1209.8 1322.9,1210.2 1325.0,1210.5 1327.0,1210.7 1329.1,1211.0 1331.2,1211.2 1333.2,1211.4 1335.3,1211.6 1337.3,1211.7 1339.3,1211.8 1341.4,1212.0 1343.4,1212.1 1345.4,1212.2 1347.4,1212.2 1349.4,1212.3 1351.4,1212.3 1353.4,1212.3 1355.4,1212.4 1357.4,1212.4 1359.4,1212.3 1361.4,1212.3 1363.3,1212.3 1365.3,1212.2 1367.3,1212.2 1369.3,1212.1 1371.2,1212.0 1373.2,1212.0 1375.2,1211.9 1377.1,1211.8 1379.1,1211.7 1381.1,1211.6 1383.0,1211.4 1385.0,1211.3 1387.0,1211.2 1388.9,1211.1 1390.9,1210.9 1392.9,1210.8 1394.8,1210.6 1396.8,1210.5 1398.8,1210.4 1400.7,1210.2 1402.7,1210.1 1404.7,1209.9 1406.7,1209.8 1408.7,1209.7 1410.6,1209.5 1412.6,1209.4 1414.6,1209.2 1416.6,1209.1 1418.6,1208.9 1420.6,1208.8 1422.6,1208.6 1424.6,1208.5 1426.6,1208.3 1428.6,1208.2 1430.6,1208.0 1432.6,1207.9 1434.6,1207.7 1436.6,1207.5 1438.6,1207.4 1440.6,1207.2 1442.6,1207.0 1444.6,1206.9 1446.6,1206.7 1448.6,1206.5 1450.6,1206.3 1452.6,1206.2 1454.6,1206.0 1456.6,1205.8 1458.6,1205.6 1460.6,1205.4 1462.6,1205.2 1464.6,1205.0 1466.7,1204.8 1468.7,1204.6 1470.7,1204.4 1472.7,1204.1 1474.7,1203.9 1476.7,1203.7 1478.7,1203.5 1480.7,1203.2 1482.7,1203.0 1484.7,1202.7 1486.7,1202.5 1488.7,1202.2 1490.7,1202.0 1492.7,1201.7 1494.7,1201.4 1496.7,1201.1 1498.7,1200.9 1500.7,1200.6 1502.7,1200.3 1504.7,1200.0 1506.7,1199.7 1508.7,1199.4 1510.7,1199.0 1512.7,1198.7 1514.7,1198.4 1516.6,1198.0 1518.6,1197.7 1520.6,1197.4 1522.6,1197.0 1524.6,1196.6 1526.5,1196.3 1528.5,1195.9 1530.5,1195.5 1532.5,1195.1 1534.4,1194.7 1536.4,1194.3 1538.4,1193.9 1540.3,1193.4 1542.3,1193.0 1544.2,1192.6 1546.2,1192.1 1548.1,1191.7 1550.1,1191.2 1552.0,1190.7 1554.0,1190.2 1555.9,1189.7 1557.8,1189.2 1559.8,1188.7 1561.7,1188.2 1563.6,1187.7 1565.6,1187.1 1567.5,1186.6 1569.4,1186.0 1571.3,1185.5 1573.2,1184.9 1575.1,1184.3 1577.0,1183.7 1578.9,1183.1 1580.8,1182.5 1582.7,1181.9 1584.6,1181.2 1586.5,1180.6 1588.4,1179.9 1590.2,1179.2 1592.1,1178.6 1594.0,1177.9 1595.8,1177.2 1597.7,1176.4 1599.5,1175.7 1601.4,1175.0 1603.2,1174.2 1605.1,1173.5 1606.9,1172.7 1608.7,1171.9 1610.6,1171.1 1612.4,1170.3 1614.2,1169.5 1616.0,1168.7 1617.8,1167.8 1619.6,1167.0 1621.4,1166.1 1623.2,1165.3 1625.0,1164.4 1626.8,1163.5 1628.6,1162.6 1630.3,1161.7 1632.1,1160.8 1633.9,1159.9 1635.6,1158.9 1637.4,1158.0 1639.2,1157.1 1640.9,1156.1 1642.7,1155.1 1644.4,1154.2 1646.1,1153.2 1647.9,1152.2 1649.6,1151.2 1651.3,1150.2 1653.1,1149.2 1654.8,1148.1 1656.5,1147.1 1658.2,1146.1 1659.9,1145.0 1661.6,1144.0 1663.3,1142.9 1665.0,1141.8 1666.7,1140.8 1668.4,1139.7 1670.1,1138.6 1671.7,1137.5 1673.4,1136.4 1675.1,1135.3 1676.8,1134.2 1678.4,1133.1 1680.1,1132.0 1681.7,1130.8 1683.4,1129.7 1685.0,1128.6 1686.7,1127.4 1688.3,1126.3 1690.0,1125.1 1691.6,1124.0 1693.2,1122.8 1694.9,1121.6 1696.5,1120.5 1698.1,1119.3 1699.7,1118.1 1701.3,1116.9 1703.0,1115.7 1704.6,1114.5 1706.2,1113.3 1707.8,1112.1 1709.4,1110.9 1710.9,1109.7 1712.5,1108.5 1714.1,1107.3 1715.7,1106.1 1717.3,1104.8 1718.9,1103.6 1720.4,1102.4 1722.0,1101.1 1723.6,1099.9 1725.1,1098.7 1726.7,1097.4 1728.3,1096.2 1729.8,1094.9 1731.4,1093.6 1732.9,1092.4 1734.5,1091.1 1736.0,1089.8 1737.5,1088.6 1739.1,1087.3 1740.6,1086.0 1742.1,1084.7 1743.7,1083.4 1745.2,1082.1 1746.7,1080.8 1748.2,1079.5 1749.7,1078.2 1751.3,1076.9 1752.8,1075.6 1754.3,1074.3 1755.8,1073.0 1757.3,1071.7 1758.8,1070.3 1760.3,1069.0 1761.8,1067.7 1763.3,1066.4 1764.7,1065.0 1766.2,1063.7 1767.7,1062.3 1769.2,1061.0 1770.7,1059.7 1772.2,1058.3 1773.6,1056.9 1775.1,1055.6 1776.6,1054.2 1778.0,1052.9 1779.5,1051.5 1781.0,1050.1 1782.4,1048.8 1783.9,1047.4 1785.3,1046.0 1786.8,1044.7 1788.2,1043.3 1789.7,1041.9 1791.1,1040.5 1792.6,1039.1 1794.0,1037.7 1795.5,1036.3 1796.9,1034.9 1798.3,1033.6 1799.8,1032.2 1801.2,1030.8 1802.6,1029.4 1804.1,1027.9 1805.5,1026.5 1806.9,1025.1 1808.3,1023.7 1809.8,1022.3 1811.2,1020.9 1812.6,1019.5 1814.0,1018.1 1815.4,1016.6 1816.8,1015.2 1818.2,1013.8 1819.6,1012.4 1821.1,1010.9 1822.5,1009.5 1823.9,1008.1 1825.3,1006.6 1826.7,1005.2 1828.1,1003.8 1829.5,1002.3 1830.8,1000.9 1832.2,999.5 1833.6,998.0 1835.0,996.6 1836.4,995.1 1837.8,993.7 1839.2,992.2 1840.6,990.8 1842.0,989.3 1843.3,987.9 1844.7,986.4 1846.1,985.0 1847.5,983.5 1848.9,982.1 1850.2,980.6 1851.6,979.1 1853.0,977.7 1854.4,976.2 1855.7,974.8 1857.1,973.3 1858.5,971.8 1859.8,970.4 1861.2,968.9 1862.6,967.4 1863.9,966.0 1865.3,964.5 1866.7,963.0 1868.0,961.6 1869.4,960.1 1870.7,958.6 1872.1,957.2 1873.5,955.7 1874.8,954.2 1876.2,952.7 1877.5,951.3 1878.9,949.8 1880.2,948.3 1881.6,946.8 1883.0,945.4 1884.3,943.9 1885.7,942.4 1887.0,941.0 1888.4,939.5 1889.7,938.0 1891.1,936.5 1892.4,935.1 1893.8,933.6 1895.1,932.1 1896.5,930.6 1897.8,929.2 1899.2,927.7 1900.5,926.2 1901.8,924.7 1903.2,923.3 1904.5,921.8 1905.9,920.3 1907.2,918.8 1908.6,917.4 1909.9,915.9 1911.3,914.4 1912.6,912.9 1914.0,911.5 1915.3,910.0 1914.2,911.7 1913.1,913.4 1912.0,915.0 1910.9,916.7 1909.8,918.4 1908.7,920.1 1907.7,921.8 1906.6,923.5 1905.5,925.2 1904.4,926.9 1903.3,928.6 1902.3,930.2 1901.2,931.9 1900.1,933.6 1899.1,935.3 1898.0,937.0 1896.9,938.7 1895.9,940.4 1894.8,942.1 1893.7,943.8 1892.7,945.5 1891.6,947.2 1890.5,948.9 1889.5,950.6 1888.4,952.3 1887.3,954.0 1886.3,955.7 1885.2,957.4 1884.1,959.0 1883.1,960.7 1882.0,962.4 1880.9,964.1 1879.9,965.8 1878.8,967.5 1877.7,969.2 1876.6,970.9 1875.6,972.6 1874.5,974.2 1873.4,975.9 1872.3,977.6 1871.2,979.3 1870.1,981.0 1869.0,982.6 1867.9,984.3 1866.8,986.0 1865.7,987.7 1864.6,989.3 1863.5,991.0 1862.4,992.7 1861.3,994.3 1860.1,996.0 1859.0,997.6 1857.9,999.3 1856.7,1000.9 1855.6,1002.6 1854.5,1004.2 1853.3,1005.9 1852.2,1007.5 1851.0,1009.2 1849.8,1010.8 1848.7,1012.4 1847.5,1014.1 1846.3,1015.7 1845.1,1017.3 1844.0,1019.0 1842.8,1020.6 1841.6,1022.2 1840.4,1023.8 1839.2,1025.4 1838.0,1027.0 1836.8,1028.6 1835.5,1030.2 1834.3,1031.8 1833.1,1033.4 1831.9,1035.0 1830.7,1036.6 1829.4,1038.2 1828.2,1039.7 1826.9,1041.3 1825.7,1042.9 1824.4,1044.5 1823.2,1046.0 1821.9,1047.6 1820.7,1049.1 1819.4,1050.7 1818.1,1052.2 1816.8,1053.8 1815.6,1055.3 1814.3,1056.8 1813.0,1058.4 1811.7,1059.9 1810.4,1061.4 1809.1,1062.9 1807.8,1064.4 1806.5,1065.9 1805.2,1067.4 1803.9,1068.9 1802.5,1070.4 1801.2,1071.9 1799.9,1073.4 1798.5,1074.9 1797.2,1076.3 1795.9,1077.8 1794.5,1079.3 1793.2,1080.7 1791.8,1082.2 1790.5,1083.7 1789.1,1085.1 1787.8,1086.6 1786.4,1088.1 1785.1,1089.5 1783.7,1091.0 1782.3,1092.4 1780.9,1093.9 1779.6,1095.3 1778.2,1096.8 1776.8,1098.2 1775.4,1099.7 1774.1,1101.2 1772.7,1102.6 1771.3,1104.1 1769.9,1105.5 1768.5,1107.0 1767.1,1108.4 1765.7,1109.9 1764.3,1111.3 1762.9,1112.8 1761.5,1114.2 1760.1,1115.6 1758.7,1117.1 1757.3,1118.5 1755.8,1119.9 1754.4,1121.4 1753.0,1122.8 1751.6,1124.2 1750.1,1125.6 1748.7,1127.0 1747.2,1128.4 1745.8,1129.8 1744.3,1131.2 1742.8,1132.6 1741.4,1133.9 1739.9,1135.3 1738.4,1136.7 1736.9,1138.0 1735.4,1139.4 1733.9,1140.7 1732.4,1142.0 1730.9,1143.3 1729.4,1144.6 1727.9,1145.9 1726.3,1147.2 1724.8,1148.5 1723.2,1149.8 1721.7,1151.0 1720.1,1152.3 1718.5,1153.5 1716.9,1154.7 1715.4,1155.9 1713.8,1157.1 1712.1,1158.3 1710.5,1159.5 1708.9,1160.6 1707.3,1161.8 1705.6,1162.9 1704.0,1164.0 1702.3,1165.1 1700.6,1166.2 1699.0,1167.3 1697.3,1168.4 1695.6,1169.4 1693.9,1170.4 1692.2,1171.5 1690.4,1172.5 1688.7,1173.4 1687.0,1174.4 1685.2,1175.4 1683.5,1176.3 1681.7,1177.3 1679.9,1178.2 1678.2,1179.1 1676.4,1180.0 1674.6,1180.9 1672.8,1181.8 1671.0,1182.7 1669.2,1183.5 1667.4,1184.3 1665.6,1185.2 1663.7,1186.0 1661.9,1186.8 1660.0,1187.6 1658.2,1188.4 1656.4,1189.1 1654.5,1189.9 1652.6,1190.6 1650.8,1191.4 1648.9,1192.1 1647.0,1192.8 1645.1,1193.5 1643.2,1194.2 1641.4,1194.9 1639.5,1195.6 1637.6,1196.2 1635.7,1196.9 1633.7,1197.5 1631.8,1198.1 1629.9,1198.7 1628.0,1199.3 1626.1,1199.9 1624.1,1200.5 1622.2,1201.1 1620.3,1201.7 1618.3,1202.2 1616.4,1202.8 1614.5,1203.3 1612.5,1203.9 1610.6,1204.4 1608.6,1204.9 1606.7,1205.4 1604.7,1205.9 1602.8,1206.4 1600.8,1206.8 1598.8,1207.3 1596.9,1207.8 1594.9,1208.2 1593.0,1208.7 1591.0,1209.1 1589.0,1209.5 1587.1,1209.9 1585.1,1210.4 1583.1,1210.8 1581.2,1211.2 1579.2,1211.5 1577.2,1211.9 1575.3,1212.3 1573.3,1212.7 1571.3,1213.0 1569.3,1213.4 1567.4,1213.7 1565.4,1214.0 1563.4,1214.4 1561.4,1214.7 1559.5,1215.0 1557.5,1215.3 1555.5,1215.6 1553.5,1215.9 1551.6,1216.2 1549.6,1216.5 1547.6,1216.8 1545.6,1217.0 1543.6,1217.3 1541.6,1217.5 1539.7,1217.8 1537.7,1218.0 1535.7,1218.3 1533.7,1218.5 1531.7,1218.7 1529.7,1219.0 1527.7,1219.2 1525.8,1219.4 1523.8,1219.6 1521.8,1219.8 1519.8,1220.0 1517.8,1220.2 1515.8,1220.4 1513.8,1220.6 1511.8,1220.7 1509.8,1220.9 1507.8,1221.1 1505.8,1221.2 1503.8,1221.4 1501.8,1221.5 1499.8,1221.7 1497.9,1221.8 1495.9,1222.0 1493.9,1222.1 1491.9,1222.3 1489.9,1222.4 1487.9,1222.5 1485.9,1222.6 1483.9,1222.7 1481.9,1222.9 1479.9,1223.0 1477.9,1223.1 1475.9,1223.2 1473.9,1223.3 1471.9,1223.4 1469.9,1223.5 1467.9,1223.6 1465.9,1223.7 1463.9,1223.8 1461.9,1223.8 1459.9,1223.9 1457.8,1224.0 1455.8,1224.1 1453.8,1224.1 1451.8,1224.2 1449.8,1224.3 1447.8,1224.4 1445.8,1224.4 1443.8,1224.5 1441.8,1224.5 1439.8,1224.6 1437.8,1224.7 1435.8,1224.7 1433.8,1224.8 1431.8,1224.8 1429.8,1224.9 1427.8,1224.9 1425.8,1225.0 1423.8,1225.0 1421.8,1225.1 1419.7,1225.1 1417.7,1225.2 1415.7,1225.2 1413.7,1225.3 1411.7,1225.3 1409.7,1225.4 1407.7,1225.4 1405.7,1225.5 1403.7,1225.5 1401.7,1225.5 1399.7,1225.6 1397.7,1225.6 1395.7,1225.7 1393.7,1225.7 1391.7,1225.8 1389.7,1225.8 1387.6,1225.8 1385.6,1225.9 1383.6,1225.9 1381.6,1226.0 1379.6,1226.0 1377.6,1226.1 1375.6,1226.1 1373.6,1226.2 1371.6,1226.2 1369.6,1226.2 1367.6,1226.3 1365.6,1226.3 1363.6,1226.4 1361.6,1226.4 1359.6,1226.5 1357.6,1226.5 1355.6,1226.5 1353.5,1226.6 1351.5,1226.6 1349.5,1226.7 1347.5,1226.7 1345.5,1226.8 1343.5,1226.8 1341.5,1226.8 1339.5,1226.9 1337.5,1226.9 1335.5,1227.0 1333.5,1227.0 1331.5,1227.1 1329.5,1227.1 1327.5,1227.2 1325.5,1227.2 1323.5,1227.2 1321.5,1227.3 1319.5,1227.3 1317.5,1227.4 1315.4,1227.4 1313.4,1227.5 1311.4,1227.5 1309.4,1227.5 1307.4,1227.6 1305.4,1227.6 1303.4,1227.7 1301.4,1227.7 1299.4,1227.7 1297.4,1227.8 1295.4,1227.8 1293.4,1227.9 1291.4,1227.9 1289.4,1228.0 1287.4,1228.0 1285.4,1228.0 1283.4,1228.1 1281.4,1228.1 1279.4,1228.2 1277.4,1228.2 1275.4,1228.2 1273.4,1228.3 1271.3,1228.3 1269.3,1228.4 1267.3,1228.4 1265.3,1228.4 1263.3,1228.5 1261.3,1228.5 1259.3,1228.6 1257.3,1228.6 1255.3,1228.6 1253.3,1228.7 1251.3,1228.7 1249.3,1228.8 1247.3,1228.8 1245.3,1228.8 1243.3,1228.9 1241.3,1228.9 1239.3,1228.9 1237.3,1229.0 1235.3,1229.0 1233.3,1229.1 1231.3,1229.1 1229.3,1229.1 1227.3,1229.2 1225.3,1229.2 1223.2,1229.2 1221.2,1229.3 1219.2,1229.3 1217.2,1229.4 1215.2,1229.4 1213.2,1229.4 1211.2,1229.5 1209.2,1229.5 1207.2,1229.5 1205.2,1229.6 1203.2,1229.6 1201.2,1229.6 1199.2,1229.7 1197.2,1229.7 1195.2,1229.7 1193.2,1229.8 1191.2,1229.8 1189.2,1229.8 1187.2,1229.9 1185.2,1229.9 1183.2,1229.9 1181.2,1230.0 1179.2,1230.0 1177.2,1230.0 1175.2,1230.1 1173.2,1230.1 1171.1,1230.1 1169.1,1230.1 1167.1,1230.2 1165.1,1230.2 1163.1,1230.2 1161.1,1230.3 1159.1,1230.3 1157.1,1230.3 1155.1,1230.3 1153.1,1230.4 1151.1,1230.4 1149.1,1230.4 1147.1,1230.5 1145.1,1230.5 1143.1,1230.5 1141.1,1230.5 1139.1,1230.6 1137.1,1230.6 1135.1,1230.6 1133.1,1230.6 1131.1,1230.7 1129.1,1230.7 1127.1,1230.7 1125.1,1230.7 1123.1,1230.8 1121.1,1230.8 1119.0,1230.8 1117.0,1230.8 1115.0,1230.8 1113.0,1230.9 1111.0,1230.9 1109.0,1230.9 1107.0,1230.9 1105.0,1230.9 1103.0,1231.0 1101.0,1231.0 1099.0,1231.0 1097.0,1231.0 1095.0,1231.0 1093.0,1231.1 1091.0,1231.1 1089.0,1231.1 1087.0,1231.1 1085.0,1231.1 1083.0,1231.1 1081.0,1231.2 1079.0,1231.2 1077.0,1231.2 1075.0,1231.2 1073.0,1231.2 1071.0,1231.2 1069.0,1231.2 1066.9,1231.2 1064.9,1231.3 1062.9,1231.3 1060.9,1231.3 1058.9,1231.3 1056.9,1231.3 1054.9,1231.3 1052.9,1231.3 1050.9,1231.3 1048.9,1231.3 1046.9,1231.3 1044.9,1231.4 1042.9,1231.4 1040.9,1231.4 1038.9,1231.4 1036.9,1231.4 1034.9,1231.4 1032.9,1231.4 1030.9,1231.4 1028.9,1231.4 1026.9,1231.4 1024.9,1231.4 1022.9,1231.4 1020.8,1231.4 1018.8,1231.4 1016.8,1231.4 1014.8,1231.4 1012.8,1231.4 1010.8,1231.4 1008.8,1231.4 1006.8,1231.4 1004.8,1231.4 1002.8,1231.4 1000.8,1231.4 998.8,1231.4 996.8,1231.4 994.8,1231.4 992.8,1231.4 990.8,1231.4 988.8,1231.4 986.8,1231.4 984.8,1231.4 982.8,1231.4 980.7,1231.4 978.7,1231.4 976.7,1231.4 974.7,1231.3 972.7,1231.3 970.7,1231.3 968.7,1231.3 966.7,1231.3 964.7,1231.3 962.7,1231.3 960.7,1231.3 958.7,1231.3 956.7,1231.3 954.7,1231.3 952.7,1231.2 950.7,1231.2 948.7,1231.2 946.7,1231.2 944.7,1231.2 942.6,1231.2 940.6,1231.2 938.6,1231.2 936.6,1231.2 934.6,1231.1 932.6,1231.1 930.6,1231.1 928.6,1231.1 926.6,1231.1 924.6,1231.1 922.6,1231.1 920.6,1231.1 918.6,1231.1 916.6,1231.1 914.6,1231.1 912.6,1231.0 910.6,1231.0 908.6,1231.0 906.5,1231.0 904.5,1231.0 902.5,1231.0 900.5,1231.0 898.5,1231.0 896.5,1231.0 894.5,1231.0 892.5,1231.0 890.5,1231.0 888.5,1231.0 886.5,1231.0 884.5,1231.0 882.5,1230.9 880.5,1230.9 878.5,1230.9 876.5,1230.9 874.5,1230.9 872.5,1230.9 870.4,1230.9 868.4,1230.9 866.4,1230.9 864.4,1230.9 862.4,1230.9 860.4,1230.9 858.4,1231.0 856.4,1231.0 854.4,1231.0 852.4,1231.0 850.4,1231.0 848.4,1231.0 846.4,1231.0 844.4,1231.0 842.4,1231.0 840.4,1231.0 838.4,1231.0 836.3,1231.0 834.3,1231.1 832.3,1231.1 830.3,1231.1 828.3,1231.1 826.3,1231.1 824.3,1231.1 822.3,1231.1 820.3,1231.2 818.3,1231.2 816.3,1231.2 814.3,1231.2 812.3,1231.3 810.3,1231.3 808.3,1231.3 806.3,1231.3 804.3,1231.4 802.3,1231.4 800.3,1231.4 798.2,1231.5 796.2,1231.5 794.2,1231.5 792.2,1231.6 790.2,1231.6 788.2,1231.6 786.2,1231.7 784.2,1231.7 782.2,1231.7 780.2,1231.8 778.2,1231.8 776.2,1231.9 774.2,1231.9 772.2,1232.0 770.2,1232.0 768.2,1232.1 766.2,1232.1 764.2,1232.2 762.2,1232.2 760.2,1232.3 758.1,1232.4 756.1,1232.4 754.1,1232.5 752.1,1232.5 750.1,1232.6 748.1,1232.7 746.1,1232.7 744.1,1232.8 742.1,1232.9 740.1,1233.0 738.1,1233.0 736.1,1233.1 734.1,1233.2 732.1,1233.3 730.1,1233.4 728.1,1233.4 726.1,1233.5 724.1,1233.6 722.1,1233.7 720.1,1233.9 718.1,1234.0 716.1,1234.2 714.1,1234.4 712.2,1234.6 710.2,1234.8 708.2,1235.1 706.3,1235.5 704.3,1235.9 702.4,1236.3 700.5,1236.8 698.6,1237.3 696.7,1237.8 694.8,1238.4 692.9,1239.1 691.0,1239.7 689.2,1240.4 687.3,1241.1 685.4,1241.7 683.6,1242.4 681.7,1243.1 679.8,1243.8 678.0,1244.4 676.1,1245.1 674.2,1245.7 672.3,1246.2 670.4,1246.7 668.5,1247.2 666.5,1247.6 664.6,1248.0 664.0,1246.0 663.4,1244.1 662.8,1242.1 662.2,1240.1 661.7,1238.1 661.2,1236.2 660.7,1234.2 660.2,1232.2 659.8,1230.2 659.4,1228.2 658.9,1226.2 658.6,1224.2 658.2,1222.2 657.8,1220.1 657.5,1218.1 657.2,1216.1 656.9,1214.1 656.6,1212.0 656.3,1210.0 656.1,1208.0 655.8,1205.9 655.6,1203.9 655.4,1201.9 655.2,1199.8 655.0,1197.8 654.8,1195.7 654.7,1193.7 654.5,1191.6 654.3,1189.6 654.2,1187.5 654.1,1185.5 653.9,1183.4 653.8,1181.4 653.7,1179.3 653.6,1177.3 653.5,1175.2 653.4,1173.1 653.3,1171.1 653.2,1169.0 653.1,1167.0 653.0,1164.9 652.9,1162.8 652.8,1160.8 652.8,1158.7 652.7,1156.6 652.6,1154.6 652.5,1152.5 652.4,1150.5 652.3,1148.4 652.2,1146.3 652.1,1144.3 652.0,1142.2 651.9,1140.2 651.8,1138.1 651.6,1136.1 651.5,1134.0 651.4,1132.0 651.2,1129.9 651.1,1127.9 650.9,1125.8 650.7,1123.8 650.6,1121.7 650.4,1119.7 650.2,1117.7 649.9,1115.6 649.7,1113.6 649.4,1115.7 649.1,1117.8 648.8,1119.9 648.4,1122.0 648.0,1124.0 647.5,1126.0 647.0,1128.0 646.4,1130.0 645.8,1131.9 645.2,1133.8 644.5,1135.7 643.7,1137.6 642.9,1139.4 642.0,1141.2 641.1,1142.9 640.1,1144.6 639.1,1146.2 638.0,1147.9 636.9,1149.4 635.7,1151.0 634.5,1152.5 633.2,1153.9 631.9,1155.4 630.5,1156.8 629.1,1158.2 627.7,1159.5 626.2,1160.8 624.7,1162.1 623.2,1163.4 621.7,1164.7 620.1,1165.9 618.5,1167.1 616.9,1168.3 615.3,1169.5 613.7,1170.7 612.0,1171.8 610.4,1172.9 608.7,1174.1 607.0,1175.1 605.3,1176.2 603.6,1177.3 601.8,1178.3 600.1,1179.3 598.3,1180.3 596.6,1181.3 594.8,1182.3 593.0,1183.3 591.2,1184.2 589.4,1185.1 587.5,1186.1 585.7,1186.9 583.9,1187.8 582.0,1188.7 580.2,1189.6 578.3,1190.4 576.4,1191.2 574.6,1192.0 572.7,1192.8 570.8,1193.6 568.9,1194.4 567.1,1195.1 565.2,1195.9 563.3,1196.6 561.4,1197.3 559.5,1198.0 557.6,1198.7 555.7,1199.4 553.8,1200.1 551.9,1200.7 550.0,1201.4 548.1,1202.0 546.1,1202.6 544.2,1203.2 542.3,1203.8 540.4,1204.4 538.5,1205.0 536.5,1205.6 534.6,1206.1 532.7,1206.7 530.7,1207.2 528.8,1207.7 526.9,1208.2 524.9,1208.7 523.0,1209.2 521.0,1209.7 519.1,1210.2 517.1,1210.7 515.2,1211.1 513.2,1211.5 511.3,1212.0 509.3,1212.4 507.3,1212.8 505.4,1213.2 503.4,1213.6 501.4,1214.0 499.5,1214.4 497.5,1214.8 495.5,1215.1 493.5,1215.5 491.6,1215.8 489.6,1216.2 487.6,1216.5 485.6,1216.8 483.7,1217.1 481.7,1217.4 479.7,1217.7 477.7,1218.0 475.7,1218.3 473.7,1218.6 471.7,1218.9 469.7,1219.1 467.7,1219.4 465.7,1219.7 463.7,1219.9 461.7,1220.1 459.7,1220.4 457.7,1220.6 455.7,1220.8 453.7,1221.0 451.7,1221.3 449.7,1221.5 447.7,1221.7 445.7,1221.9 443.7,1222.1 441.7,1222.2 439.7,1222.4 437.7,1222.6 435.7,1222.8 433.7,1222.9 431.7,1223.1 429.6,1223.3 427.6,1223.4 425.6,1223.6 423.6,1223.7 421.6,1223.9 419.6,1224.0 417.6,1224.1 415.5,1224.3 413.5,1224.4 411.5,1224.5 409.5,1224.7 407.5,1224.8 405.5,1224.9 403.4,1225.0 401.4,1225.1 399.4,1225.2 397.4,1225.3 395.4,1225.5 393.4,1225.6 391.3,1225.7 389.3,1225.8 387.3,1225.9 385.3,1226.0 383.3,1226.1 381.3,1226.2 379.2,1226.3 377.2,1226.4 375.2,1226.5 373.2,1226.6 371.2,1226.6 369.2,1226.7 367.1,1226.8 365.1,1226.9 363.1,1227.0 361.1,1227.1 359.1,1227.2 357.1,1227.3 355.1,1227.4 353.1,1227.5 351.0,1227.6 349.0,1227.7 347.0,1227.8 345.0,1227.9 343.0,1228.0 341.0,1228.1 339.0,1228.2 337.0,1228.3 335.0,1228.4 333.0,1228.5 331.0,1228.6 329.0,1228.8 327.0,1228.9 325.0,1229.0" fill="none" stroke="#00ff00" stroke-width="8.0" stroke-linejoin="round" stroke-dasharray="40.5 11.5"/>
<path d="M325.0,1229.5L327.0,1229.4 329.0,1229.4 331.0,1229.3 333.0,1229.3 335.0,1229.2 336.9,1229.2 338.9,1229.2 340.9,1229.1 342.9,1229.1 344.9,1229.1 346.9,1229.0 348.9,1229.0 350.9,1229.0 352.9,1229.0 354.9,1229.0 356.9,1228.9 358.9,1228.9 360.9,1228.9 362.9,1228.9 364.9,1228.9 366.9,1228.9 368.9,1228.9 370.9,1228.9 372.9,1228.9 374.9,1228.9 376.9,1228.9 378.9,1228.9 380.9,1228.9 382.9,1228.9 384.9,1228.9 387.0,1228.9 389.0,1228.9 391.0,1228.9 393.0,1228.9 395.0,1229.0 397.0,1229.0 399.0,1229.0 401.0,1229.0 403.0,1229.0 405.0,1229.0 407.0,1229.0 409.0,1229.0 411.0,1229.1 413.0,1229.1 415.1,1229.1 417.1,1229.1 419.1,1229.1 421.1,1229.1 423.1,1229.1 425.1,1229.1 427.1,1229.2 429.1,1229.2 431.1,1229.2 433.1,1229.2 435.2,1229.2 437.2,1229.2 439.2,1229.2 441.2,1229.2 443.2,1229.2 445.2,1229.2 447.2,1229.2 449.2,1229.2 451.2,1229.2 453.2,1229.2 455.2,1229.2 457.3,1229.2 459.3,1229.1 461.3,1229.1 463.3,1229.1 465.3,1229.1 467.3,1229.1 469.3,1229.1 471.3,1229.0 473.3,1229.0 475.3,1229.0 477.3,1228.9 479.3,1228.9 481.3,1228.8 483.4,1228.8 485.4,1228.8 487.4,1228.7 489.4,1228.7 491.4,1228.6 493.4,1228.5 495.4,1228.5 497.4,1228.4 499.4,1228.3 501.4,1228.3 503.4,1228.2 505.4,1228.1 507.4,1228.0 509.4,1227.9 511.4,1227.8 513.4,1227.7 515.4,1227.6 517.4,1227.5 519.4,1227.4 521.4,1227.3 523.4,1227.2 525.4,1227.0 527.4,1226.9 529.4,1226.8 531.3,1226.6 533.3,1226.5 535.3,1226.3 537.3,1226.2 539.3,1226.0 541.3,1225.8 543.3,1225.7 545.3,1225.5 547.3,1225.3 549.3,1225.1 551.2,1224.9 553.2,1224.7 555.2,1224.5 557.2,1224.3 559.2,1224.1 561.2,1223.8 563.1,1223.6 565.1,1223.4 567.1,1223.1 569.1,1222.9 571.0,1222.6 573.0,1222.3 575.0,1222.1 577.0,1221.8 578.9,1221.5 580.9,1221.2 582.9,1220.9 584.9,1220.6 586.8,1220.3 588.8,1220.0 590.8,1219.6 592.7,1219.3 594.7,1218.9 596.6,1218.6 598.6,1218.2 600.6,1217.8 602.5,1217.5 604.5,1217.1 606.4,1216.7 608.4,1216.3 610.4,1215.9 612.3,1215.4 614.3,1215.0 616.2,1214.6 618.2,1214.1 620.1,1213.7 622.0,1213.2 624.0,1212.7 625.9,1212.3 627.9,1211.8 629.8,1211.3 631.7,1210.7 633.7,1210.2 635.6,1209.7 637.5,1209.1 639.4,1208.6 641.4,1208.0 643.3,1207.4 645.2,1206.9 647.1,1206.3 649.0,1205.7 650.9,1205.0 652.8,1204.4 654.7,1203.8 656.6,1203.1 658.5,1202.4 660.3,1201.7 662.2,1201.1 664.1,1200.3 665.9,1199.6 667.8,1198.9 669.7,1198.2 671.5,1197.4 673.4,1196.6 675.2,1195.8 677.0,1195.1 678.9,1194.3 680.7,1193.4 682.5,1192.6 684.3,1191.8 686.1,1190.9 687.9,1190.1 689.8,1189.2 691.6,1188.3 693.3,1187.5 695.1,1186.6 696.9,1185.7 698.7,1184.7 700.5,1183.8 702.3,1182.9 704.0,1182.0 705.8,1181.0 707.6,1180.1 709.3,1179.1 711.1,1178.1 712.8,1177.2 714.6,1176.2 716.3,1175.2 718.1,1174.2 719.8,1173.2 721.5,1172.2 723.3,1171.2 725.0,1170.2 726.7,1169.1 728.4,1168.1 730.2,1167.1 731.9,1166.0 733.6,1165.0 735.3,1163.9 737.0,1162.9 738.7,1161.8 740.4,1160.8 742.1,1159.7 743.8,1158.6 745.4,1157.5 747.1,1156.5 748.8,1155.4 750.5,1154.3 752.2,1153.2 753.8,1152.1 755.5,1151.0 757.2,1149.8 758.8,1148.7 760.5,1147.6 762.1,1146.5 763.8,1145.3 765.4,1144.2 767.1,1143.1 768.7,1141.9 770.3,1140.8 772.0,1139.6 773.6,1138.4 775.2,1137.3 776.8,1136.1 778.5,1134.9 780.1,1133.7 781.7,1132.6 783.3,1131.4 784.9,1130.2 786.5,1129.0 788.1,1127.8 789.7,1126.6 791.3,1125.3 792.9,1124.1 794.5,1122.9 796.0,1121.7 797.6,1120.4 799.2,1119.2 800.8,1118.0 802.3,1116.7 803.9,1115.5 805.4,1114.2 807.0,1113.0 808.6,1111.7 810.1,1110.4 811.7,1109.2 813.2,1107.9 814.7,1106.6 816.3,1105.3 817.8,1104.0 819.3,1102.8 820.9,1101.5 822.4,1100.2 823.9,1098.9 825.4,1097.5 826.9,1096.2 828.4,1094.9 830.0,1093.6 831.5,1092.3 833.0,1091.0 834.5,1089.6 835.9,1088.3 837.4,1086.9 838.9,1085.6 840.4,1084.3 841.9,1082.9 843.4,1081.6 844.8,1080.2 846.3,1078.8 847.8,1077.5 849.2,1076.1 850.7,1074.7 852.1,1073.3 853.6,1072.0 855.0,1070.6 856.5,1069.2 857.9,1067.8 859.4,1066.4 860.8,1065.0 862.2,1063.6 863.7,1062.2 865.1,1060.8 866.5,1059.4 867.9,1058.0 869.3,1056.5 870.7,1055.1 872.1,1053.7 873.6,1052.3 875.0,1050.8 876.4,1049.4 877.7,1048.0 879.1,1046.5 880.5,1045.1 881.9,1043.6 883.3,1042.2 884.7,1040.7 886.0,1039.2 887.4,1037.8 888.8,1036.3 890.1,1034.8 891.5,1033.4 892.9,1031.9 894.2,1030.4 895.6,1028.9 896.9,1027.5 898.2,1026.0 899.6,1024.5 900.9,1023.0 902.2,1021.5 903.6,1020.0 904.9,1018.5 906.2,1017.0 907.5,1015.5 908.9,1014.0 910.2,1012.4 911.5,1010.9 912.8,1009.4 914.1,1007.9 915.4,1006.3 916.6,1004.8 917.9,1003.3 919.2,1001.7 920.5,1000.2 921.7,998.6 923.0,997.1 924.3,995.5 925.5,994.0 926.8,992.4 928.0,990.8 929.3,989.3 930.5,987.7 931.7,986.1 932.9,984.5 934.2,983.0 935.4,981.4 936.6,979.8 937.8,978.2 939.0,976.6 940.2,975.0 941.3,973.4 942.5,971.7 943.7,970.1 944.9,968.5 946.0,966.9 947.2,965.2 948.3,963.6 949.4,962.0 950.6,960.3 951.7,958.7 952.8,957.0 953.9,955.3 955.0,953.7 956.1,952.0 957.2,950.3 958.3,948.7 959.4,947.0 960.5,945.3 961.5,943.6 962.6,941.9 963.6,940.2 964.7,938.5 965.7,936.8 966.7,935.0 967.7,933.3 968.7,931.6 969.8,929.9 970.8,928.1 971.8,926.4 972.7,924.7 973.7,922.9 974.7,921.2 975.7,919.4 976.7,917.7 977.6,915.9 978.6,914.1 979.5,912.4 980.5,910.6 981.4,908.9 982.4,907.1 983.3,905.3 984.3,903.6 985.2,901.8 986.2,900.0 987.1,898.2 988.0,896.5 989.0,894.7 989.9,892.9 990.8,891.1 991.7,889.4 992.7,887.6 993.6,885.8 994.5,884.0 995.5,882.3 996.4,880.5 997.3,878.7 998.2,877.0 999.2,875.2 1000.1,873.4 1001.0,871.6 1002.0,869.9 1002.9,868.1 1003.8,866.4 1004.8,864.6 1005.7,862.8 1006.7,861.1 1007.6,859.3 1008.6,857.6 1009.5,855.8 1010.5,854.1 1011.4,852.3 1012.4,850.6 1013.3,848.9 1014.3,847.1 1015.3,845.4 1016.2,843.7 1017.2,841.9 1018.2,840.2 1019.1,838.5 1020.1,836.7 1021.1,835.0 1022.0,833.2 1023.0,831.5 1024.0,829.8 1024.9,828.0 1025.9,826.3 1026.9,824.5 1027.8,822.8 1028.8,821.0 1029.7,819.3 1030.7,817.5 1031.7,815.8 1032.6,814.0 1033.5,812.2 1034.5,810.5 1035.4,808.7 1036.4,806.9 1037.3,805.1 1038.2,803.3 1039.1,801.5 1040.0,799.7 1041.0,797.9 1041.9,796.1 1042.8,794.3 1043.7,792.5 1044.6,790.6 1045.5,788.8 1046.3,787.0 1047.2,785.2 1048.1,783.3 1049.0,781.5 1049.9,779.7 1050.8,777.8 1051.7,776.0 1052.6,774.2 1053.5,772.3 1054.4,770.5 1055.2,768.7 1056.1,766.9 1057.0,765.1 1058.0,763.3 1058.9,761.5 1059.8,759.7 1060.7,757.9 1061.6,756.1 1062.5,754.3 1063.5,752.5 1064.4,750.8 1065.4,749.0 1066.3,747.3 1067.3,745.6 1068.3,743.8 1069.2,742.1 1070.2,740.4 1071.2,738.7 1072.2,737.0 1073.2,735.3 1074.2,733.6 1075.2,731.9 1076.2,730.2 1077.2,728.5 1078.2,726.8 1079.2,725.2 1080.3,723.5 1081.3,721.8 1082.3,720.2 1083.4,718.5 1084.4,716.8 1085.4,715.2 1086.5,713.5 1087.5,711.9 1088.6,710.2 1089.6,708.5 1090.7,706.9 1091.7,705.2 1092.8,703.5 1093.8,701.9 1094.9,700.2 1095.9,698.5 1097.0,696.9 1098.1,695.2 1099.1,693.5 1100.2,691.8 1101.3,690.2 1102.3,688.5 1103.4,686.8 1104.4,685.1 1105.5,683.4 1106.6,681.7 1107.6,679.9 1108.7,678.2 1109.7,676.5 1110.8,674.8 1111.9,673.0 1112.9,671.3 1114.0,669.5 1115.0,667.7 1116.1,666.0 1117.1,664.2 1118.2,662.4 1119.2,660.6 1120.3,658.8 1121.3,657.0 1122.4,655.2 1123.4,653.3 1124.5,651.5 1125.5,649.7 1126.6,647.9 1127.7,646.1 1128.8,644.4 1129.9,642.6 1131.0,640.8 1132.1,639.1 1133.3,637.4 1134.5,635.7 1135.7,634.1 1136.9,632.5 1138.1,630.9 1139.4,629.4 1140.7,627.8 1142.0,626.4 1143.4,624.9 1144.8,623.6 1146.2,622.2 1147.7,620.9 1149.2,619.7 1150.7,618.5 1152.3,617.4 1154.0,616.4 1155.6,615.4 1157.3,614.4 1159.1,613.6 1160.9,612.8 1162.7,612.1 1164.6,611.5 1166.4,611.0 1168.2,610.7 1170.0,610.5 1171.7,610.5 1173.3,610.6 1174.9,611.0 1176.4,611.5 1177.8,612.3 1179.0,613.2 1180.2,614.4 1181.2,615.9 1182.0,617.5 1182.8,619.2 1183.5,621.1 1184.0,623.1 1184.4,625.2 1184.8,627.4 1185.1,629.6 1185.3,631.8 1185.5,634.1 1185.6,636.4 1185.7,638.7 1185.8,640.9 1185.9,643.1 1186.0,645.3 1186.1,647.4 1186.1,649.4 1186.2,651.5 1186.3,653.5 1186.4,655.5 1186.4,657.4 1186.5,659.4 1186.6,661.3 1186.6,663.3 1186.7,665.2 1186.8,667.1 1186.8,669.1 1186.8,671.1 1186.9,673.0 1186.9,675.0 1186.9,677.0 1187.0,679.0 1187.0,680.9 1187.0,682.9 1187.0,684.9 1187.1,686.9 1187.1,688.9 1187.1,690.9 1187.1,692.9 1187.1,694.9 1187.1,696.9 1187.1,698.9 1187.2,700.9 1187.2,702.9 1187.2,704.9 1187.2,706.9 1187.2,708.9 1187.2,710.9 1187.3,712.9 1187.3,714.8 1187.3,716.8 1187.3,718.8 1187.3,720.8 1187.4,722.8 1187.4,724.8 1187.4,726.8 1187.4,728.8 1187.4,730.8 1187.5,732.9 1187.5,734.9 1187.5,736.9 1187.5,738.9 1187.6,740.9 1187.6,742.9 1187.6,744.9 1187.6,746.9 1187.7,748.9 1187.7,750.9 1187.7,752.9 1187.7,754.9 1187.8,756.9 1187.8,758.9 1187.8,760.9 1187.8,762.9 1187.9,764.9 1187.9,766.9 1187.9,768.9 1188.0,770.9 1188.0,772.9 1188.0,774.9 1188.0,776.9 1188.1,778.9 1188.1,780.9 1188.1,782.9 1188.2,784.9 1188.2,786.9 1188.2,788.9 1188.3,790.9 1188.3,792.9 1188.3,795.0 1188.3,797.0 1188.4,799.0 1188.4,801.0 1188.4,803.0 1188.5,805.0 1188.5,807.0 1188.5,809.0 1188.6,811.0 1188.6,813.0 1188.6,815.0 1188.7,817.0 1188.7,819.0 1188.7,821.0 1188.8,823.0 1188.8,825.0 1188.8,827.0 1188.9,829.0 1188.9,831.1 1188.9,833.1 1189.0,835.1 1189.0,837.1 1189.0,839.1 1189.1,841.1 1189.1,843.1 1189.1,845.1 1189.1,847.1 1189.2,849.1 1189.2,851.1 1189.2,853.1 1189.3,855.1 1189.3,857.1 1189.3,859.1 1189.4,861.1 1189.4,863.1 1189.4,865.1 1189.5,867.1 1189.5,869.2 1189.5,871.2 1189.6,873.2 1189.6,875.2 1189.6,877.2 1189.6,879.2 1189.7,881.2 1189.7,883.2 1189.7,885.2 1189.8,887.2 1189.8,889.2 1189.8,891.2 1189.8,893.2 1189.9,895.2 1189.9,897.2 1189.9,899.2 1190.0,901.2 1190.0,903.2 1190.0,905.2 1190.0,907.2 1190.1,909.2 1190.1,911.2 1190.1,913.2 1190.1,915.2 1190.2,917.2 1190.2,919.2 1190.2,921.2 1190.2,923.2 1190.3,925.2 1190.3,927.2 1190.3,929.2 1190.3,931.2 1190.4,933.2 1190.4,935.2 1190.4,937.2 1190.4,939.2 1190.5,941.2 1190.5,943.2 1190.5,945.2 1190.5,947.2 1190.5,949.2 1190.6,951.2 1190.6,953.2 1190.6,955.2 1190.6,957.2 1190.7,959.2 1190.7,961.2 1190.7,963.2 1190.7,965.2 1190.8,967.2 1190.8,969.2 1190.8,971.2 1190.9,973.2 1190.9,975.2 1190.9,977.2 1190.9,979.2 1191.0,981.2 1191.0,983.2 1191.0,985.2 1191.1,987.2 1191.1,989.2 1191.1,991.2 1191.2,993.2 1191.2,995.2 1191.2,997.2 1191.3,999.2 1191.3,1001.2 1191.3,1003.2 1191.4,1005.2 1191.4,1007.2 1191.5,1009.2 1191.5,1011.2 1191.5,1013.2 1191.6,1015.2 1191.6,1017.2 1191.7,1019.2 1191.7,1021.2 1191.8,1023.2 1191.8,1025.2 1191.9,1027.2 1191.9,1029.2 1192.0,1031.2 1192.0,1033.2 1192.1,1035.2 1192.1,1037.2 1192.2,1039.2 1192.2,1041.2 1192.3,1043.2 1192.4,1045.2 1192.4,1047.2 1192.5,1049.2 1192.5,1051.2 1192.6,1053.2 1192.7,1055.2 1192.7,1057.2 1192.8,1059.2 1192.9,1061.2 1193.0,1063.2 1193.0,1065.2 1193.1,1067.2 1193.2,1069.2 1193.3,1071.2 1193.3,1073.2 1193.4,1075.2 1193.5,1077.2 1193.6,1079.2 1193.7,1081.2 1193.8,1083.2 1193.9,1085.2 1193.9,1087.2 1194.0,1089.2 1194.1,1091.2 1194.2,1093.2 1194.3,1095.2 1194.4,1097.3 1194.5,1099.3 1194.6,1101.3 1194.8,1103.3 1194.9,1105.3 1195.0,1107.3 1195.1,1109.3 1195.2,1111.3 1195.3,1113.3 1195.4,1115.3 1195.6,1117.3 1195.7,1119.3 1195.8,1121.3 1195.9,1123.3 1196.1,1125.3 1196.2,1127.3 1196.3,1129.3 1196.5,1131.3 1196.6,1133.3 1196.8,1135.4 1196.9,1137.4 1197.1,1139.4 1197.2,1141.4 1197.4,1143.4 1197.5,1145.4 1197.7,1147.4 1197.8,1149.4 1198.0,1151.4 1198.1,1153.4 1198.3,1155.4 1198.5,1157.4 1198.7,1159.5 1198.9,1161.5 1199.1,1163.5 1199.3,1165.5 1199.5,1167.5 1199.8,1169.4 1200.1,1171.4 1200.4,1173.4 1200.7,1175.4 1201.1,1177.3 1201.6,1179.3 1202.1,1181.2 1202.6,1183.1 1203.2,1185.0 1203.8,1186.9 1204.5,1188.7 1205.3,1190.6 1206.1,1192.4 1207.0,1194.2 1208.0,1196.0 1209.0,1197.7 1210.1,1199.3 1211.3,1200.9 1212.6,1202.4 1214.0,1203.8 1215.4,1205.1 1216.9,1206.3 1218.5,1207.4 1220.2,1208.4 1221.9,1209.4 1223.7,1210.2 1225.5,1210.9 1227.4,1211.6 1229.3,1212.1 1231.2,1212.6 1233.2,1213.0 1235.2,1213.4 1237.2,1213.7 1239.3,1214.0 1241.3,1214.3 1243.4,1214.5 1245.4,1214.7 1247.4,1215.0 1249.5,1215.2 1251.5,1215.4 1253.5,1215.6 1255.5,1215.9 1257.6,1216.1 1259.6,1216.3 1261.6,1216.4 1263.6,1216.6 1265.6,1216.8 1267.6,1216.9 1269.6,1217.1 1271.6,1217.2 1273.6,1217.3 1275.6,1217.4 1277.6,1217.5 1279.6,1217.6 1281.6,1217.6 1283.6,1217.7 1285.6,1217.7 1287.6,1217.8 1289.6,1217.8 1291.6,1217.8 1293.6,1217.8 1295.6,1217.8 1297.6,1217.8 1299.5,1217.8 1301.5,1217.7 1303.5,1217.7 1305.5,1217.6 1307.5,1217.6 1309.5,1217.5 1311.5,1217.4 1313.5,1217.4 1315.5,1217.3 1317.5,1217.2 1319.5,1217.1 1321.5,1217.0 1323.5,1216.9 1325.5,1216.8 1327.5,1216.6 1329.5,1216.5 1331.5,1216.4 1333.5,1216.3 1335.5,1216.1 1337.5,1216.0 1339.4,1215.9 1341.4,1215.7 1343.4,1215.6 1345.4,1215.4 1347.4,1215.3 1349.4,1215.1 1351.4,1215.0 1353.4,1214.8 1355.4,1214.7 1357.4,1214.5 1359.4,1214.4 1361.4,1214.2 1363.4,1214.1 1365.4,1214.0 1367.4,1213.8 1369.4,1213.7 1371.4,1213.5 1373.4,1213.4 1375.4,1213.2 1377.4,1213.1 1379.4,1212.9 1381.4,1212.8 1383.4,1212.7 1385.4,1212.5 1387.4,1212.4 1389.4,1212.2 1391.4,1212.1 1393.4,1211.9 1395.4,1211.8 1397.4,1211.7 1399.4,1211.5 1401.4,1211.4 1403.4,1211.2 1405.4,1211.1 1407.4,1210.9 1409.4,1210.8 1411.4,1210.6 1413.4,1210.5 1415.4,1210.3 1417.4,1210.2 1419.3,1210.0 1421.3,1209.9 1423.3,1209.7 1425.3,1209.5 1427.3,1209.4 1429.3,1209.2 1431.3,1209.1 1433.3,1208.9 1435.3,1208.7 1437.3,1208.6 1439.3,1208.4 1441.3,1208.2 1443.3,1208.0 1445.3,1207.9 1447.3,1207.7 1449.3,1207.5 1451.3,1207.3 1453.3,1207.1 1455.3,1206.9 1457.3,1206.7 1459.3,1206.5 1461.3,1206.3 1463.3,1206.1 1465.3,1205.9 1467.2,1205.7 1469.2,1205.5 1471.2,1205.3 1473.2,1205.1 1475.2,1204.9 1477.2,1204.7 1479.2,1204.4 1481.2,1204.2 1483.2,1204.0 1485.2,1203.7 1487.1,1203.5 1489.1,1203.2 1491.1,1203.0 1493.1,1202.7 1495.1,1202.5 1497.1,1202.2 1499.1,1202.0 1501.0,1201.7 1503.0,1201.4 1505.0,1201.1 1507.0,1200.9 1509.0,1200.6 1511.0,1200.3 1512.9,1200.0 1514.9,1199.7 1516.9,1199.4 1518.9,1199.1 1520.9,1198.8 1522.8,1198.4 1524.8,1198.1 1526.8,1197.8 1528.7,1197.4 1530.7,1197.1 1532.7,1196.7 1534.6,1196.4 1536.6,1196.0 1538.6,1195.6 1540.5,1195.2 1542.5,1194.9 1544.5,1194.5 1546.4,1194.0 1548.4,1193.6 1550.3,1193.2 1552.3,1192.8 1554.2,1192.3 1556.2,1191.9 1558.1,1191.4 1560.0,1190.9 1562.0,1190.5 1563.9,1190.0 1565.8,1189.5 1567.8,1189.0 1569.7,1188.4 1571.6,1187.9 1573.5,1187.4 1575.4,1186.8 1577.4,1186.2 1579.3,1185.7 1581.2,1185.1 1583.1,1184.5 1585.0,1183.9 1586.9,1183.2 1588.7,1182.6 1590.6,1181.9 1592.5,1181.3 1594.4,1180.6 1596.3,1179.9 1598.1,1179.2 1600.0,1178.5 1601.9,1177.8 1603.7,1177.0 1605.6,1176.2 1607.4,1175.5 1609.3,1174.7 1611.1,1173.9 1612.9,1173.1 1614.8,1172.3 1616.6,1171.4 1618.4,1170.6 1620.2,1169.7 1622.0,1168.9 1623.9,1168.0 1625.7,1167.1 1627.5,1166.2 1629.3,1165.3 1631.0,1164.4 1632.8,1163.5 1634.6,1162.6 1636.4,1161.6 1638.2,1160.7 1639.9,1159.7 1641.7,1158.7 1643.5,1157.8 1645.2,1156.8 1647.0,1155.8 1648.7,1154.8 1650.5,1153.8 1652.2,1152.8 1653.9,1151.8 1655.7,1150.8 1657.4,1149.7 1659.1,1148.7 1660.8,1147.7 1662.6,1146.6 1664.3,1145.6 1666.0,1144.5 1667.7,1143.5 1669.4,1142.4 1671.1,1141.3 1672.8,1140.2 1674.4,1139.2 1676.1,1138.1 1677.8,1137.0 1679.5,1135.9 1681.2,1134.8 1682.8,1133.7 1684.5,1132.5 1686.1,1131.4 1687.8,1130.3 1689.4,1129.2 1691.1,1128.0 1692.7,1126.9 1694.4,1125.7 1696.0,1124.6 1697.6,1123.4 1699.3,1122.3 1700.9,1121.1 1702.5,1119.9 1704.1,1118.8 1705.7,1117.6 1707.3,1116.4 1709.0,1115.2 1710.6,1114.0 1712.2,1112.8 1713.8,1111.6 1715.3,1110.4 1716.9,1109.2 1718.5,1108.0 1720.1,1106.7 1721.7,1105.5 1723.3,1104.3 1724.8,1103.1 1726.4,1101.8 1728.0,1100.6 1729.5,1099.3 1731.1,1098.1 1732.6,1096.8 1734.2,1095.6 1735.7,1094.3 1737.3,1093.0 1738.8,1091.7 1740.4,1090.5 1741.9,1089.2 1743.4,1087.9 1745.0,1086.6 1746.5,1085.3 1748.0,1084.0 1749.5,1082.7 1751.0,1081.4 1752.6,1080.1 1754.1,1078.8 1755.6,1077.5 1757.1,1076.2 1758.6,1074.9 1760.1,1073.5 1761.6,1072.2 1763.1,1070.9 1764.6,1069.6 1766.1,1068.2 1767.6,1066.9 1769.0,1065.5 1770.5,1064.2 1772.0,1062.8 1773.5,1061.5 1775.0,1060.1 1776.4,1058.8 1777.9,1057.4 1779.4,1056.0 1780.8,1054.7 1782.3,1053.3 1783.7,1051.9 1785.2,1050.6 1786.7,1049.2 1788.1,1047.8 1789.6,1046.4 1791.0,1045.0 1792.4,1043.6 1793.9,1042.3 1795.3,1040.9 1796.8,1039.5 1798.2,1038.1 1799.6,1036.7 1801.1,1035.3 1802.5,1033.9 1803.9,1032.5 1805.3,1031.0 1806.8,1029.6 1808.2,1028.2 1809.6,1026.8 1811.0,1025.4 1812.4,1024.0 1813.8,1022.6 1815.2,1021.1 1816.7,1019.7 1818.1,1018.3 1819.5,1016.9 1820.9,1015.4 1822.3,1014.0 1823.7,1012.6 1825.1,1011.1 1826.5,1009.7 1827.9,1008.3 1829.3,1006.8 1830.7,1005.4 1832.1,1003.9 1833.5,1002.5 1834.8,1001.1 1836.2,999.6 1837.6,998.2 1839.0,996.7 1840.4,995.3 1841.8,993.9 1843.2,992.4 1844.6,991.0 1846.0,989.5 1847.4,988.1 1848.8,986.7 1850.1,985.2 1851.5,983.8 1852.9,982.3 1854.3,980.9 1855.7,979.4 1857.1,978.0 1858.5,976.6 1859.9,975.1 1861.3,973.7 1862.7,972.3 1864.1,970.8 1865.5,969.4 1866.9,967.9 1868.3,966.5 1869.7,965.1 1871.1,963.7 1872.5,962.2 1873.9,960.8 1875.3,959.4 1876.7,957.9 1878.1,956.5 1879.5,955.1 1880.9,953.7 1882.3,952.2 1883.7,950.8 1885.1,949.4 1886.5,948.0 1887.9,946.5 1889.3,945.1 1890.7,943.7 1892.1,942.2 1893.5,940.8 1894.9,939.4 1896.3,937.9 1897.7,936.5 1899.1,935.1 1900.5,933.6 1901.8,932.2 1903.2,930.7 1904.6,929.3 1906.0,927.8 1907.4,926.4 1908.7,924.9 1910.1,923.5 1911.5,922.0 1912.8,920.5 1914.2,919.1 1915.5,917.6 1916.9,916.1 1918.2,914.6 1919.6,913.1 1920.9,911.7 1922.2,910.2 1923.6,908.7 1924.9,907.2 1926.2,905.7 1927.5,904.1 1928.8,902.6 1930.1,901.1 1931.4,899.6 1932.7,898.1 1934.0,896.6 1935.3,895.0 1936.6,893.5 1937.9,892.0 1939.2,890.4 1940.5,888.9 1941.8,887.4 1943.0,885.8 1944.3,884.3 1945.6,882.7 1946.9,881.2 1948.2,879.7 1949.4,878.1 1950.7,876.6 1952.0,875.0 1953.3,873.5 1954.5,871.9 1955.8,870.4 1957.1,868.9 1958.4,867.3 1959.6,865.8 1960.9,864.2 1962.2,862.7 1963.5,861.2 1964.8,859.6 1966.1,858.1 1967.4,856.6 1968.6,855.0 1969.9,853.5 1971.2,852.0 1972.5,850.4 1973.8,848.9 1975.1,847.4 1976.4,845.9 1977.7,844.4 1979.1,842.9 1980.4,841.4 1981.7,839.8 1983.0,838.3 1984.3,836.8 1985.6,835.3 1986.9,833.8 1988.2,832.3 1989.5,830.8 1990.9,829.3 1992.2,827.8 1993.5,826.3 1994.8,824.8 1996.1,823.3 1997.4,821.8 1998.8,820.3 2000.1,818.8 2001.4,817.2 2002.7,815.7 2004.0,814.2 2005.3,812.7 2006.6,811.2 2007.9,809.7 2009.2,808.2 2010.5,806.7 2011.8,805.1 2013.1,803.6 2014.4,802.1 2015.7,800.6 2017.0,799.1 2018.3,797.5 2019.6,796.0 2020.9,794.5 2022.2,792.9 2023.4,791.4 2024.7,789.9 2026.0,788.3 2027.3,786.8 2028.5,785.2 2029.8,783.7 2031.1,782.1 2032.3,780.6 2033.6,779.0 2034.9,777.5 2036.1,775.9 2037.4,774.4 2038.6,772.8 2039.9,771.2 2041.2,769.7 2042.4,768.1 2043.7,766.6 2044.9,765.0 2046.2,763.4 2047.4,761.9 2048.7,760.3 2049.9,758.8 2051.2,757.2 2052.5,755.6 2053.7,754.1 2055.0,752.5 2056.2,751.0 2057.5,749.4 2058.7,747.8 2060.0,746.3 2061.2,744.7 2062.5,743.2 2063.8,741.6 2065.0,740.0 2066.3,738.5 2067.5,736.9 2068.8,735.4 2070.1,733.8 2071.4,732.3 2072.6,730.7 2073.9,729.2 2075.2,727.6 2076.5,726.1 2077.7,724.6 2079.0,723.0 2080.3,721.5 2081.6,720.0 2082.9,718.4 2084.2,716.9 2085.5,715.4 2086.8,713.9 2088.1,712.3 2089.4,710.8 2090.7,709.3 2092.0,707.8 2093.3,706.3 2094.7,704.8 2096.0,703.3 2095.0,705.0 2094.0,706.8 2093.0,708.5 2092.0,710.2 2091.0,712.0 2090.0,713.7 2089.0,715.4 2088.0,717.1 2087.0,718.9 2086.0,720.6 2085.0,722.3 2084.0,724.1 2083.0,725.8 2082.0,727.5 2081.0,729.3 2080.0,731.0 2079.0,732.7 2078.0,734.5 2077.0,736.2 2076.0,737.9 2075.0,739.7 2074.0,741.4 2073.0,743.1 2072.0,744.9 2071.0,746.6 2070.0,748.4 2068.9,750.1 2067.9,751.8 2066.9,753.6 2065.9,755.3 2064.9,757.0 2063.9,758.8 2062.9,760.5 2061.9,762.2 2060.9,764.0 2059.9,765.7 2058.9,767.4 2057.9,769.2 2056.9,770.9 2055.9,772.6 2054.9,774.3 2053.9,776.1 2052.8,777.8 2051.8,779.5 2050.8,781.3 2049.8,783.0 2048.8,784.7 2047.8,786.5 2046.8,788.2 2045.7,789.9 2044.7,791.6 2043.7,793.4 2042.7,795.1 2041.7,796.8 2040.7,798.6 2039.6,800.3 2038.6,802.0 2037.6,803.7 2036.6,805.4 2035.5,807.2 2034.5,808.9 2033.5,810.6 2032.5,812.3 2031.4,814.1 2030.4,815.8 2029.4,817.5 2028.3,819.2 2027.3,820.9 2026.3,822.6 2025.2,824.4 2024.2,826.1 2023.1,827.8 2022.1,829.5 2021.1,831.2 2020.0,832.9 2019.0,834.6 2017.9,836.3 2016.9,838.0 2015.8,839.8 2014.8,841.5 2013.7,843.2 2012.7,844.9 2011.6,846.6 2010.6,848.3 2009.5,850.0 2008.4,851.7 2007.4,853.4 2006.3,855.1 2005.3,856.8 2004.2,858.5 2003.1,860.2 2002.0,861.9 2001.0,863.5 1999.9,865.2 1998.8,866.9 1997.7,868.6 1996.7,870.3 1995.6,872.0 1994.5,873.7 1993.4,875.3 1992.3,877.0 1991.2,878.7 1990.1,880.4 1989.1,882.1 1988.0,883.7 1986.9,885.4 1985.8,887.1 1984.7,888.8 1983.6,890.4 1982.5,892.1 1981.3,893.8 1980.2,895.4 1979.1,897.1 1978.0,898.7 1976.9,900.4 1975.8,902.1 1974.6,903.7 1973.5,905.4 1972.4,907.0 1971.3,908.7 1970.1,910.3 1969.0,912.0 1967.9,913.6 1966.7,915.3 1965.6,916.9 1964.4,918.6 1963.3,920.2 1962.1,921.8 1961.0,923.5 1959.8,925.1 1958.7,926.7 1957.5,928.4 1956.4,930.0 1955.2,931.6 1954.0,933.2 1952.9,934.9 1951.7,936.5 1950.5,938.1 1949.3,939.7 1948.2,941.3 1947.0,942.9 1945.8,944.6 1944.6,946.2 1943.4,947.8 1942.2,949.4 1941.1,951.0 1939.9,952.6 1938.7,954.2 1937.5,955.8 1936.3,957.4 1935.1,959.0 1933.9,960.6 1932.7,962.3 1931.5,963.9 1930.3,965.5 1929.1,967.1 1927.9,968.7 1926.8,970.3 1925.6,971.9 1924.4,973.5 1923.2,975.1 1922.0,976.7 1920.8,978.3 1919.6,980.0 1918.4,981.6 1917.2,983.2 1916.0,984.8 1914.8,986.4 1913.6,988.0 1912.4,989.6 1911.2,991.2 1910.0,992.8 1908.8,994.4 1907.6,996.0 1906.4,997.6 1905.2,999.2 1904.0,1000.8 1902.8,1002.4 1901.6,1004.0 1900.4,1005.6 1899.2,1007.2 1898.0,1008.8 1896.7,1010.4 1895.5,1012.0 1894.3,1013.6 1893.1,1015.1 1891.8,1016.7 1890.6,1018.3 1889.4,1019.9 1888.1,1021.4 1886.9,1023.0 1885.6,1024.6 1884.4,1026.2 1883.1,1027.7 1881.9,1029.3 1880.6,1030.8 1879.4,1032.4 1878.1,1033.9 1876.8,1035.5 1875.6,1037.0 1874.3,1038.5 1873.0,1040.1 1871.7,1041.6 1870.4,1043.1 1869.1,1044.7 1867.8,1046.2 1866.5,1047.7 1865.2,1049.2 1863.9,1050.7 1862.6,1052.2 1861.3,1053.7 1859.9,1055.2 1858.6,1056.7 1857.3,1058.2 1855.9,1059.6 1854.6,1061.1 1853.2,1062.6 1851.9,1064.1 1850.5,1065.5 1849.1,1067.0 1847.8,1068.4 1846.4,1069.9 1845.0,1071.4 1843.7,1072.8 1842.3,1074.2 1840.9,1075.7 1839.5,1077.1 1838.1,1078.6 1836.7,1080.0 1835.3,1081.4 1833.9,1082.8 1832.5,1084.3 1831.1,1085.7 1829.7,1087.1 1828.3,1088.5 1826.8,1089.9 1825.4,1091.3 1824.0,1092.7 1822.6,1094.1 1821.1,1095.5 1819.7,1096.9 1818.3,1098.3 1816.8,1099.7 1815.4,1101.1 1813.9,1102.5 1812.5,1103.9 1811.0,1105.2 1809.6,1106.6 1808.1,1108.0 1806.7,1109.4 1805.2,1110.7 1803.8,1112.1 1802.3,1113.5 1800.8,1114.8 1799.4,1116.2 1797.9,1117.6 1796.4,1118.9 1794.9,1120.3 1793.5,1121.6 1792.0,1123.0 1790.5,1124.4 1789.0,1125.7 1787.6,1127.1 1786.1,1128.4 1784.6,1129.8 1783.1,1131.1 1781.6,1132.5 1780.1,1133.8 1778.7,1135.1 1777.2,1136.5 1775.7,1137.8 1774.2,1139.2 1772.7,1140.5 1771.2,1141.8 1769.7,1143.2 1768.2,1144.5 1766.7,1145.8 1765.2,1147.1 1763.7,1148.4 1762.1,1149.7 1760.6,1151.0 1759.0,1152.3 1757.5,1153.5 1755.9,1154.7 1754.3,1156.0 1752.7,1157.2 1751.1,1158.4 1749.5,1159.5 1747.9,1160.7 1746.3,1161.9 1744.6,1163.0 1743.0,1164.1 1741.3,1165.2 1739.6,1166.3 1738.0,1167.4 1736.3,1168.5 1734.6,1169.5 1732.9,1170.6 1731.1,1171.6 1729.4,1172.6 1727.7,1173.6 1726.0,1174.6 1724.2,1175.6 1722.4,1176.5 1720.7,1177.5 1718.9,1178.4 1717.1,1179.3 1715.4,1180.2 1713.6,1181.1 1711.8,1182.0 1710.0,1182.9 1708.2,1183.7 1706.3,1184.6 1704.5,1185.4 1702.7,1186.2 1700.9,1187.0 1699.0,1187.8 1697.2,1188.6 1695.3,1189.4 1693.5,1190.1 1691.6,1190.8 1689.8,1191.6 1687.9,1192.3 1686.0,1193.0 1684.2,1193.7 1682.3,1194.4 1680.4,1195.1 1678.5,1195.7 1676.6,1196.4 1674.7,1197.0 1672.8,1197.6 1670.9,1198.2 1669.0,1198.9 1667.1,1199.4 1665.2,1200.0 1663.3,1200.6 1661.4,1201.2 1659.4,1201.7 1657.5,1202.3 1655.6,1202.8 1653.6,1203.3 1651.7,1203.8 1649.8,1204.4 1647.8,1204.8 1645.9,1205.3 1643.9,1205.8 1642.0,1206.3 1640.0,1206.7 1638.1,1207.2 1636.1,1207.6 1634.2,1208.1 1632.2,1208.5 1630.2,1208.9 1628.3,1209.3 1626.3,1209.7 1624.3,1210.1 1622.4,1210.5 1620.4,1210.9 1618.4,1211.2 1616.5,1211.6 1614.5,1211.9 1612.5,1212.3 1610.5,1212.6 1608.6,1213.0 1606.6,1213.3 1604.6,1213.6 1602.6,1213.9 1600.6,1214.2 1598.7,1214.5 1596.7,1214.8 1594.7,1215.1 1592.7,1215.4 1590.7,1215.6 1588.7,1215.9 1586.8,1216.2 1584.8,1216.4 1582.8,1216.7 1580.8,1216.9 1578.8,1217.1 1576.8,1217.4 1574.8,1217.6 1572.8,1217.8 1570.9,1218.0 1568.9,1218.2 1566.9,1218.4 1564.9,1218.6 1562.9,1218.8 1560.9,1219.0 1558.9,1219.2 1556.9,1219.4 1554.9,1219.6 1552.9,1219.7 1550.9,1219.9 1548.9,1220.1 1546.9,1220.2 1544.9,1220.4 1543.0,1220.5 1541.0,1220.7 1539.0,1220.8 1537.0,1220.9 1535.0,1221.1 1533.0,1221.2 1531.0,1221.3 1529.0,1221.5 1527.0,1221.6 1525.0,1221.7 1523.0,1221.8 1521.0,1221.9 1519.0,1222.0 1517.0,1222.1 1515.0,1222.2 1513.0,1222.3 1511.0,1222.4 1509.0,1222.5 1507.0,1222.6 1505.0,1222.7 1503.0,1222.8 1501.0,1222.9 1499.0,1223.0 1497.0,1223.1 1495.0,1223.1 1493.0,1223.2 1491.0,1223.3 1489.0,1223.4 1487.0,1223.4 1485.0,1223.5 1483.0,1223.6 1481.0,1223.7 1479.0,1223.7 1477.0,1223.8 1475.0,1223.9 1472.9,1223.9 1470.9,1224.0 1468.9,1224.1 1466.9,1224.1 1464.9,1224.2 1462.9,1224.3 1460.9,1224.3 1458.9,1224.4 1456.9,1224.5 1454.9,1224.5 1452.9,1224.6 1450.9,1224.7 1448.9,1224.7 1446.9,1224.8 1444.9,1224.8 1442.9,1224.9 1440.9,1225.0 1438.9,1225.0 1436.9,1225.1 1434.9,1225.1 1432.9,1225.2 1430.9,1225.3 1428.9,1225.3 1426.9,1225.4 1424.9,1225.4 1422.9,1225.5 1420.9,1225.5 1418.9,1225.6 1416.9,1225.7 1414.9,1225.7 1412.9,1225.8 1410.9,1225.8 1408.9,1225.9 1406.9,1225.9 1404.9,1226.0 1402.9,1226.0 1400.9,1226.1 1398.8,1226.1 1396.8,1226.2 1394.8,1226.3 1392.8,1226.3 1390.8,1226.4 1388.8,1226.4 1386.8,1226.5 1384.8,1226.5 1382.8,1226.6 1380.8,1226.6 1378.8,1226.7 1376.8,1226.7 1374.8,1226.8 1372.8,1226.8 1370.8,1226.8 1368.8,1226.9 1366.8,1226.9 1364.8,1227.0 1362.8,1227.0 1360.8,1227.1 1358.8,1227.1 1356.8,1227.2 1354.8,1227.2 1352.8,1227.3 1350.8,1227.3 1348.8,1227.4 1346.8,1227.4 1344.8,1227.4 1342.8,1227.5 1340.8,1227.5 1338.8,1227.6 1336.8,1227.6 1334.8,1227.7 1332.8,1227.7 1330.7,1227.7 1328.7,1227.8 1326.7,1227.8 1324.7,1227.9 1322.7,1227.9 1320.7,1227.9 1318.7,1228.0 1316.7,1228.0 1314.7,1228.1 1312.7,1228.1 1310.7,1228.1 1308.7,1228.2 1306.7,1228.2 1304.7,1228.2 1302.7,1228.3 1300.7,1228.3 1298.7,1228.3 1296.7,1228.4 1294.7,1228.4 1292.7,1228.5 1290.7,1228.5 1288.7,1228.5 1286.7,1228.6 1284.7,1228.6 1282.7,1228.6 1280.7,1228.7 1278.7,1228.7 1276.7,1228.7 1274.7,1228.8 1272.7,1228.8 1270.7,1228.8 1268.7,1228.9 1266.6,1228.9 1264.6,1228.9 1262.6,1229.0 1260.6,1229.0 1258.6,1229.0 1256.6,1229.0 1254.6,1229.1 1252.6,1229.1 1250.6,1229.1 1248.6,1229.2 1246.6,1229.2 1244.6,1229.2 1242.6,1229.3 1240.6,1229.3 1238.6,1229.3 1236.6,1229.3 1234.6,1229.4 1232.6,1229.4 1230.6,1229.4 1228.6,1229.4 1226.6,1229.5 1224.6,1229.5 1222.6,1229.5 1220.6,1229.6 1218.6,1229.6 1216.6,1229.6 1214.6,1229.6 1212.6,1229.7 1210.6,1229.7 1208.6,1229.7 1206.6,1229.7 1204.5,1229.8 1202.5,1229.8 1200.5,1229.8 1198.5,1229.8 1196.5,1229.8 1194.5,1229.9 1192.5,1229.9 1190.5,1229.9 1188.5,1229.9 1186.5,1230.0 1184.5,1230.0 1182.5,1230.0 1180.5,1230.0 1178.5,1230.0 1176.5,1230.1 1174.5,1230.1 1172.5,1230.1 1170.5,1230.1 1168.5,1230.2 1166.5,1230.2 1164.5,1230.2 1162.5,1230.2 1160.5,1230.2 1158.5,1230.3 1156.5,1230.3 1154.5,1230.3 1152.5,1230.3 1150.5,1230.3 1148.5,1230.3 1146.5,1230.4 1144.4,1230.4 1142.4,1230.4 1140.4,1230.4 1138.4,1230.4 1136.4,1230.5 1134.4,1230.5 1132.4,1230.5 1130.4,1230.5 1128.4,1230.5 1126.4,1230.5 1124.4,1230.6 1122.4,1230.6 1120.4,1230.6 1118.4,1230.6 1116.4,1230.6 1114.4,1230.6 1112.4,1230.7 1110.4,1230.7 1108.4,1230.7 1106.4,1230.7 1104.4,1230.7 1102.4,1230.7 1100.4,1230.7 1098.4,1230.8 1096.4,1230.8 1094.4,1230.8 1092.4,1230.8 1090.4,1230.8 1088.4,1230.8 1086.4,1230.8 1084.3,1230.9 1082.3,1230.9 1080.3,1230.9 1078.3,1230.9 1076.3,1230.9 1074.3,1230.9 1072.3,1230.9 1070.3,1230.9 1068.3,1231.0 1066.3,1231.0 1064.3,1231.0 1062.3,1231.0 1060.3,1231.0 1058.3,1231.0 1056.3,1231.0 1054.3,1231.0 1052.3,1231.1 1050.3,1231.1 1048.3,1231.1 1046.3,1231.1 1044.3,1231.1 1042.3,1231.1 1040.3,1231.1 1038.3,1231.1 1036.3,1231.1 1034.3,1231.2 1032.3,1231.2 1030.3,1231.2 1028.3,1231.2 1026.3,1231.2 1024.2,1231.2 1022.2,1231.2 1020.2,1231.2 1018.2,1231.2 1016.2,1231.3 1014.2,1231.3 1012.2,1231.3 1010.2,1231.3 1008.2,1231.3 1006.2,1231.3 1004.2,1231.3 1002.2,1231.3 1000.2,1231.3 998.2,1231.3 996.2,1231.4 994.2,1231.4 992.2,1231.4 990.2,1231.4 988.2,1231.4 986.2,1231.4 984.2,1231.4 982.2,1231.4 980.2,1231.4 978.2,1231.4 976.2,1231.4 974.2,1231.5 972.2,1231.5 970.2,1231.5 968.2,1231.5 966.2,1231.5 964.1,1231.5 962.1,1231.5 960.1,1231.5 958.1,1231.5 956.1,1231.5 954.1,1231.5 952.1,1231.5 950.1,1231.6 948.1,1231.6 946.1,1231.6 944.1,1231.6 942.1,1231.6 940.1,1231.6 938.1,1231.6 936.1,1231.6 934.1,1231.6 932.1,1231.6 930.1,1231.6 928.1,1231.6 926.1,1231.7 924.1,1231.7 922.1,1231.7 920.1,1231.7 918.1,1231.7 916.1,1231.7 914.1,1231.7 912.1,1231.7 910.1,1231.7 908.1,1231.7 906.1,1231.7 904.1,1231.7 902.0,1231.8 900.0,1231.8 898.0,1231.8 896.0,1231.8 894.0,1231.8 892.0,1231.8 890.0,1231.8 888.0,1231.8 886.0,1231.8 884.0,1231.8 882.0,1231.8 880.0,1231.8 878.0,1231.9 876.0,1231.9 874.0,1231.9 872.0,1231.9 870.0,1231.9 868.0,1231.9 866.0,1231.9 864.0,1231.9 862.0,1231.9 860.0,1231.9 858.0,1231.9 856.0,1231.9 854.0,1232.0 852.0,1232.0 850.0,1232.0 848.0,1232.0 846.0,1232.0 844.0,1232.0 842.0,1232.0 840.0,1232.0 838.0,1232.0 835.9,1232.0 833.9,1232.0 831.9,1232.1 829.9,1232.1 827.9,1232.1 825.9,1232.1 823.9,1232.1 821.9,1232.1 819.9,1232.1 817.9,1232.1 815.9,1232.1 813.9,1232.1 811.9,1232.2 809.9,1232.2 807.9,1232.2 805.9,1232.2 803.9,1232.2 801.9,1232.2 799.9,1232.2 797.9,1232.2 795.9,1232.2 793.9,1232.3 791.9,1232.3 789.9,1232.3 787.9,1232.3 785.9,1232.3 783.9,1232.3 781.9,1232.3 779.9,1232.3 777.9,1232.3 775.9,1232.4 773.9,1232.4 771.9,1232.4 769.8,1232.4 767.8,1232.4 765.8,1232.4 763.8,1232.5 761.8,1232.5 759.8,1232.5 757.8,1232.5 755.8,1232.5 753.8,1232.6 751.8,1232.6 749.8,1232.6 747.8,1232.6 745.8,1232.6 743.8,1232.7 741.8,1232.7 739.8,1232.7 737.8,1232.8 735.8,1232.8 733.8,1232.8 731.8,1232.8 729.7,1232.9 727.7,1232.9 725.7,1233.0 723.7,1233.0 721.7,1233.0 719.7,1233.1 717.7,1233.1 715.7,1233.1 713.7,1233.2 711.7,1233.2 709.7,1233.3 707.6,1233.3 705.6,1233.4 703.6,1233.4 701.6,1233.5 699.6,1233.6 697.6,1233.7 695.6,1233.8 693.6,1234.0 691.7,1234.2 689.7,1234.6 687.8,1235.0 685.9,1235.5 684.1,1236.0 682.2,1236.7 680.4,1237.4 678.6,1238.3 676.7,1239.1 674.9,1240.0 673.1,1241.0 671.3,1242.0 669.5,1243.1 667.7,1244.2 665.9,1245.3 664.1,1246.4 662.2,1247.5 660.3,1248.7 658.4,1249.8 656.5,1250.8 654.7,1251.8 652.8,1252.6 651.1,1253.1 649.4,1253.4 647.8,1253.4 646.3,1253.0 645.0,1252.3 643.7,1251.4 642.6,1250.2 641.5,1248.8 640.5,1247.2 639.6,1245.4 638.8,1243.5 638.1,1241.6 637.5,1239.5 636.9,1237.4 636.4,1235.3 636.0,1233.2 635.7,1231.1 635.4,1229.1 635.1,1227.0 634.9,1224.9 634.7,1222.9 634.6,1220.8 634.5,1218.8 634.4,1216.8 634.3,1214.8 634.3,1212.7 634.2,1210.7 634.2,1208.7 634.1,1206.7 634.1,1204.7 634.0,1202.7 633.9,1200.7 633.8,1198.7 633.7,1196.7 633.6,1194.7 633.4,1192.8 633.3,1190.8 633.1,1188.8 632.9,1186.8 632.8,1184.8 632.6,1182.8 632.3,1180.9 632.1,1178.9 631.9,1176.9 631.6,1174.9 631.4,1172.9 631.1,1171.0 630.8,1169.0 630.6,1167.0 630.3,1165.0 630.0,1163.1 629.7,1161.1 629.3,1159.1 629.0,1157.1 628.7,1155.1 628.3,1153.2 628.0,1151.2 627.7,1149.2 627.3,1147.2 626.5,1149.1 625.6,1151.0 624.7,1152.8 623.7,1154.6 622.7,1156.3 621.6,1158.0 620.5,1159.7 619.4,1161.3 618.2,1162.9 617.0,1164.5 615.7,1166.0 614.4,1167.5 613.1,1168.9 611.7,1170.3 610.3,1171.7 608.9,1173.1 607.4,1174.4 606.0,1175.7 604.4,1177.0 602.9,1178.2 601.3,1179.4 599.7,1180.6 598.1,1181.7 596.5,1182.9 594.8,1184.0 593.1,1185.0 591.4,1186.1 589.7,1187.1 587.9,1188.1 586.2,1189.1 584.4,1190.1 582.6,1191.0 580.8,1192.0 579.0,1192.9 577.2,1193.7 575.4,1194.6 573.5,1195.5 571.6,1196.3 569.8,1197.1 567.9,1197.9 566.0,1198.7 564.1,1199.4 562.2,1200.2 560.3,1200.9 558.4,1201.7 556.5,1202.4 554.6,1203.1 552.7,1203.7 550.8,1204.4 548.8,1205.1 546.9,1205.7 545.0,1206.3 543.1,1206.9 541.1,1207.5 539.2,1208.1 537.3,1208.7 535.3,1209.3 533.4,1209.8 531.4,1210.4 529.5,1210.9 527.5,1211.4 525.6,1212.0 523.6,1212.5 521.7,1212.9 519.7,1213.4 517.7,1213.9 515.8,1214.3 513.8,1214.8 511.9,1215.2 509.9,1215.6 507.9,1216.1 505.9,1216.5 504.0,1216.9 502.0,1217.2 500.0,1217.6 498.0,1218.0 496.0,1218.4 494.1,1218.7 492.1,1219.0 490.1,1219.4 488.1,1219.7 486.1,1220.0 484.1,1220.3 482.1,1220.6 480.1,1220.9 478.1,1221.2 476.1,1221.5 474.1,1221.7 472.1,1222.0 470.1,1222.2 468.1,1222.5 466.1,1222.7 464.1,1222.9 462.1,1223.2 460.1,1223.4 458.1,1223.6 456.1,1223.8 454.1,1224.0 452.1,1224.2 450.0,1224.4 448.0,1224.5 446.0,1224.7 444.0,1224.9 442.0,1225.0 440.0,1225.2 437.9,1225.3 435.9,1225.5 433.9,1225.6 431.9,1225.8 429.9,1225.9 427.8,1226.0 425.8,1226.1 423.8,1226.2 421.8,1226.4 419.8,1226.5 417.7,1226.6 415.7,1226.7 413.7,1226.8 411.7,1226.9 409.6,1227.0 407.6,1227.0 405.6,1227.1 403.6,1227.2 401.5,1227.3 399.5,1227.4 397.5,1227.4 395.5,1227.5 393.5,1227.6 391.4,1227.6 389.4,1227.7 387.4,1227.8 385.4,1227.8 383.3,1227.9 381.3,1227.9 379.3,1228.0 377.3,1228.1 375.3,1228.1 373.2,1228.2 371.2,1228.2 369.2,1228.3 367.2,1228.3 365.2,1228.4 363.1,1228.4 361.1,1228.5 359.1,1228.5 357.1,1228.6 355.1,1228.6 353.1,1228.7 351.1,1228.7 349.0,1228.8 347.0,1228.8 345.0,1228.9 343.0,1228.9 341.0,1229.0 339.0,1229.0 337.0,1229.1 335.0,1229.2 333.0,1229.2 331.0,1229.3 329.0,1229.4 327.0,1229.4 325.0,1229.5" fill="none" stroke="#0000ff" stroke-width="8.0" stroke-linejoin="round" stroke-dasharray="51 12 8 12 8 12.3"/>
<path d="M1386,145.5 H1699" stroke="#000" stroke-width="8" fill="none"/>
<path d="M1385,214.8 H1692" stroke="#ff0000" stroke-width="7" stroke-dasharray="6.5 13.3" fill="none"/>
<path d="M1384.4,284.5 H1686" stroke="#00ff00" stroke-width="7.5" stroke-dasharray="40.5 11.5" fill="none"/>
<path d="M1384.4,352.8 H1680" stroke="#0000ff" stroke-width="7.5" stroke-dasharray="51 12 8 12 8 12.3" fill="none"/>
<text transform="translate(118.50,88.47) scale(1,1.030)" font-size="91.00">100</text>
<text transform="translate(169.11,323.62) scale(1,1.030)" font-size="91.00">80</text>
<text transform="translate(169.11,556.92) scale(1,1.030)" font-size="91.00">60</text>
<text transform="translate(169.11,791.87) scale(1,1.030)" font-size="91.00">40</text>
<text transform="translate(169.11,1026.07) scale(1,1.030)" font-size="91.00">20</text>
<text transform="translate(219.72,1260.27) scale(1,1.030)" font-size="91.00">0</text>
<text transform="translate(545.38,1454.60) scale(1,1.030)" font-size="79.00">0.5</text>
<text transform="translate(511.98,1454.07) scale(0.721,0.907)" font-size="79.00">–</text>
<text transform="translate(973.75,1454.60) scale(1,1.030)" font-size="79.00">0.0</text>
<text transform="translate(1417.23,1454.60) scale(1,1.030)" font-size="79.00">0.5</text>
<text transform="translate(1861.32,1454.60) scale(1,1.030)" font-size="79.00">1.0</text>
<text transform="translate(681.79,1571.60) scale(1,1.030)" font-size="89.90">Potential (V) vs. Ag/AgCl</text>
<text transform="translate(82.80,1042.17) rotate(-90) scale(1,1.030)" font-size="91.80">Current (mA)</text>
<text transform="translate(1793.33,166.00) scale(1,1.030)" font-size="60.32" stroke="#fff" stroke-width="0.8">0.8~0.6 V</text>
<text transform="translate(1760.39,169.45) scale(0.998,1.179)" font-size="59.90">–</text>
<text transform="translate(1793.33,233.90) scale(1,1.030)" font-size="60.32" stroke="#fff" stroke-width="0.8">0.8~0.8 V</text>
<text transform="translate(1760.39,237.35) scale(0.998,1.179)" font-size="59.90">–</text>
<text transform="translate(1793.33,305.00) scale(1,1.030)" font-size="60.32" stroke="#fff" stroke-width="0.8">0.8~1.0 V</text>
<text transform="translate(1760.39,308.45) scale(0.998,1.179)" font-size="59.90">–</text>
<text transform="translate(1793.33,373.90) scale(1,1.030)" font-size="60.32" stroke="#fff" stroke-width="0.8">0.8~1.2 V</text>
<text transform="translate(1760.39,377.35) scale(0.998,1.179)" font-size="59.90">–</text>
</svg></body></html>
